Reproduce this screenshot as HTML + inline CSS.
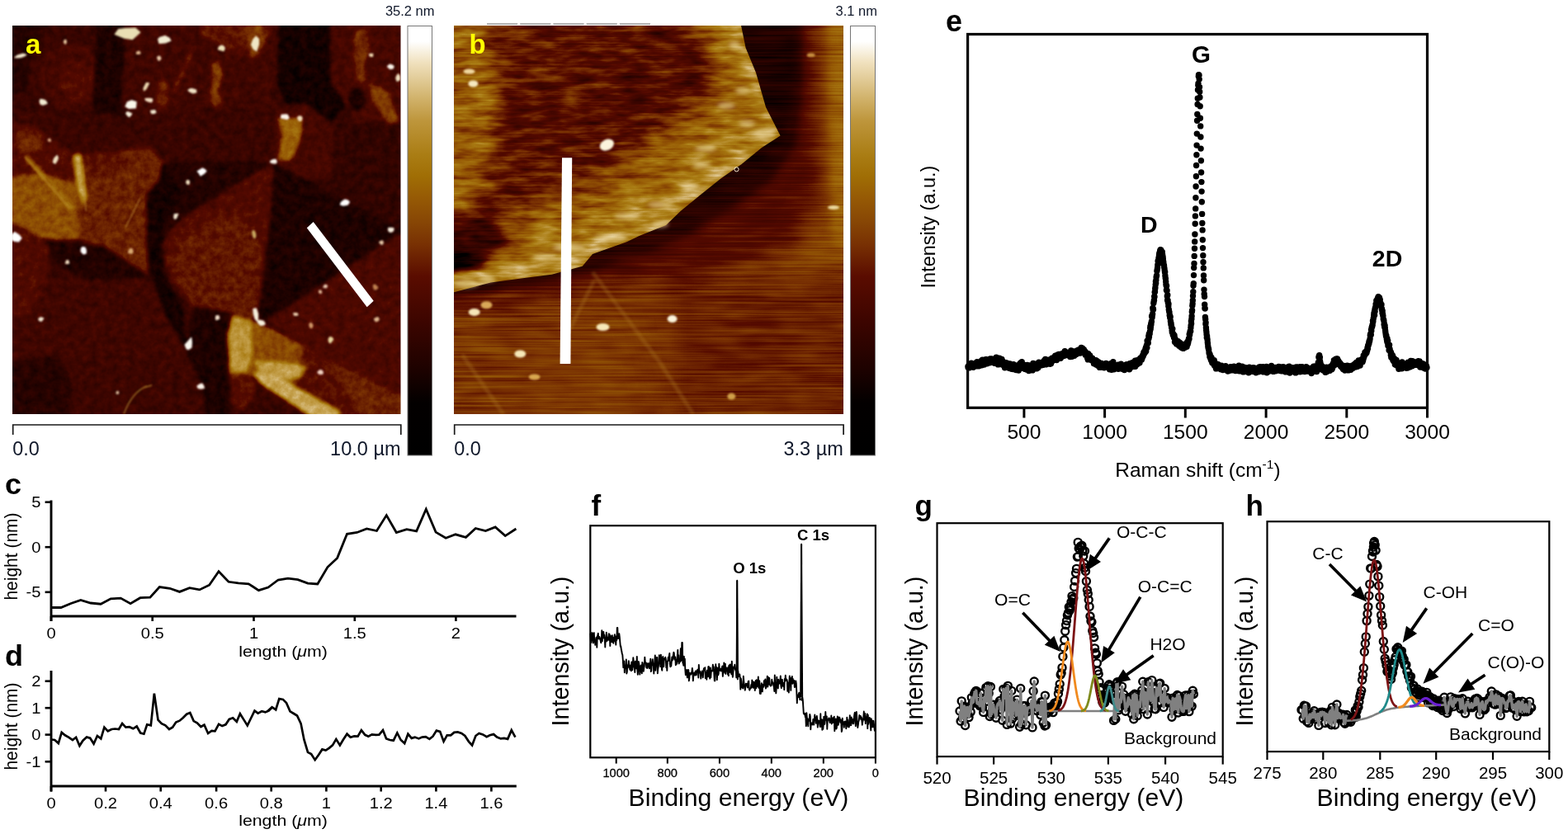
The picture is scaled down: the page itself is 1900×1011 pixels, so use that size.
<!DOCTYPE html>
<html lang="en"><head><meta charset="utf-8"><title>Figure: AFM, Raman and XPS characterisation</title>
<style>
html,body{margin:0;padding:0;background:#fff;}
body{width:1900px;height:1011px;overflow:hidden;font-family:"Liberation Sans",sans-serif;}
svg{display:block;font-family:"Liberation Sans",sans-serif;}
</style></head><body>
<svg width="1900" height="1011" viewBox="0 0 1900 1011">
<defs>
<linearGradient id="cbar" x1="0" y1="0" x2="0" y2="1">
<stop offset="0" stop-color="#fff"/><stop offset="0.036" stop-color="#fff"/><stop offset="0.085" stop-color="#f0e1be"/><stop offset="0.165" stop-color="#d2b46e"/><stop offset="0.22" stop-color="#be963c"/><stop offset="0.3" stop-color="#aa7d14"/><stop offset="0.35" stop-color="#a06e05"/><stop offset="0.4" stop-color="#965a05"/><stop offset="0.457" stop-color="#874605"/><stop offset="0.51" stop-color="#783003"/><stop offset="0.583" stop-color="#5a0c00"/><stop offset="0.69" stop-color="#3c0500"/><stop offset="0.797" stop-color="#1e0200"/><stop offset="0.877" stop-color="#030000"/><stop offset="1" stop-color="#000"/>
</linearGradient>
<clipPath id="clipA"><rect x="15" y="31" width="470.5" height="471"/></clipPath>
<clipPath id="clipB"><rect x="550" y="31" width="472" height="471"/></clipPath>
<filter id="blur1" x="-50%" y="-50%" width="200%" height="200%"><feGaussianBlur stdDeviation="1"/></filter>
<filter id="blur2" x="-50%" y="-50%" width="200%" height="200%"><feGaussianBlur stdDeviation="1.6"/></filter>
<filter id="blur3" x="-50%" y="-50%" width="200%" height="200%"><feGaussianBlur stdDeviation="2.6"/></filter>
<filter id="blur5" x="-50%" y="-50%" width="200%" height="200%"><feGaussianBlur stdDeviation="5"/></filter>
<filter id="blur12" x="-50%" y="-50%" width="200%" height="200%"><feGaussianBlur stdDeviation="12"/></filter>
<filter id="fA" x="0" y="0" width="1900" height="1011" filterUnits="userSpaceOnUse" color-interpolation-filters="sRGB"><feGaussianBlur in="SourceGraphic" stdDeviation="2.0" result="b"/><feTurbulence type="fractalNoise" baseFrequency="0.11" numOctaves="3" seed="5" result="n"/><feColorMatrix in="n" type="matrix" values="1 0 0 0 0  1 0 0 0 0  1 0 0 0 0  0 0 0 0 1" result="g"/><feComposite in="b" in2="g" operator="arithmetic" k1="0" k2="1" k3="0.16" k4="-0.08" result="c"/><feComponentTransfer><feFuncR type="table" tableValues="0 0 0.118 0.227 0.333 0.478 0.588 0.667 0.776 0.925 1"/><feFuncG type="table" tableValues="0 0 0.008 0.02 0.039 0.196 0.353 0.49 0.635 0.855 1"/><feFuncB type="table" tableValues="0 0 0 0 0 0.012 0.02 0.078 0.314 0.706 1"/></feComponentTransfer></filter><filter id="fB" x="0" y="0" width="1900" height="1011" filterUnits="userSpaceOnUse" color-interpolation-filters="sRGB"><feGaussianBlur in="SourceGraphic" stdDeviation="1.2" result="b"/><feTurbulence type="fractalNoise" baseFrequency="0.028 0.11" numOctaves="3" seed="9" result="n"/><feColorMatrix in="n" type="matrix" values="1 0 0 0 0  1 0 0 0 0  1 0 0 0 0  0 0 0 0 1" result="g"/><feComposite in="b" in2="g" operator="arithmetic" k1="0" k2="1" k3="0.4" k4="-0.2" result="c"/><feTurbulence type="fractalNoise" baseFrequency="0.006 0.45" numOctaves="2" seed="4" result="n2"/><feColorMatrix in="n2" type="matrix" values="1 0 0 0 0  1 0 0 0 0  1 0 0 0 0  0 0 0 0 1" result="g2"/><feComposite in="c" in2="g2" operator="arithmetic" k1="0" k2="1" k3="0.12" k4="-0.06" result="c"/><feComponentTransfer><feFuncR type="table" tableValues="0 0 0.118 0.227 0.333 0.478 0.588 0.667 0.776 0.925 1"/><feFuncG type="table" tableValues="0 0 0.008 0.02 0.039 0.196 0.353 0.49 0.635 0.855 1"/><feFuncB type="table" tableValues="0 0 0 0 0 0.012 0.02 0.078 0.314 0.706 1"/></feComponentTransfer></filter><filter id="fBs" x="0" y="0" width="1900" height="1011" filterUnits="userSpaceOnUse" color-interpolation-filters="sRGB"><feGaussianBlur in="SourceGraphic" stdDeviation="1.5" result="b"/><feTurbulence type="fractalNoise" baseFrequency="0.006 0.4" numOctaves="2" seed="4" result="n"/><feColorMatrix in="n" type="matrix" values="1 0 0 0 0  1 0 0 0 0  1 0 0 0 0  0 0 0 0 1" result="g"/><feComposite in="b" in2="g" operator="arithmetic" k1="0" k2="1" k3="0.22" k4="-0.11" result="c"/><feTurbulence type="fractalNoise" baseFrequency="0.02 0.06" numOctaves="2" seed="7" result="n2"/><feColorMatrix in="n2" type="matrix" values="1 0 0 0 0  1 0 0 0 0  1 0 0 0 0  0 0 0 0 1" result="g2"/><feComposite in="c" in2="g2" operator="arithmetic" k1="0" k2="1" k3="0.12" k4="-0.06" result="c"/><feComponentTransfer><feFuncR type="table" tableValues="0 0 0.118 0.227 0.333 0.478 0.588 0.667 0.776 0.925 1"/><feFuncG type="table" tableValues="0 0 0.008 0.02 0.039 0.196 0.353 0.49 0.635 0.855 1"/><feFuncB type="table" tableValues="0 0 0 0 0 0.012 0.02 0.078 0.314 0.706 1"/></feComponentTransfer></filter></defs>
<rect width="1900" height="1011" fill="#fff"/>
<g clip-path="url(#clipA)"><g filter="url(#fA)"><rect x="5" y="21" width="490" height="491" fill="#4a4a4a"/><polygon points="5,21 60,21 40,60 30,110 5,120" fill="#383838"/><ellipse cx="86" cy="92" rx="40" ry="40" fill="#575757"/><ellipse cx="95" cy="100" rx="22" ry="22" fill="#636363"/><polygon points="118,21 152,21 150,80 146,140 150,176 120,178 112,120 116,60" fill="#333333"/><polygon points="152,21 262,21 262,128 232,136 190,140 150,130 150,70" fill="#525252"/><polygon points="240,21 340,21 338,60 330,128 262,134 248,100" fill="#525252"/><polygon points="192,98 200,96 206,104 202,116 205,126 196,130 188,124 191,110" fill="#757575"/><polygon points="228,66 234,64 224,88 214,110 208,112 216,92" fill="#757575"/><polygon points="256,76 266,74 270,92 264,110 270,124 258,130 254,112 258,96" fill="#858585"/><polygon points="240,24 330,24 326,46 290,66 262,52 244,44" fill="#6b6b6b"/><polygon points="298,30 316,30 322,48 314,68 304,70 300,50" fill="#858585"/><polygon points="338,21 400,21 400,100 420,128 400,150 345,126 336,100" fill="#2b2b2b"/><polygon points="400,21 495,21 495,150 430,146 402,100" fill="#575757"/><polygon points="430,36 444,34 448,60 440,80 446,98 432,100 428,70" fill="#7a7a7a"/><polygon points="448,100 470,110 484,150 470,152 450,120" fill="#858585"/><ellipse cx="432" cy="120" rx="10" ry="14" fill="#333333"/><polygon points="5,132 150,140 330,136 330,196 300,212 200,200 180,178 110,184 5,180" fill="#4c4c4c"/><polygon points="330,128 372,126 402,150 404,212 372,218 334,200" fill="#575757"/><polygon points="336,142 368,144 364,170 352,196 336,194 342,165" fill="#9e9e9e"/><polygon points="404,150 495,150 495,282 404,236" fill="#454545"/><polygon points="5,150 40,150 72,176 100,187 92,222 50,212 5,215" fill="#616161"/><polygon points="100,187 148,182 183,179 198,197 193,219 178,236 178,300 184,337 126,298 92,290 88,230" fill="#757575"/><polygon points="5,215 50,210 92,222 96,290 67,291 50,288 5,266" fill="#919191"/><polygon points="100,187 148,183 160,200 120,215 96,212" fill="#6b6b6b"/><polygon points="88,188 98,186 106,240 99,248 92,220" fill="#c7c7c7"/><polygon points="28,190 34,189 90,250 84,254" fill="#a8a8a8"/><polygon points="20,160 48,164 52,182 24,184" fill="#7a7a7a"/><polygon points="198,197 240,215 222,250 200,262 198,330 220,367 228,429 213,456 200,440 196,380 180,330 178,256 178,236 193,219" fill="#2b2b2b"/><polygon points="198,197 330,196 300,214 262,238 225,260 205,280 200,262 222,240" fill="#383838"/><polygon points="58,292 126,300 184,338 196,372 150,352 100,336 64,318" fill="#363636"/><polygon points="5,268 50,288 60,300 56,340 40,380 5,390" fill="#616161"/><polygon points="331,197 300,215 262,240 225,262 205,280 197,296 200,320 212,345 235,370 262,385 290,392 312,386 320,330 328,260" fill="#616161"/><polygon points="262,262 300,262 318,300 312,386 290,392 262,385 235,370 212,345 204,318 215,290" fill="#6e6e6e" filter="url(#blur5)"/><polygon points="332,197 404,236 495,282 495,276 324,388 312,386 320,330 328,260" fill="#333333"/><polygon points="324,388 495,276 495,490 398,436 368,419" fill="#5c5c5c"/><polygon points="56,340 184,337 200,380 230,430 250,470 260,512 5,512 5,390 40,380" fill="#525252"/><polygon points="5,440 70,430 90,470 80,512 5,512" fill="#3b3b3b"/><polygon points="90,440 180,430 250,470 262,512 90,512" fill="#4f4f4f"/><polygon points="236,372 284,380 276,404 278,512 250,512 246,470 226,430" fill="#333333"/><polygon points="284.5,379.6 306.8,389.5 321.6,394.5 368.6,419.2 398.3,436.5 482.3,478.5 495,484 495,512 390,512 314,461 301.8,453.8 277,453.8 274.6,404.4" fill="#8a8a8a"/><polygon points="368,420 400,437 440,512 396,512 356,470" fill="#666666"/><polygon points="281,382 305,390 307,420 300,452 279,452 276,405" fill="#c2c2c2"/><polygon points="305,390 321,395 366,419 350,440 306,432" fill="#8f8f8f"/><polygon points="308,436 350,440 372,444 364,458 340,464 314,456" fill="#c7c7c7"/><polygon points="306,452 328,452 412,498 410,512 386,512 314,464" fill="#cccccc"/><polygon points="278,454 306,454 312,470 296,500 282,490" fill="#666666"/><polygon points="398,436.5 482.3,478.5 495,484 495,512 440,512" fill="#757575"/></g>
<g filter="url(#blur1)"><polygon points="160.5,47.6 150.7,46.1 139.3,41.5 143.6,35.6 152.5,34.5 163.8,34 169.7,39.3" fill="#e9dfb4" stroke="#e9dfb4" stroke-width="1.2" stroke-linejoin="round"/><polygon points="200.9,51.8 192.9,52.4 191.7,47.5 194,45.3 200,43.6 205.2,46.3 206.9,49.2" fill="#f2ecd2" stroke="#f2ecd2" stroke-width="1.2" stroke-linejoin="round"/><polygon points="28.5,68.5 24.7,69.7 21.1,69.8 17.9,69.7 21.4,67.1 27.5,65.2 31.8,66.4" fill="#f2e6cc" stroke="#f2e6cc" stroke-width="1.2" stroke-linejoin="round"/><polygon points="79.2,48.3 80.2,49.2 80.3,51.5 79.3,53.3 78.3,52.5 77.4,51 78.1,49" fill="#e8c8a0" stroke="#e8c8a0" stroke-width="1.2" stroke-linejoin="round"/><polygon points="57.1,125.4 52,127.3 49.1,126.2 48.1,122.8 49.1,120.3 53,121 55.4,122.3" fill="#f2ecd2" stroke="#f2ecd2" stroke-width="1.2" stroke-linejoin="round"/><polygon points="165.1,123.5 164.8,127.2 164.3,130.9 155.9,131.3 152.1,129 154.4,123.8 159.6,121.7" fill="#fbf8ea" stroke="#fbf8ea" stroke-width="1.2" stroke-linejoin="round"/><polygon points="159.6,137.9 158.3,140 156.5,141.6 154.5,140 152.7,137.4 154.3,135.7 156.5,136.3" fill="#f6f0dc" stroke="#f6f0dc" stroke-width="1.2" stroke-linejoin="round"/><polygon points="185.1,137.7 183.4,137.2 182.6,134.3 185.4,133.9 187.7,133.7 189,136.1 187.6,137.2" fill="#f2e6cc" stroke="#f2e6cc" stroke-width="1.2" stroke-linejoin="round"/><polygon points="184.4,119.9 184.7,121.9 183.6,123.8 180,123.1 176.4,121.5 176,119.6 180.6,119.4" fill="#f0dcc0" stroke="#f0dcc0" stroke-width="1.2" stroke-linejoin="round"/><polygon points="177.3,100.5 179,100.6 180.6,101 177.5,106.9 176.5,108.3 174.5,109.8 174,107.1" fill="#eed8b0" stroke="#eed8b0" stroke-width="1.2" stroke-linejoin="round"/><polygon points="191.4,68.6 193.5,68 194.5,69.5 194.9,71.4 193.1,73.2 191.8,73 190.6,69.7" fill="#e8c8a8" stroke="#e8c8a8" stroke-width="1.2" stroke-linejoin="round"/><polygon points="233,107.5 237.6,109.1 237.8,111.9 233.8,113 230.1,111.2 227.9,109.3 230.9,107.6" fill="#f0e2c4" stroke="#f0e2c4" stroke-width="1.2" stroke-linejoin="round"/><polygon points="165.3,63.9 166.3,62.8 168.6,62.1 169.9,63.7 169.9,64.9 168.3,65.3 165.9,65.5" fill="#e0b890" stroke="#e0b890" stroke-width="1.2" stroke-linejoin="round"/><polygon points="243,212.9 241.4,210.1 239.2,207.7 245.3,204.1 248,205.3 250,207.3 247.4,210.2" fill="#fff" stroke="#fff" stroke-width="1.2" stroke-linejoin="round"/><polygon points="64.5,195.6 65.7,192 69.2,188.4 70.3,191.1 69.7,193.9 67,198.3 64.6,197" fill="#f0e0c0" stroke="#f0e0c0" stroke-width="1.2" stroke-linejoin="round"/><polygon points="225.7,221.3 226.4,218.9 227.9,218.5 229.4,219.8 229.4,222 228.6,223.4 226.7,223" fill="#f0e0c0" stroke="#f0e0c0" stroke-width="1.2" stroke-linejoin="round"/><polygon points="215.7,259.4 214.9,261.3 213.8,264.3 211.9,265.4 210.8,263.8 211.3,259.6 212.9,259.5" fill="#f2e6d0" stroke="#f2e6d0" stroke-width="1.2" stroke-linejoin="round"/><polygon points="23.2,285 26,288.7 22.7,293 17.9,292.5 14.4,290.8 14.1,284.9 17.8,281.5" fill="#fff" stroke="#fff" stroke-width="1.2" stroke-linejoin="round"/><polygon points="101,307.9 98.2,304.9 98.4,301.5 99.9,299.7 103.1,300.2 104.3,303.5 104.1,307.1" fill="#fff" stroke="#fff" stroke-width="1.2" stroke-linejoin="round"/><polygon points="80.6,315.9 82.6,315.7 83.5,317.9 83.6,319 81.8,319.7 79.4,319.2 80.1,317.3" fill="#f0dcc0" stroke="#f0dcc0" stroke-width="1.2" stroke-linejoin="round"/><polygon points="159.7,301.2 160.4,302.5 161.2,305.3 159.5,307.4 155.5,306.4 156.3,303.5 157.1,302.1" fill="#d8a870" stroke="#d8a870" stroke-width="1.2" stroke-linejoin="round"/><polygon points="52.7,385.8 51.9,387.2 50.4,389.2 48,388.8 46.8,387.1 47.3,385.9 49.4,384.7" fill="#f2e6d0" stroke="#f2e6d0" stroke-width="1.2" stroke-linejoin="round"/><polygon points="232.3,414.8 231.9,421.3 228.4,423.6 226,422.6 224.2,418 228.3,413.4 231.7,409.4" fill="#fbf8f0" stroke="#fbf8f0" stroke-width="1.2" stroke-linejoin="round"/><polygon points="239,468 242.3,465.8 245,465.2 246.7,467.9 247.3,470.5 243.4,471.2 240,470.3" fill="#fbf4ea" stroke="#fbf4ea" stroke-width="1.2" stroke-linejoin="round"/><polygon points="142.9,477.4 141.6,477.2 141,476.7 141.3,475.1 142.5,474.4 143.4,474.8 143.7,476.5" fill="#e0c0a0" stroke="#e0c0a0" stroke-width="1.2" stroke-linejoin="round"/><polygon points="313.6,53.4 310.9,61.7 307.2,59.4 304.5,54.1 306.7,48.1 310.2,44.1 313.4,47.1" fill="#efe6c4" stroke="#efe6c4" stroke-width="1.2" stroke-linejoin="round"/><polygon points="270.9,56.1 272.3,58.3 271.1,61.6 267.2,60.6 264.4,59.7 265.6,56.5 268.5,55.1" fill="#efe2b8" stroke="#efe2b8" stroke-width="1.2" stroke-linejoin="round"/><polygon points="476.2,83 472.9,83.6 471.5,82.7 469.5,80.5 472.3,78.2 475.4,79.1 477.2,80.4" fill="#fbf4ea" stroke="#fbf4ea" stroke-width="1.2" stroke-linejoin="round"/><polygon points="479.8,94.8 480.9,91.7 482.7,89.7 484.3,92.2 484.5,96.7 482.7,97.8 481.2,98.5" fill="#f0e0c0" stroke="#f0e0c0" stroke-width="1.2" stroke-linejoin="round"/><polygon points="447.6,65.6 449.4,65.4 451.9,65.4 451.6,66.9 451.6,68.4 449.4,68.4 447.9,67.6" fill="#f0d8b0" stroke="#f0d8b0" stroke-width="1.2" stroke-linejoin="round"/><polygon points="341,139.3 345.3,138.9 348.3,139 350.2,142.9 348.2,144.6 343.2,143.6 340.6,142.9" fill="#fbf4ea" stroke="#fbf4ea" stroke-width="1.2" stroke-linejoin="round"/><polygon points="364.8,146.3 362.7,146.5 361.5,145.4 360.5,142.5 362.5,140.8 365.5,141.3 366.1,143.9" fill="#f0dcb8" stroke="#f0dcb8" stroke-width="1.2" stroke-linejoin="round"/><polygon points="334.5,197.8 331,198 327.8,196.8 327.6,195.4 330.9,193.5 334.2,193.4 335.2,195.8" fill="#fbf4ea" stroke="#fbf4ea" stroke-width="1.2" stroke-linejoin="round"/><polygon points="413.6,245 417.9,242.1 421.2,242.8 423.4,245 421.2,248.1 416,249.1 412.4,247.9" fill="#fff" stroke="#fff" stroke-width="1.2" stroke-linejoin="round"/><polygon points="476.4,280 473.6,281.4 471.6,280.7 470.5,279 470.8,276.3 475.3,276.4 477.1,277.1" fill="#f6ecdc" stroke="#f6ecdc" stroke-width="1.2" stroke-linejoin="round"/><polygon points="463.9,295.6 462.2,296.4 460.6,294.9 459.7,293.7 461,292.5 463.3,291.8 464.3,293.6" fill="#e8c8a8" stroke="#e8c8a8" stroke-width="1.2" stroke-linejoin="round"/><polygon points="396.4,347.4 395.3,349 393.8,348.7 392,348.3 392.7,346.4 393.6,345.4 395.9,345.6" fill="#e8c8b0" stroke="#e8c8b0" stroke-width="1.2" stroke-linejoin="round"/><polygon points="388.5,352 389.2,352.7 389.7,354.6 388.7,355.6 387.4,355.1 386.5,354.1 386.9,352" fill="#e0b898" stroke="#e0b898" stroke-width="1.2" stroke-linejoin="round"/><polygon points="309.8,286.8 308.4,288.8 306.9,287.1 305.7,282.1 306.5,279.5 308.4,280.4 309.7,283.8" fill="#c8a860" stroke="#c8a860" stroke-width="1.2" stroke-linejoin="round"/><polygon points="356,381.2 355.8,379.6 359.1,379.6 360.6,380 361,381.9 359.2,382.4 356.8,382.3" fill="#e8c8a8" stroke="#e8c8a8" stroke-width="1.2" stroke-linejoin="round"/><polygon points="263.4,382.6 265,382.9 265.8,385.9 264.5,387 262.1,387.7 261.4,386.4 261.7,383.1" fill="#f0dcc8" stroke="#f0dcc8" stroke-width="1.2" stroke-linejoin="round"/><polygon points="312.5,380.3 312.5,385.6 311.8,389.7 309,386.1 307.2,379.8 306.9,374.6 310.4,373.9" fill="#f6f0dc" stroke="#f6f0dc" stroke-width="1.2" stroke-linejoin="round"/><polygon points="319.3,389.3 321.2,392.5 319.4,394 315.6,394.4 312.6,391.4 312.6,389.2 314,388.2" fill="#f6f0dc" stroke="#f6f0dc" stroke-width="1.2" stroke-linejoin="round"/><polygon points="402.3,413.3 400.2,415.8 398.6,414.3 398.1,411 399.8,408.6 402.4,409.4 403.6,411.4" fill="#e8d8a0" stroke="#e8d8a0" stroke-width="1.2" stroke-linejoin="round"/><polygon points="458.7,388.5 455.7,389.7 454.3,388.6 453.5,386.6 455.9,385.3 457.7,384.5 459.1,386.4" fill="#e0b890" stroke="#e0b890" stroke-width="1.2" stroke-linejoin="round"/><polygon points="389.7,448.9 391.2,450.7 391.2,452.9 388.8,453.7 386,452.9 384.9,451.2 387.2,448.8" fill="#f0d0c0" stroke="#f0d0c0" stroke-width="1.2" stroke-linejoin="round"/><polygon points="374.9,392.8 376.7,391.3 378.5,393.1 379,394.9 377.6,397.6 375.5,396.8 375.1,395.1" fill="#d09868" stroke="#d09868" stroke-width="1.2" stroke-linejoin="round"/><polygon points="453.6,351 452.6,348.2 452.3,345.7 454.2,345.1 456.3,346.7 457.9,348.6 455.8,351" fill="#c08050" stroke="#c08050" stroke-width="1.2" stroke-linejoin="round"/><polygon points="61.4,171 59.9,171.4 59,171 58.1,169.5 58.9,168.9 60.2,168.1 61.2,169.6" fill="#d8a880" stroke="#d8a880" stroke-width="1.2" stroke-linejoin="round"/></g>
<path d="M150 502Q160 475 178 468M174 470l10 -3M30 190L84 252M100 200L104 256M170 240L152 276" fill="none" stroke="#b8862c" stroke-width="1.4" opacity="0.8" filter="url(#blur1)"/>
<polygon points="379.7,268.9 452.7,364.8 444.7,372.2 371.8,276.3" fill="#fff"/>
</g>
<text x="31" y="65" font-size="33" font-weight="bold" fill="#ff0">a</text>
<path d="M15.7 527V515H485.8V527" fill="none" stroke="#1a1a1a" stroke-width="1.7"/>
<text x="15.3" y="551.5" font-size="23.5" fill="#10182a" textLength="32.5" lengthAdjust="spacingAndGlyphs">0.0</text>
<text x="485.5" y="551.5" font-size="23.5" text-anchor="end" fill="#10182a">10.0 µm</text>
<rect x="494" y="31.5" width="29.5" height="520.5" fill="url(#cbar)" stroke="#777" stroke-width="1"/>
<text x="526.5" y="18.7" font-size="16.5" text-anchor="end" fill="#10182a">35.2 nm</text>
<g clip-path="url(#clipB)"><g filter="url(#fBs)"><rect x="540" y="21" width="492" height="491" fill="#7d7d7d"/><polygon points="1000,21 1040,21 1040,330 1008,300 1000,200" fill="#949494" filter="url(#blur12)"/><polygon points="880,310 1032,280 1032,350 900,350" fill="#8f8f8f" filter="url(#blur12)"/><polygon points="540,380 760,370 800,512 540,512" fill="#828282" filter="url(#blur12)"/><polygon points="820,330 1032,330 1032,512 820,512" fill="#757575" filter="url(#blur12)"/><polygon points="1004,10 1040,10 1040,300 1010,300" fill="#9e9e9e" filter="url(#blur5)"/><polygon points="540,300 800,200 900,21 985,21 985,150 990,230 960,300 860,326 760,340 660,354 540,368" fill="#616161" filter="url(#blur12)"/><polygon points="540,300 800,200 900,10 972,10 972,120 965,175 935,218 885,254 835,284 778,308 720,328 660,342 600,351 530,364" fill="#3d3d3d" filter="url(#blur5)"/><polygon points="900,10 965,10 960,120 948,172 922,198 888,222 850,245 800,200" fill="#333333" filter="url(#blur5)"/></g>
<path d="M718 330L800 440L840 502M560 430L610 502M720 340L690 400" fill="none" stroke="#b07a20" stroke-width="5" opacity="0.3" filter="url(#blur2)"/>
<clipPath id="flakeClip"><polygon points="896,21 903.6,58 916,88 928,130 945.6,164.5 923,179 898.6,199 874,216 849,236 824.5,256 807,273 775,285.7 760,293 718,308 705.7,322.8 668.6,332.7 631.5,337.6 594.5,342.5 540,357 540,21"/></clipPath>
<g clip-path="url(#flakeClip)"><g filter="url(#fB)"><rect x="540" y="21" width="492" height="491" fill="#6e6e6e"/><polygon points="530,10 588,10 604,110 596,190 580,250 530,262" fill="#999999" filter="url(#blur12)"/><ellipse cx="770" cy="95" rx="90" ry="50" fill="#636363" filter="url(#blur12)"/><ellipse cx="680" cy="150" rx="70" ry="40" fill="#666666" filter="url(#blur12)"/><polygon points="900,10 906,58 918,90 930,130 948,166 924,180 900,200 876,218 850,238 826,258 808,275 776,287 760,295 720,310 706,324 670,334 632,339 596,344 530,362 458.8,299.3 524.8,281.3 560.8,276.3 598.8,271.3 634.8,261.3 648.8,247.3 688.8,232.3 704.8,224.3 736.8,212.3 754.8,195.3 778.8,175.3 804.8,155.3 828.8,137.3 852.8,117.3 876.8,103.3 858.8,67.3 846.8,27.3 834.8,-4.7 828.8,-52.7" fill="#999999" filter="url(#blur12)"/><polygon points="900,10 906,58 918,90 930,130 948,166 924,180 900,200 876,218 850,238 826,258 808,275 776,287 760,295 720,310 706,324 670,334 632,339 596,344 530,362 491,327.7 557,309.7 593,304.7 631,299.7 667,289.7 681,275.7 721,260.7 737,252.7 769,240.7 787,223.7 811,203.7 837,183.7 861,165.7 885,145.7 909,131.7 891,95.7 879,55.7 867,23.7 861,-24.3" fill="#adadad" filter="url(#blur12)"/><polygon points="900,10 906,58 918,90 930,130 948,166 924,180 900,200 876,218 850,238 826,258 808,275 776,287 760,295 720,310 706,324 670,334 632,339 596,344 530,362 513.5,347.5 579.5,329.5 615.5,324.5 653.5,319.5 689.5,309.5 703.5,295.5 743.5,280.5 759.5,272.5 791.5,260.5 809.5,243.5 833.5,223.5 859.5,203.5 883.5,185.5 907.5,165.5 931.5,151.5 913.5,115.5 901.5,75.5 889.5,43.5 883.5,-4.5" fill="#c2c2c2" filter="url(#blur5)"/><polygon points="530,264 592,268 618,290 592,316 562,328 530,334" fill="#4c4c4c" filter="url(#blur5)"/><ellipse cx="560" cy="316" rx="26" ry="12" fill="#2e2e2e" transform="rotate(-6 560 316)" filter="url(#blur5)"/><polygon points="530,338 575,330 620,322 640,336 590,346 530,360" fill="#bdbdbd" filter="url(#blur3)"/></g></g>
<g filter="url(#blur3)"><ellipse cx="926" cy="162" rx="12" ry="6" fill="#ecd9a0" opacity="0.6"/><ellipse cx="905" cy="150" rx="10" ry="4" fill="#ecd9a0" opacity="0.6"/><ellipse cx="900" cy="110" rx="9" ry="4" fill="#ecd9a0" opacity="0.6"/><ellipse cx="880" cy="128" rx="11" ry="4" fill="#ecd9a0" opacity="0.6"/><ellipse cx="855" cy="180" rx="13" ry="4" fill="#ecd9a0" opacity="0.6"/><ellipse cx="850" cy="200" rx="11" ry="4" fill="#ecd9a0" opacity="0.6"/><ellipse cx="835" cy="226" rx="10" ry="4" fill="#ecd9a0" opacity="0.6"/><ellipse cx="800" cy="248" rx="15" ry="4" fill="#ecd9a0" opacity="0.6"/><ellipse cx="760" cy="262" rx="15" ry="4" fill="#ecd9a0" opacity="0.6"/><ellipse cx="740" cy="288" rx="20" ry="4" fill="#ecd9a0" opacity="0.6"/><ellipse cx="690" cy="300" rx="20" ry="5" fill="#ecd9a0" opacity="0.6"/><ellipse cx="660" cy="312" rx="15" ry="4" fill="#ecd9a0" opacity="0.6"/><ellipse cx="565" cy="344" rx="15" ry="5" fill="#ecd9a0" opacity="0.6"/><ellipse cx="590" cy="338" rx="10" ry="4" fill="#ecd9a0" opacity="0.6"/><ellipse cx="800" cy="272" rx="10" ry="4" fill="#ecd9a0" opacity="0.6"/><ellipse cx="890" cy="55" rx="7" ry="5" fill="#ecd9a0" opacity="0.6"/></g>
<g filter="url(#blur1)"><ellipse cx="735.4" cy="175.6" rx="9" ry="6.5" fill="#fbf4dc" transform="rotate(-25 735.4 175.6)"/><ellipse cx="568.5" cy="86.6" rx="7" ry="3" fill="#f0d8a0"/><ellipse cx="573.4" cy="101.4" rx="6" ry="4" fill="#f6e8c0"/><ellipse cx="574.7" cy="378.4" rx="7" ry="4.5" fill="#f6e8b8"/><ellipse cx="589.5" cy="369.7" rx="7" ry="4.5" fill="#d8a858"/><ellipse cx="630.3" cy="429" rx="7" ry="4.5" fill="#f6e8b8"/><ellipse cx="730.5" cy="396.5" rx="8" ry="4.5" fill="#f6e8b8"/><ellipse cx="647.6" cy="457" rx="7" ry="3.5" fill="#d8a850"/><ellipse cx="814.6" cy="386.6" rx="6" ry="4.5" fill="#fbf4dc"/><ellipse cx="886.3" cy="480.5" rx="5" ry="4" fill="#d0a048"/><ellipse cx="982.7" cy="66.8" rx="5" ry="2.5" fill="#c89040"/><ellipse cx="1010" cy="251.5" rx="7" ry="2.5" fill="#ecd9a0"/></g>
<circle cx="892.5" cy="205.3" r="2.6" fill="none" stroke="#f0e8d0" stroke-width="1"/>
<polygon points="681,191.2 693.2,191.2 691.4,441 678.6,441" fill="#fff"/>
</g>
<path d="M590 29H788" stroke="#9a9a9a" stroke-width="1.6" stroke-dasharray="37.2 3" fill="none"/>
<text x="568.5" y="65" font-size="33" font-weight="bold" fill="#ff0">b</text>
<path d="M550.7 527V515H1022.0999999999999V527" fill="none" stroke="#1a1a1a" stroke-width="1.7"/>
<text x="550.3" y="551.5" font-size="23.5" fill="#10182a" textLength="32.5" lengthAdjust="spacingAndGlyphs">0.0</text>
<text x="1021.8" y="551.5" font-size="23.5" text-anchor="end" fill="#10182a">3.3 µm</text>
<rect x="1030.5" y="31.5" width="30" height="520.5" fill="url(#cbar)" stroke="#777" stroke-width="1"/>
<text x="1063" y="18.7" font-size="16.5" text-anchor="end" fill="#10182a">3.1 nm</text>
<polyline points="61.9,736.5 73.9,736.5 86,731.5 97.8,727.4 109.8,731 122.1,732.2 134.2,725.8 146.2,725.1 158.1,731.7 169.9,724.7 181.9,724.2 193.3,711.5 205.8,713.3 217.6,717.4 229.7,712.6 241.8,714.9 253.6,709.2 265,692.8 277,705.3 288.8,706.9 301.3,707.8 313.4,715.6 325,712.1 337.1,703 348.9,701.2 360.9,702.6 373,707.1 384.8,708 396.9,687.6 408.7,676.4 420.5,647.3 432.6,645.5 444.4,641 456.5,643.5 468.3,624.6 480.3,645.5 492.8,641.6 504.7,643.9 516.3,617.3 528.1,645.1 540.2,652.3 552,647.8 564.5,651.4 576.3,640.5 588.4,643.5 600.2,638.9 612.2,649.6 625.4,641" fill="none" stroke="#000" stroke-width="2.8" stroke-linejoin="miter"/>
<path d="M62 606.5V753M60.8 747.0H625.5" stroke="#000" stroke-width="2.9" fill="none"/>
<line x1="54.6" y1="608.7" x2="62" y2="608.7" stroke="#000" stroke-width="2.6"/>
<text transform="translate(49.5 615.3) scale(1.09 1)" font-size="18.5" text-anchor="end" fill="#000">5</text>
<line x1="54.6" y1="663.2" x2="62" y2="663.2" stroke="#000" stroke-width="2.6"/>
<text transform="translate(49.5 669.8) scale(1.09 1)" font-size="18.5" text-anchor="end" fill="#000">0</text>
<line x1="54.6" y1="717.8" x2="62" y2="717.8" stroke="#000" stroke-width="2.6"/>
<text transform="translate(49.5 724.4) scale(1.09 1)" font-size="18.5" text-anchor="end" fill="#000">-5</text>
<line x1="62" y1="747" x2="62" y2="753" stroke="#000" stroke-width="2.6"/>
<text transform="translate(62 773.6) scale(1.09 1)" font-size="18.5" text-anchor="middle" fill="#000">0</text>
<line x1="184.7" y1="747" x2="184.7" y2="753" stroke="#000" stroke-width="2.6"/>
<text transform="translate(184.7 773.6) scale(1.09 1)" font-size="18.5" text-anchor="middle" fill="#000">0.5</text>
<line x1="307.5" y1="747" x2="307.5" y2="753" stroke="#000" stroke-width="2.6"/>
<text transform="translate(307.5 773.6) scale(1.09 1)" font-size="18.5" text-anchor="middle" fill="#000">1</text>
<line x1="429.8" y1="747" x2="429.8" y2="753" stroke="#000" stroke-width="2.6"/>
<text transform="translate(429.8 773.6) scale(1.09 1)" font-size="18.5" text-anchor="middle" fill="#000">1.5</text>
<line x1="552.4" y1="747" x2="552.4" y2="753" stroke="#000" stroke-width="2.6"/>
<text transform="translate(552.4 773.6) scale(1.09 1)" font-size="18.5" text-anchor="middle" fill="#000">2</text>
<text transform="translate(343 795.8) scale(1.135 1)" font-size="18.8" text-anchor="middle" fill="#000">length (<tspan font-style="italic">μ</tspan>m)</text>
<text transform="translate(20.8 674.5) rotate(-90) scale(1 1.08)" font-size="21" text-anchor="middle" fill="#000">height (nm)</text>
<text transform="translate(6 598.9) scale(1.03 1)" font-size="35" font-weight="bold" fill="#000">c</text>
<polyline points="62.2,896.5 66.3,897 70.8,901.1 74.7,887.9 78.8,891.3 83.4,893.8 88,897 92.1,893.8 96.4,904.1 100.5,897.7 105.1,893.6 109.2,894.7 113.6,901.6 117.9,892 122.3,895.4 126.4,881.7 130.7,886.3 135.3,884 139.4,883.5 144,884 148.1,877.1 152.4,881.7 156.8,881.2 161.3,883.3 165.7,880.5 170.2,888.5 174.4,889.7 178.2,878.3 182.8,879.4 186.9,840.6 191.5,872.6 195.8,877.1 200.4,879.4 205,884 209.1,881.7 213.2,875.5 217.6,873.7 221.7,870.3 226.2,865.7 230.3,864.1 234.7,874.1 238.8,876.4 243.4,881 247.5,878.7 252.1,889 256.4,885.8 260.5,886.3 265.1,877.8 269.2,880.1 273.5,878.3 277.7,871.9 282.2,870.3 286.8,874.8 290.9,865.2 295.2,872.1 299.8,879.4 303.9,871 308.5,861.6 312.6,864.6 317.2,862.3 321.5,863.4 325.6,861.6 330,857.2 324.1,862.3 329.6,857.2 334.2,860.4 338.3,847 342.9,847.9 347,852 351.5,862.3 355.9,865 360,867.5 364.6,877.1 368.4,896.5 373,911.9 377.1,914.1 381.7,921.2 386.3,914.8 390.4,908.4 394.7,909.6 398.8,906.8 403,903.4 407.3,896.1 411.9,903.4 416,896.5 420.5,889.7 424.7,893.8 429.2,892.4 433.6,892.7 437.9,885.1 442.3,890.8 446.4,892.7 450.7,890.4 455.3,890.8 459.4,890.6 464,885.1 468.1,895.4 472.4,897 476.8,897.7 481.3,888.5 485.7,897 490.2,901.1 494.4,889.7 498.7,894.9 502.8,893.6 507.4,895.4 511.5,893.6 515.8,893.1 520.4,895.9 524.5,892.7 528.9,885.6 533.2,886.9 537.6,898.8 541.7,891.3 546.2,891.3 550.3,887.9 554.7,887.4 559.3,889 563.4,892 567.9,898.8 572.1,903.4 576.4,892 580.5,889 585.1,890.4 589.7,893.1 593.5,891.3 598.1,890.1 602.2,893.6 606.8,895.4 610.9,894.9 615.2,895.9 619.8,885.1 624.4,893.6" fill="none" stroke="#000" stroke-width="2.7" stroke-linejoin="miter"/>
<path d="M62 813V959.5M60.8 953H625.8" stroke="#000" stroke-width="2.9" fill="none"/>
<line x1="54.6" y1="825.7" x2="62" y2="825.7" stroke="#000" stroke-width="2.6"/>
<text transform="translate(49.5 832.3) scale(1.09 1)" font-size="18.5" text-anchor="end" fill="#000">2</text>
<line x1="54.6" y1="858.2" x2="62" y2="858.2" stroke="#000" stroke-width="2.6"/>
<text transform="translate(49.5 864.8) scale(1.09 1)" font-size="18.5" text-anchor="end" fill="#000">1</text>
<line x1="54.6" y1="890.6" x2="62" y2="890.6" stroke="#000" stroke-width="2.6"/>
<text transform="translate(49.5 897.2) scale(1.09 1)" font-size="18.5" text-anchor="end" fill="#000">0</text>
<line x1="54.6" y1="923.3" x2="62" y2="923.3" stroke="#000" stroke-width="2.6"/>
<text transform="translate(49.5 929.9) scale(1.09 1)" font-size="18.5" text-anchor="end" fill="#000">-1</text>
<line x1="62" y1="953" x2="62" y2="959.5" stroke="#000" stroke-width="2.6"/>
<text transform="translate(62 979.9) scale(1.09 1)" font-size="18.5" text-anchor="middle" fill="#000">0</text>
<line x1="128" y1="953" x2="128" y2="959.5" stroke="#000" stroke-width="2.6"/>
<text transform="translate(128 979.9) scale(1.09 1)" font-size="18.5" text-anchor="middle" fill="#000">0.2</text>
<line x1="194.7" y1="953" x2="194.7" y2="959.5" stroke="#000" stroke-width="2.6"/>
<text transform="translate(194.7 979.9) scale(1.09 1)" font-size="18.5" text-anchor="middle" fill="#000">0.4</text>
<line x1="262.1" y1="953" x2="262.1" y2="959.5" stroke="#000" stroke-width="2.6"/>
<text transform="translate(262.1 979.9) scale(1.09 1)" font-size="18.5" text-anchor="middle" fill="#000">0.6</text>
<line x1="328.7" y1="953" x2="328.7" y2="959.5" stroke="#000" stroke-width="2.6"/>
<text transform="translate(328.7 979.9) scale(1.09 1)" font-size="18.5" text-anchor="middle" fill="#000">0.8</text>
<line x1="395.4" y1="953" x2="395.4" y2="959.5" stroke="#000" stroke-width="2.6"/>
<text transform="translate(395.4 979.9) scale(1.09 1)" font-size="18.5" text-anchor="middle" fill="#000">1</text>
<line x1="461.7" y1="953" x2="461.7" y2="959.5" stroke="#000" stroke-width="2.6"/>
<text transform="translate(461.7 979.9) scale(1.09 1)" font-size="18.5" text-anchor="middle" fill="#000">1.2</text>
<line x1="528.4" y1="953" x2="528.4" y2="959.5" stroke="#000" stroke-width="2.6"/>
<text transform="translate(528.4 979.9) scale(1.09 1)" font-size="18.5" text-anchor="middle" fill="#000">1.4</text>
<line x1="595.4" y1="953" x2="595.4" y2="959.5" stroke="#000" stroke-width="2.6"/>
<text transform="translate(595.4 979.9) scale(1.09 1)" font-size="18.5" text-anchor="middle" fill="#000">1.6</text>
<text transform="translate(343 1000.7) scale(1.135 1)" font-size="18.8" text-anchor="middle" fill="#000">length (<tspan font-style="italic">μ</tspan>m)</text>
<text transform="translate(20.8 880.5) rotate(-90) scale(1 1.08)" font-size="21" text-anchor="middle" fill="#000">height (nm)</text>
<text transform="translate(6 807) scale(1.03 1)" font-size="35" font-weight="bold" fill="#000">d</text>
<rect x="1172.6" y="41.5" width="556.9" height="452.8" fill="none" stroke="#000" stroke-width="3.2"/>
<line x1="1240.9" y1="494.3" x2="1240.9" y2="506.5" stroke="#000" stroke-width="3"/>
<text x="1240.9" y="531.8" font-size="24.6" text-anchor="middle" fill="#000">500</text>
<line x1="1338.6" y1="494.3" x2="1338.6" y2="506.5" stroke="#000" stroke-width="3"/>
<text x="1338.6" y="531.8" font-size="24.6" text-anchor="middle" fill="#000">1000</text>
<line x1="1436.3" y1="494.3" x2="1436.3" y2="506.5" stroke="#000" stroke-width="3"/>
<text x="1436.3" y="531.8" font-size="24.6" text-anchor="middle" fill="#000">1500</text>
<line x1="1534.1" y1="494.3" x2="1534.1" y2="506.5" stroke="#000" stroke-width="3"/>
<text x="1534.1" y="531.8" font-size="24.6" text-anchor="middle" fill="#000">2000</text>
<line x1="1631.8" y1="494.3" x2="1631.8" y2="506.5" stroke="#000" stroke-width="3"/>
<text x="1631.8" y="531.8" font-size="24.6" text-anchor="middle" fill="#000">2500</text>
<line x1="1729.5" y1="494.3" x2="1729.5" y2="506.5" stroke="#000" stroke-width="3"/>
<text x="1729.5" y="531.8" font-size="24.6" text-anchor="middle" fill="#000">3000</text>
<text x="1451.4" y="578" font-size="24.5" text-anchor="middle" fill="#000">Raman shift (cm<tspan font-size="15.5" dy="-10.5">-1</tspan><tspan dy="10.5">)</tspan></text>
<text transform="translate(1132.5 275) rotate(-90)" font-size="23.5" text-anchor="middle" fill="#000">Intensity (a.u.)</text>
<text x="1146" y="37.7" font-size="36" font-weight="bold" fill="#000">e</text>
<text x="1455.5" y="75.5" font-size="29.5" text-anchor="middle" font-weight="bold" fill="#000">G</text>
<text x="1392.3" y="281.8" font-size="28.5" text-anchor="middle" font-weight="bold" fill="#000">D</text>
<text x="1681" y="323.3" font-size="28.5" text-anchor="middle" font-weight="bold" fill="#000">2D</text>
<path d="M1172.9 444.4h0M1173.1 445.5h0M1173.4 444.2h0M1173.6 444h0M1173.9 442.9h0M1174.1 443.9h0M1174.3 445.9h0M1174.6 444.7h0M1174.8 445.6h0M1175.1 444.2h0M1175.3 444.4h0M1175.5 443.9h0M1175.8 440.9h0M1176 444.8h0M1176.3 444.1h0M1176.5 444h0M1176.7 440.5h0M1177 440.3h0M1177.2 441.6h0M1177.5 442.2h0M1177.7 443.3h0M1177.9 442.7h0M1178.2 443.5h0M1178.4 441.6h0M1178.7 443.1h0M1178.9 443.2h0M1179.1 441.4h0M1179.4 445.2h0M1179.6 443.3h0M1179.9 444.2h0M1180.1 441.3h0M1180.3 441.1h0M1180.6 441.7h0M1180.8 442h0M1181.1 443.1h0M1181.3 442.5h0M1181.5 441.4h0M1181.8 440.5h0M1182 441.2h0M1182.3 443.9h0M1182.5 440.7h0M1182.7 442.3h0M1183 442.6h0M1183.2 439.5h0M1183.5 441.9h0M1183.7 443.9h0M1183.9 438.6h0M1184.2 441.3h0M1184.4 441.6h0M1184.7 440.4h0M1184.9 442.5h0M1185.1 441.5h0M1185.4 439.3h0M1185.6 442.9h0M1185.9 442.6h0M1186.1 443h0M1186.3 443.7h0M1186.6 442h0M1186.8 441.5h0M1187.1 439.2h0M1187.3 442.2h0M1187.5 440.2h0M1187.8 440.4h0M1188 439h0M1188.3 439.4h0M1188.5 440.1h0M1188.7 442.9h0M1189 437.5h0M1189.2 438.4h0M1189.5 441h0M1189.7 442.8h0M1189.9 441.4h0M1190.2 437.3h0M1190.4 436.3h0M1190.7 440.8h0M1190.9 438.9h0M1191.1 438.2h0M1191.4 441.5h0M1191.6 441.6h0M1191.9 440h0M1192.1 440.1h0M1192.3 440.3h0M1192.6 442h0M1192.8 440.4h0M1193.1 440.1h0M1193.3 440.1h0M1193.5 436.6h0M1193.8 441.1h0M1194 440.5h0M1194.3 439.7h0M1194.5 435.6h0M1194.7 437.7h0M1195 439.9h0M1195.2 435.6h0M1195.5 438.1h0M1195.7 440h0M1195.9 436.2h0M1196.2 440.8h0M1196.4 439h0M1196.7 437.8h0M1196.9 438.5h0M1197.1 438.9h0M1197.4 438h0M1197.6 439.6h0M1197.9 436.6h0M1198.1 437h0M1198.3 439.2h0M1198.6 437.5h0M1198.8 436h0M1199.1 438.9h0M1199.3 439.7h0M1199.5 436.6h0M1199.8 435h0M1200 437h0M1200.3 436.9h0M1200.5 436.7h0M1200.7 439.4h0M1201 435.4h0M1201.2 439.1h0M1201.5 435h0M1201.7 435.8h0M1201.9 438h0M1202.2 438.8h0M1202.4 438.4h0M1202.7 437.5h0M1202.9 437.2h0M1203.1 437.2h0M1203.4 437.9h0M1203.6 436.7h0M1203.9 437.4h0M1204.1 437.9h0M1204.3 437h0M1204.6 438.3h0M1204.8 438h0M1205.1 440.3h0M1205.3 437.6h0M1205.5 436.5h0M1205.8 436.6h0M1206 437.2h0M1206.3 438.7h0M1206.5 436.8h0M1206.7 438h0M1207 440.3h0M1207.2 433.3h0M1207.5 435.7h0M1207.7 437.9h0M1207.9 438.2h0M1208.2 438.1h0M1208.4 437h0M1208.7 438.9h0M1208.9 438.3h0M1209.1 437.1h0M1209.4 441.9h0M1209.6 438.7h0M1209.9 437.3h0M1210.1 438.1h0M1210.3 438h0M1210.6 438.3h0M1210.8 434.2h0M1211.1 437.8h0M1211.3 440.3h0M1211.5 436.9h0M1211.8 438.8h0M1212 440.5h0M1212.3 440.4h0M1212.5 441.6h0M1212.7 436.6h0M1213 438.8h0M1213.2 438.9h0M1213.5 440.6h0M1213.7 441.4h0M1213.9 435.5h0M1214.2 441.6h0M1214.4 437.7h0M1214.7 441.2h0M1214.9 437.8h0M1215.1 440.6h0M1215.4 442.4h0M1215.6 440.3h0M1215.9 441h0M1216.1 442.1h0M1216.3 441.1h0M1216.6 440.9h0M1216.8 443.6h0M1217.1 442.9h0M1217.3 440.9h0M1217.5 445.8h0M1217.8 439.7h0M1218 443.1h0M1218.3 441.3h0M1218.5 442.1h0M1218.7 443.1h0M1219 442.5h0M1219.2 443.2h0M1219.5 439.9h0M1219.7 440h0M1219.9 443.5h0M1220.2 441.1h0M1220.4 441.1h0M1220.7 440.5h0M1220.9 445h0M1221.1 444.2h0M1221.4 445.5h0M1221.6 441.7h0M1221.9 443.3h0M1222.1 441.6h0M1222.3 444.7h0M1222.6 446.2h0M1222.8 442.3h0M1223.1 446.3h0M1223.3 445.5h0M1223.5 443.7h0M1223.8 440.9h0M1224 446.4h0M1224.3 444.1h0M1224.5 443.3h0M1224.7 445h0M1225 445.1h0M1225.2 446.9h0M1225.5 443h0M1225.7 446.5h0M1225.9 447.2h0M1226.2 447.2h0M1226.4 444.6h0M1226.7 443.8h0M1226.9 446.7h0M1227.1 445.3h0M1227.4 445.4h0M1227.6 447.5h0M1227.9 444.9h0M1228.1 441.7h0M1228.3 444.8h0M1228.6 442.5h0M1228.8 446.8h0M1229.1 446.1h0M1229.3 444.6h0M1229.5 445.7h0M1229.8 447h0M1230 445.9h0M1230.3 447.9h0M1230.5 445.7h0M1230.7 447.5h0M1231 448.3h0M1231.2 448.5h0M1231.5 444.9h0M1231.7 447.4h0M1231.9 443.1h0M1232.2 444.4h0M1232.4 443h0M1232.7 447.9h0M1232.9 444.2h0M1233.1 446.2h0M1233.4 445.9h0M1233.6 446.2h0M1233.9 445.2h0M1234.1 446.5h0M1234.3 449h0M1234.6 446.1h0M1234.8 446.7h0M1235.1 447.2h0M1235.3 444.9h0M1235.5 442.8h0M1235.8 443.3h0M1236 445.3h0M1236.3 440.2h0M1236.5 441.2h0M1236.7 443.1h0M1237 442.2h0M1237.2 440.6h0M1237.5 441.7h0M1237.7 440.7h0M1237.9 438.9h0M1238.2 438.8h0M1238.4 440.9h0M1238.7 444.1h0M1238.9 442.4h0M1239.1 442.5h0M1239.4 443.3h0M1239.6 442.6h0M1239.9 445.3h0M1240.1 443.8h0M1240.3 446.5h0M1240.6 442.3h0M1240.8 446.7h0M1241.1 445.1h0M1241.3 443.1h0M1241.5 447.3h0M1241.8 445.7h0M1242 442.6h0M1242.3 444.7h0M1242.5 446.6h0M1242.7 445.4h0M1243 447.3h0M1243.2 447.2h0M1243.5 447.1h0M1243.7 446.5h0M1243.9 448.1h0M1244.2 447h0M1244.4 446.6h0M1244.7 442.5h0M1244.9 447.3h0M1245.1 447.9h0M1245.4 445.3h0M1245.6 445h0M1245.9 448.8h0M1246.1 442.8h0M1246.3 446.4h0M1246.6 449.5h0M1246.8 444.1h0M1247.1 446.6h0M1247.3 448.5h0M1247.5 445.2h0M1247.8 446.3h0M1248 446.8h0M1248.3 443.8h0M1248.5 445.1h0M1248.7 445.7h0M1249 446.5h0M1249.2 445h0M1249.5 444.7h0M1249.7 443.4h0M1249.9 444.4h0M1250.2 446.3h0M1250.4 445h0M1250.7 443.4h0M1250.9 443.4h0M1251.1 448.9h0M1251.4 446.5h0M1251.6 445.6h0M1251.9 440.4h0M1252.1 445.5h0M1252.3 445.2h0M1252.6 447h0M1252.8 445h0M1253.1 444.1h0M1253.3 445h0M1253.5 441h0M1253.8 445.7h0M1254 444.5h0M1254.3 442.8h0M1254.5 446h0M1254.7 446.7h0M1255 441.5h0M1255.2 442.6h0M1255.5 444h0M1255.7 443.8h0M1255.9 442.8h0M1256.2 441.8h0M1256.4 446.7h0M1256.7 444.9h0M1256.9 441.2h0M1257.1 440.9h0M1257.4 445.7h0M1257.6 444.5h0M1257.9 445.8h0M1258.1 444.1h0M1258.3 441.3h0M1258.6 443h0M1258.8 439.1h0M1259.1 441.3h0M1259.3 442.3h0M1259.5 443.1h0M1259.8 441h0M1260 441.9h0M1260.3 442.8h0M1260.5 442.6h0M1260.7 442.9h0M1261 442.1h0M1261.2 441.2h0M1261.5 442.9h0M1261.7 441.6h0M1261.9 440.1h0M1262.2 440.4h0M1262.4 441.3h0M1262.7 441h0M1262.9 441.3h0M1263.1 441h0M1263.4 441.2h0M1263.6 440.6h0M1263.9 438.7h0M1264.1 441.3h0M1264.3 442.2h0M1264.6 441.1h0M1264.8 440h0M1265.1 441h0M1265.3 438.6h0M1265.5 437h0M1265.8 440.1h0M1266 438.4h0M1266.3 440.9h0M1266.5 437.9h0M1266.7 435.4h0M1267 437.8h0M1267.2 441.9h0M1267.5 438.7h0M1267.7 437h0M1267.9 437.8h0M1268.2 439.8h0M1268.4 439.7h0M1268.7 439h0M1268.9 441h0M1269.1 439.7h0M1269.4 438.4h0M1269.6 439.3h0M1269.9 440.9h0M1270.1 439.7h0M1270.3 439.7h0M1270.6 436.2h0M1270.8 437.6h0M1271.1 438.9h0M1271.3 437.1h0M1271.5 439.2h0M1271.8 438.3h0M1272 438.7h0M1272.3 436.8h0M1272.5 441.2h0M1272.7 439h0M1273 436.5h0M1273.2 436.9h0M1273.5 440.8h0M1273.7 436h0M1273.9 437.8h0M1274.2 437.9h0M1274.4 436.2h0M1274.7 434.2h0M1274.9 436.3h0M1275.1 436.5h0M1275.4 437.6h0M1275.6 436.9h0M1275.9 435.6h0M1276.1 436.8h0M1276.3 436.2h0M1276.6 435.6h0M1276.8 435.2h0M1277.1 434.7h0M1277.3 436h0M1277.5 433.2h0M1277.8 433.7h0M1278 434.6h0M1278.3 432.2h0M1278.5 433.7h0M1278.7 431.1h0M1279 433.1h0M1279.2 435h0M1279.5 434.9h0M1279.7 433.8h0M1279.9 433.4h0M1280.2 431.4h0M1280.4 436.5h0M1280.7 434.3h0M1280.9 435.2h0M1281.1 431.9h0M1281.4 432.9h0M1281.6 430.2h0M1281.9 434.3h0M1282.1 434.4h0M1282.3 429.8h0M1282.6 432.7h0M1282.8 433.7h0M1283.1 429.7h0M1283.3 429.5h0M1283.5 430.7h0M1283.8 431.3h0M1284 429.9h0M1284.3 432.1h0M1284.5 432.4h0M1284.7 432.9h0M1285 433h0M1285.2 434.2h0M1285.5 433.5h0M1285.7 429.5h0M1285.9 430.7h0M1286.2 429.7h0M1286.4 429.6h0M1286.7 431.1h0M1286.9 431.2h0M1287.1 431.9h0M1287.4 428.5h0M1287.6 429h0M1287.9 430.8h0M1288.1 430.5h0M1288.3 430.2h0M1288.6 430.6h0M1288.8 429.4h0M1289.1 431.6h0M1289.3 431h0M1289.5 430.2h0M1289.8 429.2h0M1290 430h0M1290.3 425.8h0M1290.5 428.6h0M1290.7 430.1h0M1291 427.6h0M1291.2 430.3h0M1291.5 430.1h0M1291.7 427.6h0M1291.9 429.4h0M1292.2 429.2h0M1292.4 430.4h0M1292.7 430.6h0M1292.9 429.5h0M1293.1 428.2h0M1293.4 429.3h0M1293.6 429.3h0M1293.9 430.6h0M1294.1 429.8h0M1294.3 428.2h0M1294.6 427.1h0M1294.8 428.6h0M1295.1 428h0M1295.3 427.4h0M1295.5 428.9h0M1295.8 428.3h0M1296 429.2h0M1296.3 429.8h0M1296.5 428.3h0M1296.7 432.6h0M1297 428.4h0M1297.2 430.6h0M1297.5 429h0M1297.7 430.6h0M1297.9 424.9h0M1298.2 427.5h0M1298.4 429.1h0M1298.7 429.6h0M1298.9 432.3h0M1299.1 429h0M1299.4 430.5h0M1299.6 429.6h0M1299.9 429.9h0M1300.1 429.1h0M1300.3 428h0M1300.6 429h0M1300.8 426.4h0M1301.1 429.9h0M1301.3 426.3h0M1301.5 428.3h0M1301.8 431.2h0M1302 427.4h0M1302.3 427.7h0M1302.5 429.4h0M1302.7 427.5h0M1303 426h0M1303.2 427.6h0M1303.5 428h0M1303.7 428.1h0M1303.9 425.6h0M1304.2 429.5h0M1304.4 429.3h0M1304.7 426.5h0M1304.9 426.8h0M1305.1 425.5h0M1305.4 428.3h0M1305.6 424.8h0M1305.9 426.9h0M1306.1 424.9h0M1306.3 424.4h0M1306.6 426.5h0M1306.8 427.4h0M1307.1 425.1h0M1307.3 423.9h0M1307.5 426.2h0M1307.8 424.7h0M1308 425.2h0M1308.3 427.1h0M1308.5 426.4h0M1308.7 423.6h0M1309 428.1h0M1309.2 424.4h0M1309.5 425.6h0M1309.7 423.3h0M1309.9 424.3h0M1310.2 421.5h0M1310.4 427.2h0M1310.7 426.6h0M1310.9 422.5h0M1311.1 422.1h0M1311.4 422h0M1311.6 426.6h0M1311.9 424.1h0M1312.1 424.9h0M1312.3 424.6h0M1312.6 425.1h0M1312.8 423.7h0M1313.1 425.7h0M1313.3 423.6h0M1313.5 426h0M1313.8 426.8h0M1314 427.3h0M1314.3 426.4h0M1314.5 425.6h0M1314.7 427.5h0M1315 426.8h0M1315.2 430.3h0M1315.5 429.3h0M1315.7 428.2h0M1315.9 427.9h0M1316.2 427.8h0M1316.4 427.7h0M1316.7 428.9h0M1316.9 430.3h0M1317.1 430.9h0M1317.4 431.3h0M1317.6 434h0M1317.9 429.8h0M1318.1 431.2h0M1318.3 435.9h0M1318.6 428.7h0M1318.8 431.1h0M1319.1 432.5h0M1319.3 432.7h0M1319.5 433.4h0M1319.8 432.6h0M1320 433.8h0M1320.3 433.6h0M1320.5 434.9h0M1320.7 430.9h0M1321 432.7h0M1321.2 434.4h0M1321.5 432.9h0M1321.7 433.1h0M1321.9 436h0M1322.2 434.2h0M1322.4 436.4h0M1322.7 436.8h0M1322.9 436.3h0M1323.1 436.8h0M1323.4 436h0M1323.6 434.1h0M1323.9 436.5h0M1324.1 437.5h0M1324.3 436.1h0M1324.6 436.9h0M1324.8 438.5h0M1325.1 436.1h0M1325.3 438.7h0M1325.5 440.8h0M1325.8 437.1h0M1326 438.4h0M1326.3 438.1h0M1326.5 440.9h0M1326.7 439.1h0M1327 440.2h0M1327.2 437.8h0M1327.5 439.1h0M1327.7 439.2h0M1327.9 436.6h0M1328.2 441.9h0M1328.4 441.1h0M1328.7 437.1h0M1328.9 441.2h0M1329.1 439.9h0M1329.4 441h0M1329.6 441h0M1329.9 438.2h0M1330.1 440.3h0M1330.3 443.2h0M1330.6 440h0M1330.8 439.4h0M1331.1 439h0M1331.3 439.4h0M1331.5 442h0M1331.8 444.2h0M1332 442.3h0M1332.3 442.1h0M1332.5 445.4h0M1332.7 441.1h0M1333 441h0M1333.2 443h0M1333.5 443.1h0M1333.7 440.7h0M1333.9 440.5h0M1334.2 443h0M1334.4 443h0M1334.7 440.5h0M1334.9 442.4h0M1335.1 441.9h0M1335.4 443.6h0M1335.6 442.7h0M1335.9 442.8h0M1336.1 442.5h0M1336.3 444.8h0M1336.6 445.4h0M1336.8 442.6h0M1337.1 444.6h0M1337.3 442h0M1337.5 443.4h0M1337.8 444.5h0M1338 445.8h0M1338.3 442.8h0M1338.5 443.3h0M1338.7 443.8h0M1339 441.1h0M1339.2 443.6h0M1339.5 442.5h0M1339.7 444.2h0M1339.9 441.8h0M1340.2 440.5h0M1340.4 443.7h0M1340.7 444.1h0M1340.9 442.8h0M1341.1 445.1h0M1341.4 443.3h0M1341.6 442.8h0M1341.9 444.5h0M1342.1 441.3h0M1342.3 442.7h0M1342.6 443.8h0M1342.8 445.2h0M1343.1 443.6h0M1343.3 444.3h0M1343.5 442.8h0M1343.8 444.3h0M1344 446.5h0M1344.3 442.8h0M1344.5 447.7h0M1344.7 442.9h0M1345 444h0M1345.2 444.2h0M1345.5 445.6h0M1345.7 442h0M1345.9 440.6h0M1346.2 445h0M1346.4 445.3h0M1346.7 445h0M1346.9 448.3h0M1347.1 444.4h0M1347.4 444.5h0M1347.6 445.6h0M1347.9 444.7h0M1348.1 446.8h0M1348.3 442.2h0M1348.6 443.6h0M1348.8 438.7h0M1349.1 445.5h0M1349.3 443.6h0M1349.5 445.7h0M1349.8 447.7h0M1350 444.3h0M1350.3 443.9h0M1350.5 443.5h0M1350.7 443h0M1351 443.3h0M1351.2 445.4h0M1351.5 444.5h0M1351.7 444.5h0M1351.9 444.2h0M1352.2 445.9h0M1352.4 445.3h0M1352.7 444.3h0M1352.9 445.6h0M1353.1 444.3h0M1353.4 442.7h0M1353.6 446.9h0M1353.9 445.3h0M1354.1 443.1h0M1354.3 446.3h0M1354.6 445.2h0M1354.8 442.1h0M1355.1 447.2h0M1355.3 445.2h0M1355.5 446.1h0M1355.8 445h0M1356 444.5h0M1356.3 442.2h0M1356.5 446.3h0M1356.7 444.8h0M1357 444.3h0M1357.2 445.3h0M1357.5 444.9h0M1357.7 445.8h0M1357.9 444.2h0M1358.2 444.7h0M1358.4 441.3h0M1358.7 444.1h0M1358.9 445.8h0M1359.1 446.9h0M1359.4 444.2h0M1359.6 444.6h0M1359.9 447.3h0M1360.1 444.2h0M1360.3 445.9h0M1360.6 447.4h0M1360.8 444.8h0M1361.1 446.7h0M1361.3 443.6h0M1361.5 445h0M1361.8 444.6h0M1362 444.9h0M1362.3 446.5h0M1362.5 448.5h0M1362.7 443.6h0M1363 443.7h0M1363.2 445.4h0M1363.5 442.9h0M1363.7 445.4h0M1363.9 445.5h0M1364.2 444.1h0M1364.4 445.4h0M1364.7 442h0M1364.9 445.7h0M1365.1 441.9h0M1365.4 443.3h0M1365.6 443.5h0M1365.9 443.7h0M1366.1 445.7h0M1366.3 444.4h0M1366.6 443.6h0M1366.8 445h0M1367.1 446.7h0M1367.3 444.1h0M1367.5 444.6h0M1367.8 446h0M1368 444.4h0M1368.3 441.8h0M1368.5 447.8h0M1368.7 447.3h0M1369 440.6h0M1369.2 443.6h0M1369.5 444.3h0M1369.7 445.1h0M1369.9 444.6h0M1370.2 443h0M1370.4 441.7h0M1370.7 443.5h0M1370.9 444.9h0M1371.1 441.4h0M1371.4 441.4h0M1371.6 442.9h0M1371.9 439.8h0M1372.1 442.4h0M1372.3 442h0M1372.6 443.4h0M1372.8 441.4h0M1373.1 441h0M1373.3 441.7h0M1373.5 442.2h0M1373.8 441.1h0M1374 442.1h0M1374.3 443.1h0M1374.5 443.7h0M1374.7 444.4h0M1375 440.3h0M1375.2 440.8h0M1375.5 437.3h0M1375.7 444.2h0M1375.9 439.9h0M1376.2 440.8h0M1376.4 441.6h0M1376.7 438.4h0M1376.9 441.2h0M1377.1 440.2h0M1377.4 437.2h0M1377.6 440.4h0M1377.9 441.7h0M1378.1 436.6h0M1378.3 440.7h0M1378.6 439.5h0M1378.8 439.7h0M1379.1 439.5h0M1379.3 440.7h0M1379.5 438h0M1379.8 439.5h0M1380 437.2h0M1380.3 438.8h0M1380.5 436.1h0M1380.7 437h0M1381 439.7h0M1381.2 437.3h0M1381.5 436.1h0M1381.7 434.2h0M1381.9 434.5h0M1382.2 435.8h0M1382.4 436.6h0M1382.7 435.5h0M1382.9 435.3h0M1383.1 434h0M1383.4 435.9h0M1383.6 432.8h0M1383.9 432.1h0M1384.1 434h0M1384.3 432.3h0M1384.6 431.3h0M1384.8 430.4h0M1385.1 430.5h0M1385.3 431.4h0M1385.5 430.5h0M1385.8 427.5h0M1386 429.6h0M1386.3 428.7h0M1386.5 426.3h0M1386.7 428.5h0M1387 426.3h0M1387.2 425.6h0M1387.5 426.8h0M1387.7 427h0M1387.9 423.1h0M1388.2 424.2h0M1388.4 421.4h0M1388.7 425.8h0M1388.9 420.5h0M1389.1 422.4h0M1389.4 418.7h0M1389.6 420.2h0M1389.9 421.6h0M1390.1 413.1h0M1390.3 415.5h0M1390.6 416.1h0M1390.8 414.1h0M1391.1 412.2h0M1391.3 415.7h0M1391.5 411.3h0M1391.8 407.4h0M1392 410.3h0M1392.3 404.9h0M1392.5 408.3h0M1392.7 404.3h0M1393 404.2h0M1393.2 404.6h0M1393.5 401.4h0M1393.7 397.6h0M1393.9 395.6h0M1394.2 398.7h0M1394.4 396.5h0M1394.7 392.4h0M1394.9 393.4h0M1395.1 391.2h0M1395.4 389.7h0M1395.6 383.3h0M1395.9 384.6h0M1396.1 384.7h0M1396.3 382.5h0M1396.6 380.8h0M1396.8 373.5h0M1397.1 375.6h0M1397.3 374.1h0M1397.5 375.3h0M1397.8 367.5h0M1398 366.4h0M1398.3 364.7h0M1398.5 363.9h0M1398.7 359.5h0M1399 359.7h0M1399.2 354.3h0M1399.5 353.7h0M1399.7 350h0M1399.9 348.8h0M1400.2 345.1h0M1400.4 341.3h0M1400.7 343.2h0M1400.9 339.6h0M1401.1 335.9h0M1401.4 334.8h0M1401.6 333.9h0M1401.9 328.5h0M1402.1 327.7h0M1402.3 326.6h0M1402.6 324.5h0M1402.8 321.2h0M1403.1 316.4h0M1403.3 319.9h0M1403.5 316.7h0M1403.8 314.6h0M1404 312.6h0M1404.3 312h0M1404.5 309.6h0M1404.7 307.4h0M1405 306.8h0M1405.2 306.1h0M1405.5 305.3h0M1405.7 303.8h0M1405.9 306.2h0M1406.2 302.7h0M1406.4 305.6h0M1406.7 302.9h0M1406.9 305.2h0M1407.1 307.1h0M1407.4 305.6h0M1407.6 304.6h0M1407.9 306.6h0M1408.1 307.6h0M1408.3 305.5h0M1408.6 308.4h0M1408.8 310.9h0M1409.1 311.2h0M1409.3 313.5h0M1409.5 316.1h0M1409.8 317.8h0M1410 319.8h0M1410.3 321.1h0M1410.5 321.6h0M1410.7 324h0M1411 325.7h0M1411.2 327.7h0M1411.5 330.1h0M1411.7 329.8h0M1411.9 334.2h0M1412.2 337h0M1412.4 337.7h0M1412.7 341.5h0M1412.9 344.7h0M1413.1 345.9h0M1413.4 351.8h0M1413.6 346.5h0M1413.9 352.6h0M1414.1 352.3h0M1414.3 359h0M1414.6 363.9h0M1414.8 357.8h0M1415.1 364.1h0M1415.3 366.8h0M1415.5 367.6h0M1415.8 371h0M1416 368.5h0M1416.3 375.3h0M1416.5 376.5h0M1416.7 377.7h0M1417 378.6h0M1417.2 382.3h0M1417.5 382.2h0M1417.7 385h0M1417.9 385.4h0M1418.2 384.1h0M1418.4 389.2h0M1418.7 391h0M1418.9 393.3h0M1419.1 392.1h0M1419.4 394.7h0M1419.6 397h0M1419.9 397.5h0M1420.1 400.4h0M1420.3 402.7h0M1420.6 399.2h0M1420.8 398.6h0M1421.1 404h0M1421.3 406.1h0M1421.5 406h0M1421.8 406.7h0M1422 405.3h0M1422.3 405.9h0M1422.5 409.2h0M1422.7 407.1h0M1423 406.4h0M1423.2 408.3h0M1423.5 414.5h0M1423.7 414.2h0M1423.9 410.6h0M1424.2 411.1h0M1424.4 413.1h0M1424.7 412.1h0M1424.9 415.8h0M1425.1 414h0M1425.4 412.8h0M1425.6 417.1h0M1425.9 414.4h0M1426.1 416h0M1426.3 416h0M1426.6 415.8h0M1426.8 417.1h0M1427.1 415.7h0M1427.3 414.2h0M1427.5 413.8h0M1427.8 415.5h0M1428 416.6h0M1428.3 417.9h0M1428.5 418.2h0M1428.7 419.2h0M1429 418.7h0M1429.2 417.3h0M1429.5 417.6h0M1429.7 415.5h0M1429.9 418.7h0M1430.2 419.8h0M1430.4 420h0M1430.7 419h0M1430.9 419h0M1431.1 420.9h0M1431.4 419.5h0M1431.6 420.7h0M1431.9 420.5h0M1432.1 419.9h0M1432.3 421.7h0M1432.6 418.7h0M1432.8 419h0M1433.1 418.3h0M1433.3 418.3h0M1433.5 422.1h0M1433.8 422.4h0M1434 419.6h0M1434.3 420.4h0M1434.5 421.3h0M1434.7 420.7h0M1435 421.3h0M1435.2 417.2h0M1435.5 418.1h0M1435.7 419.7h0M1435.9 421.2h0M1436.2 418.9h0M1436.4 417.2h0M1436.7 417.8h0M1436.9 417.1h0M1437.1 416.6h0M1437.4 420.1h0M1437.6 416.4h0M1437.9 417.1h0M1438.1 420.2h0M1438.3 418.2h0M1438.6 416.5h0M1438.8 414.5h0M1439.1 415.6h0M1439.3 417h0M1439.5 414.8h0M1439.8 415.1h0M1440 412.5h0M1440.3 412.4h0M1440.5 410.4h0M1440.7 410.4h0M1441 410.8h0M1441.2 405.3h0M1441.5 406.2h0M1441.7 405.4h0M1441.9 402.6h0M1442.2 401.5h0M1442.4 401.5h0M1442.7 401.6h0M1442.9 397.3h0M1443.1 394.6h0M1443.4 389.2h0M1443.6 392.2h0M1443.9 386.4h0M1444.1 383.2h0M1444.3 378.1h0M1444.6 376.2h0M1444.8 370.6h0M1445.1 368.3h0M1445.3 364.3h0M1445.5 358.7h0M1445.8 353.8h0M1446 346.2h0M1446.3 343.6h0M1446.5 333.6h0M1446.7 324.6h0M1447 319.5h0M1447.2 310.4h0M1447.5 301.2h0M1447.7 292.9h0M1447.9 284h0M1448.2 271.2h0M1448.4 261.9h0M1448.7 252.9h0M1448.9 239.7h0M1449.1 226h0M1449.4 213.8h0M1449.6 200.5h0M1449.9 187.7h0M1450.1 176.1h0M1450.3 162.1h0M1450.6 146.2h0M1450.8 138.5h0M1451.1 126.4h0M1451.3 119.2h0M1451.5 108.9h0M1451.8 103.2h0M1452 101.2h0M1452.3 92.6h0M1452.5 90.8h0M1452.7 90.6h0M1453 91.2h0M1453.2 96.1h0M1453.5 105.4h0M1453.7 111.2h0M1453.9 118h0M1454.2 128.7h0M1454.4 143.2h0M1454.7 152.9h0M1454.9 166h0M1455.1 180.1h0M1455.4 194.8h0M1455.6 209h0M1455.9 220.6h0M1456.1 232.1h0M1456.3 244.7h0M1456.6 259.4h0M1456.8 270.5h0M1457.1 278.9h0M1457.3 290.8h0M1457.5 300.6h0M1457.8 309.7h0M1458 317.8h0M1458.3 324.9h0M1458.5 334h0M1458.7 339.8h0M1459 351.1h0M1459.2 356.4h0M1459.5 359.6h0M1459.7 369.3h0M1459.9 373.7h0M1460.2 374h0M1460.4 384.5h0M1460.7 387h0M1460.9 392.8h0M1461.1 391.1h0M1461.4 397.3h0M1461.6 400.2h0M1461.9 402.7h0M1462.1 405.4h0M1462.3 409.3h0M1462.6 407.5h0M1462.8 410.1h0M1463.1 411.9h0M1463.3 415.1h0M1463.5 416.8h0M1463.8 420h0M1464 421.3h0M1464.3 422.4h0M1464.5 422.6h0M1464.7 424.2h0M1465 427.6h0M1465.2 428.4h0M1465.5 428.4h0M1465.7 428.7h0M1465.9 432.6h0M1466.2 430h0M1466.4 432.8h0M1466.7 434.3h0M1466.9 432.8h0M1467.1 435.2h0M1467.4 432.7h0M1467.6 436.7h0M1467.9 436h0M1468.1 433.6h0M1468.3 437.8h0M1468.6 435.7h0M1468.8 439.7h0M1469.1 436.9h0M1469.3 438.2h0M1469.5 439.3h0M1469.8 438.6h0M1470 439.9h0M1470.3 439h0M1470.5 441.2h0M1470.7 440.5h0M1471 441.1h0M1471.2 436.6h0M1471.5 443.1h0M1471.7 441.5h0M1471.9 438.9h0M1472.2 442.1h0M1472.4 442.9h0M1472.7 444.1h0M1472.9 440.8h0M1473.1 445.2h0M1473.4 442.6h0M1473.6 446.9h0M1473.9 443h0M1474.1 444.5h0M1474.3 442.9h0M1474.6 441.9h0M1474.8 445.5h0M1475.1 445.4h0M1475.3 446.5h0M1475.5 445.5h0M1475.8 443.4h0M1476 441.7h0M1476.3 443.4h0M1476.5 443.5h0M1476.7 443.4h0M1477 445.7h0M1477.2 445.4h0M1477.5 444.5h0M1477.7 445.3h0M1477.9 444.9h0M1478.2 445.5h0M1478.4 446.5h0M1478.7 446.9h0M1478.9 444.3h0M1479.1 443.1h0M1479.4 447.8h0M1479.6 445.8h0M1479.9 447.4h0M1480.1 443.1h0M1480.3 445.2h0M1480.6 445.9h0M1480.8 443.6h0M1481.1 445.1h0M1481.3 447.1h0M1481.5 447.8h0M1481.8 448.6h0M1482 444.7h0M1482.3 443.9h0M1482.5 447h0M1482.7 447.7h0M1483 446.6h0M1483.2 444.2h0M1483.5 447.6h0M1483.7 447.7h0M1483.9 447.3h0M1484.2 445.7h0M1484.4 447h0M1484.7 447.8h0M1484.9 445.7h0M1485.1 443.6h0M1485.4 447.1h0M1485.6 447.4h0M1485.9 446.7h0M1486.1 448.1h0M1486.3 445.8h0M1486.6 446.6h0M1486.8 446.3h0M1487.1 447.7h0M1487.3 449.4h0M1487.5 446.4h0M1487.8 450.1h0M1488 449.3h0M1488.3 448.2h0M1488.5 447.9h0M1488.7 449.8h0M1489 446.7h0M1489.2 446.8h0M1489.5 445.3h0M1489.7 447.8h0M1489.9 449.2h0M1490.2 447.9h0M1490.4 447.7h0M1490.7 446.8h0M1490.9 447.4h0M1491.1 444.8h0M1491.4 448.8h0M1491.6 446.5h0M1491.9 445.4h0M1492.1 446h0M1492.3 445.9h0M1492.6 448.6h0M1492.8 448.9h0M1493.1 445h0M1493.3 448.7h0M1493.5 448.7h0M1493.8 446.3h0M1494 444.9h0M1494.3 446.1h0M1494.5 446.3h0M1494.7 447.8h0M1495 446.7h0M1495.2 444.1h0M1495.5 447.7h0M1495.7 444.9h0M1495.9 448.8h0M1496.2 445.4h0M1496.4 446.3h0M1496.7 446h0M1496.9 446.5h0M1497.1 449.5h0M1497.4 448.8h0M1497.6 448.4h0M1497.9 447.9h0M1498.1 445h0M1498.3 446.6h0M1498.6 446.6h0M1498.8 445.9h0M1499.1 448.3h0M1499.3 446.3h0M1499.5 446.3h0M1499.8 445.8h0M1500 444.2h0M1500.3 448.4h0M1500.5 449.6h0M1500.7 447.8h0M1501 445.9h0M1501.2 443.2h0M1501.5 447.8h0M1501.7 449.5h0M1501.9 448h0M1502.2 449h0M1502.4 449.9h0M1502.7 449.4h0M1502.9 446.9h0M1503.1 449.2h0M1503.4 448.8h0M1503.6 445.1h0M1503.9 446.9h0M1504.1 445.3h0M1504.3 447.4h0M1504.6 448.5h0M1504.8 445.9h0M1505.1 444.3h0M1505.3 449.7h0M1505.5 448.2h0M1505.8 450h0M1506 445.5h0M1506.3 449.3h0M1506.5 450.9h0M1506.7 450.8h0M1507 447.3h0M1507.2 448.1h0M1507.5 447.4h0M1507.7 449.2h0M1507.9 449.3h0M1508.2 447.8h0M1508.4 445.5h0M1508.7 448.8h0M1508.9 446.9h0M1509.1 448.7h0M1509.4 448.1h0M1509.6 450.3h0M1509.9 449.5h0M1510.1 447h0M1510.3 448.2h0M1510.6 450.5h0M1510.8 446.8h0M1511.1 448.4h0M1511.3 449.6h0M1511.5 449.7h0M1511.8 448.5h0M1512 445.6h0M1512.3 445.7h0M1512.5 448.1h0M1512.7 448.3h0M1513 451.8h0M1513.2 446.3h0M1513.5 449.5h0M1513.7 449h0M1513.9 445.1h0M1514.2 446.4h0M1514.4 448h0M1514.7 446.9h0M1514.9 447.5h0M1515.1 448.5h0M1515.4 446.4h0M1515.6 448.5h0M1515.9 446.7h0M1516.1 446.9h0M1516.3 448.6h0M1516.6 446.8h0M1516.8 448.2h0M1517.1 450.3h0M1517.3 447.8h0M1517.5 447.5h0M1517.8 448.9h0M1518 447.2h0M1518.3 449.5h0M1518.5 445.7h0M1518.7 448.8h0M1519 447h0M1519.2 446.5h0M1519.5 450.6h0M1519.7 446.4h0M1519.9 450.6h0M1520.2 448.8h0M1520.4 450.1h0M1520.7 446.2h0M1520.9 449.7h0M1521.1 450.1h0M1521.4 447.6h0M1521.6 447.6h0M1521.9 451.7h0M1522.1 448.1h0M1522.3 447.1h0M1522.6 446.8h0M1522.8 448.5h0M1523.1 448.3h0M1523.3 448.1h0M1523.5 450.6h0M1523.8 447.3h0M1524 448.6h0M1524.3 450.1h0M1524.5 446.2h0M1524.7 449.5h0M1525 450.7h0M1525.2 445.6h0M1525.5 446.1h0M1525.7 446.2h0M1525.9 444.9h0M1526.2 448.5h0M1526.4 444.9h0M1526.7 448.6h0M1526.9 450.1h0M1527.1 445.2h0M1527.4 447.3h0M1527.6 444.8h0M1527.9 449.1h0M1528.1 446.6h0M1528.3 447.4h0M1528.6 447.9h0M1528.8 448.7h0M1529.1 447.3h0M1529.3 447.9h0M1529.5 447h0M1529.8 448h0M1530 446h0M1530.3 447.9h0M1530.5 444.7h0M1530.7 447.1h0M1531 450.9h0M1531.2 448h0M1531.5 445.8h0M1531.7 448.3h0M1531.9 446.3h0M1532.2 445.2h0M1532.4 446.7h0M1532.7 449h0M1532.9 448.5h0M1533.1 447.7h0M1533.4 446.4h0M1533.6 446.1h0M1533.9 450h0M1534.1 448.2h0M1534.3 446.3h0M1534.6 444.5h0M1534.8 445.7h0M1535.1 451.8h0M1535.3 446h0M1535.5 447.7h0M1535.8 448.2h0M1536 447.6h0M1536.3 447.4h0M1536.5 445.7h0M1536.7 446.2h0M1537 450.6h0M1537.2 446.7h0M1537.5 449.2h0M1537.7 445.2h0M1537.9 447.4h0M1538.2 448.3h0M1538.4 449.5h0M1538.7 446.1h0M1538.9 448.8h0M1539.1 448.5h0M1539.4 446.7h0M1539.6 448.6h0M1539.9 446.4h0M1540.1 446.6h0M1540.3 447.8h0M1540.6 443.5h0M1540.8 447.7h0M1541.1 446.3h0M1541.3 445.5h0M1541.5 447.2h0M1541.8 449.1h0M1542 447.2h0M1542.3 449.9h0M1542.5 446h0M1542.7 445.8h0M1543 450.4h0M1543.2 448.5h0M1543.5 449.4h0M1543.7 446.6h0M1543.9 449.2h0M1544.2 448.3h0M1544.4 448.9h0M1544.7 447.9h0M1544.9 449.8h0M1545.1 446.8h0M1545.4 446.3h0M1545.6 445.5h0M1545.9 449.7h0M1546.1 446.7h0M1546.3 446.2h0M1546.6 446.4h0M1546.8 447.2h0M1547.1 445.8h0M1547.3 447.4h0M1547.5 446.9h0M1547.8 447h0M1548 446.3h0M1548.3 447.9h0M1548.5 447.1h0M1548.7 448.1h0M1549 448.3h0M1549.2 448.4h0M1549.5 444.4h0M1549.7 447h0M1549.9 446.6h0M1550.2 449.1h0M1550.4 445.4h0M1550.7 446.7h0M1550.9 447.4h0M1551.1 447.3h0M1551.4 449.5h0M1551.6 447.2h0M1551.9 449.4h0M1552.1 445.5h0M1552.3 445h0M1552.6 449.8h0M1552.8 448.6h0M1553.1 448.7h0M1553.3 448.1h0M1553.5 448.7h0M1553.8 445.9h0M1554 449.4h0M1554.3 447h0M1554.5 449.5h0M1554.7 448h0M1555 444.7h0M1555.2 445.8h0M1555.5 449.7h0M1555.7 447.7h0M1555.9 447.3h0M1556.2 448.3h0M1556.4 447.2h0M1556.7 447h0M1556.9 448h0M1557.1 448.1h0M1557.4 450.3h0M1557.6 448h0M1557.9 450.9h0M1558.1 450.8h0M1558.3 450.6h0M1558.6 449.6h0M1558.8 448.1h0M1559.1 448.1h0M1559.3 447.7h0M1559.5 446.7h0M1559.8 447.8h0M1560 446.9h0M1560.3 450.5h0M1560.5 448.7h0M1560.7 447.2h0M1561 444.8h0M1561.2 447.8h0M1561.5 447.2h0M1561.7 446.1h0M1561.9 446.1h0M1562.2 444.3h0M1562.4 448.8h0M1562.7 447.8h0M1562.9 452h0M1563.1 447.8h0M1563.4 447.6h0M1563.6 450.2h0M1563.9 448.1h0M1564.1 448.2h0M1564.3 447.3h0M1564.6 446.9h0M1564.8 450.3h0M1565.1 449.5h0M1565.3 450.6h0M1565.5 447.3h0M1565.8 447.9h0M1566 446.5h0M1566.3 449.4h0M1566.5 445.7h0M1566.7 448.8h0M1567 449.6h0M1567.2 450.1h0M1567.5 446.4h0M1567.7 449.6h0M1567.9 446.7h0M1568.2 446.7h0M1568.4 445.8h0M1568.7 449.7h0M1568.9 450.5h0M1569.1 446.9h0M1569.4 446.7h0M1569.6 447.3h0M1569.9 451.9h0M1570.1 449.5h0M1570.3 447h0M1570.6 445h0M1570.8 446.8h0M1571.1 449.8h0M1571.3 450.9h0M1571.5 447.4h0M1571.8 446.8h0M1572 447.1h0M1572.3 444.9h0M1572.5 449.3h0M1572.7 446.1h0M1573 449.6h0M1573.2 445.1h0M1573.5 445.8h0M1573.7 448.3h0M1573.9 446.6h0M1574.2 449.1h0M1574.4 447.9h0M1574.7 446h0M1574.9 448.9h0M1575.1 449.2h0M1575.4 444.8h0M1575.6 450.8h0M1575.9 448.7h0M1576.1 449.1h0M1576.3 444.9h0M1576.6 446.7h0M1576.8 447.3h0M1577.1 449.6h0M1577.3 445.5h0M1577.5 446.4h0M1577.8 444.6h0M1578 447.5h0M1578.3 448.4h0M1578.5 445.2h0M1578.7 446.9h0M1579 448.7h0M1579.2 450.4h0M1579.5 448.9h0M1579.7 447.4h0M1579.9 446h0M1580.2 446.4h0M1580.4 446.8h0M1580.7 448.1h0M1580.9 447.8h0M1581.1 450.5h0M1581.4 448.3h0M1581.6 446.1h0M1581.9 450.3h0M1582.1 449.4h0M1582.3 448h0M1582.6 446.7h0M1582.8 444.8h0M1583.1 446.2h0M1583.3 449.3h0M1583.5 446.6h0M1583.8 445.7h0M1584 448.1h0M1584.3 448.2h0M1584.5 448.8h0M1584.7 448.9h0M1585 450.1h0M1585.2 446.5h0M1585.5 449.4h0M1585.7 446.2h0M1585.9 448.9h0M1586.2 448.1h0M1586.4 448.2h0M1586.7 449.4h0M1586.9 447.8h0M1587.1 449.6h0M1587.4 449.2h0M1587.6 448h0M1587.9 446.9h0M1588.1 446.6h0M1588.3 447h0M1588.6 447.5h0M1588.8 447.8h0M1589.1 452.6h0M1589.3 448.8h0M1589.5 449h0M1589.8 446.4h0M1590 446.7h0M1590.3 447.3h0M1590.5 448.1h0M1590.7 446.1h0M1591 450.4h0M1591.2 446.9h0M1591.5 449.5h0M1591.7 444.1h0M1591.9 447.8h0M1592.2 448.2h0M1592.4 448.1h0M1592.7 448.7h0M1592.9 448.2h0M1593.1 448h0M1593.4 444.7h0M1593.6 446.6h0M1593.9 444h0M1594.1 448.8h0M1594.3 448.3h0M1594.6 447.5h0M1594.8 446.4h0M1595.1 446.8h0M1595.3 450.6h0M1595.5 450.4h0M1595.8 447.3h0M1596 449.2h0M1596.3 444.1h0M1596.5 442.8h0M1596.7 444h0M1597 441.8h0M1597.2 440.3h0M1597.5 439.2h0M1597.7 441.2h0M1597.9 433h0M1598.2 432.2h0M1598.4 431.4h0M1598.7 430.7h0M1598.9 433h0M1599.1 435.9h0M1599.4 433.2h0M1599.6 437.9h0M1599.9 439.6h0M1600.1 442.8h0M1600.3 441.5h0M1600.6 442.5h0M1600.8 442.6h0M1601.1 447.7h0M1601.3 447.6h0M1601.5 447.6h0M1601.8 443.8h0M1602 447h0M1602.3 446.5h0M1602.5 445.4h0M1602.7 446.2h0M1603 448.8h0M1603.2 448.5h0M1603.5 447.6h0M1603.7 448.5h0M1603.9 446.7h0M1604.2 447.8h0M1604.4 447.7h0M1604.7 448.5h0M1604.9 447.5h0M1605.1 447.4h0M1605.4 447.4h0M1605.6 446.6h0M1605.9 451.2h0M1606.1 448.4h0M1606.3 448.3h0M1606.6 451.3h0M1606.8 449.8h0M1607.1 445.1h0M1607.3 448.7h0M1607.5 448.9h0M1607.8 450.6h0M1608 449.6h0M1608.3 448.8h0M1608.5 445.6h0M1608.7 446.1h0M1609 447.9h0M1609.2 448.2h0M1609.5 445.7h0M1609.7 446.7h0M1609.9 446.6h0M1610.2 447.3h0M1610.4 447.7h0M1610.7 446.6h0M1610.9 445h0M1611.1 448.9h0M1611.4 449.3h0M1611.6 446.5h0M1611.9 448.1h0M1612.1 447h0M1612.3 447.2h0M1612.6 446.7h0M1612.8 444.5h0M1613.1 446.4h0M1613.3 446.8h0M1613.5 443.4h0M1613.8 447.7h0M1614 447.6h0M1614.3 446.8h0M1614.5 446.6h0M1614.7 444.2h0M1615 442.1h0M1615.2 441.2h0M1615.5 440.4h0M1615.7 441.5h0M1615.9 440.8h0M1616.2 441.4h0M1616.4 436.7h0M1616.7 443.1h0M1616.9 442.6h0M1617.1 438.5h0M1617.4 439.2h0M1617.6 438.5h0M1617.9 437.9h0M1618.1 436.8h0M1618.3 436.7h0M1618.6 435.3h0M1618.8 436.8h0M1619.1 436.3h0M1619.3 436.8h0M1619.5 434.9h0M1619.8 436.3h0M1620 436.4h0M1620.3 437.4h0M1620.5 434.9h0M1620.7 437.5h0M1621 438.7h0M1621.2 438.3h0M1621.5 437.1h0M1621.7 437.3h0M1621.9 438.1h0M1622.2 440h0M1622.4 441.8h0M1622.7 439.5h0M1622.9 439.2h0M1623.1 441.2h0M1623.4 441.4h0M1623.6 440h0M1623.9 440.7h0M1624.1 442.2h0M1624.3 443.8h0M1624.6 441.2h0M1624.8 441.8h0M1625.1 444.6h0M1625.3 442.1h0M1625.5 444.6h0M1625.8 445.2h0M1626 444.7h0M1626.3 443.5h0M1626.5 445.2h0M1626.7 444.9h0M1627 446.2h0M1627.2 444.4h0M1627.5 447.6h0M1627.7 443.3h0M1627.9 445.8h0M1628.2 446.1h0M1628.4 447.7h0M1628.7 445.2h0M1628.9 447.1h0M1629.1 445.4h0M1629.4 447.5h0M1629.6 449.1h0M1629.9 445.7h0M1630.1 447h0M1630.3 444.8h0M1630.6 447.8h0M1630.8 448.2h0M1631.1 446.3h0M1631.3 444.4h0M1631.5 446.8h0M1631.8 448h0M1632 447.9h0M1632.3 447.4h0M1632.5 443.1h0M1632.7 445h0M1633 448.3h0M1633.2 444h0M1633.5 447.7h0M1633.7 448.9h0M1633.9 447.1h0M1634.2 447.6h0M1634.4 445.2h0M1634.7 443.8h0M1634.9 445.5h0M1635.1 445.3h0M1635.4 445.5h0M1635.6 446.6h0M1635.9 445.2h0M1636.1 445.7h0M1636.3 446h0M1636.6 445.3h0M1636.8 448.2h0M1637.1 445.9h0M1637.3 445.3h0M1637.5 444.7h0M1637.8 444h0M1638 447.1h0M1638.3 445.1h0M1638.5 443.1h0M1638.7 443.8h0M1639 444.4h0M1639.2 443.9h0M1639.5 446.2h0M1639.7 442.6h0M1639.9 445.1h0M1640.2 444.5h0M1640.4 442.3h0M1640.7 444.2h0M1640.9 443.8h0M1641.1 444.7h0M1641.4 443.1h0M1641.6 444.2h0M1641.9 440.9h0M1642.1 441.8h0M1642.3 444.6h0M1642.6 444.9h0M1642.8 443.1h0M1643.1 442.1h0M1643.3 444.6h0M1643.5 439.4h0M1643.8 441.4h0M1644 443.6h0M1644.3 443.4h0M1644.5 440.6h0M1644.7 439.1h0M1645 444.3h0M1645.2 442h0M1645.5 440.2h0M1645.7 441.5h0M1645.9 442.7h0M1646.2 437h0M1646.4 442.7h0M1646.7 441.9h0M1646.9 437.2h0M1647.1 441.6h0M1647.4 437.3h0M1647.6 441.7h0M1647.9 440.3h0M1648.1 443.1h0M1648.3 438.2h0M1648.6 439h0M1648.8 440.4h0M1649.1 437.4h0M1649.3 437h0M1649.5 437.3h0M1649.8 437.5h0M1650 435.6h0M1650.3 437.8h0M1650.5 437.5h0M1650.7 436.5h0M1651 438.7h0M1651.2 435.1h0M1651.5 437.4h0M1651.7 434h0M1651.9 435.7h0M1652.2 431h0M1652.4 434h0M1652.7 433h0M1652.9 432h0M1653.1 431.3h0M1653.4 431.3h0M1653.6 430.2h0M1653.9 427.3h0M1654.1 429.3h0M1654.3 428.9h0M1654.6 428.3h0M1654.8 426.9h0M1655.1 427.7h0M1655.3 428.6h0M1655.5 426.3h0M1655.8 425.2h0M1656 427.5h0M1656.3 426.1h0M1656.5 425.3h0M1656.7 424.9h0M1657 421.7h0M1657.2 421.2h0M1657.5 422.4h0M1657.7 418.8h0M1657.9 418.6h0M1658.2 418.5h0M1658.4 417.5h0M1658.7 415.5h0M1658.9 416.5h0M1659.1 413.6h0M1659.4 414h0M1659.6 413.5h0M1659.9 411.7h0M1660.1 410.6h0M1660.3 406.4h0M1660.6 405h0M1660.8 404.8h0M1661.1 405.3h0M1661.3 405.7h0M1661.5 400h0M1661.8 401.1h0M1662 397.8h0M1662.3 396.7h0M1662.5 396h0M1662.7 396.1h0M1663 393.9h0M1663.2 394h0M1663.5 389h0M1663.7 390.6h0M1663.9 389.2h0M1664.2 386.3h0M1664.4 385.5h0M1664.7 382.3h0M1664.9 380h0M1665.1 379.7h0M1665.4 377.9h0M1665.6 382.1h0M1665.9 375.4h0M1666.1 377.4h0M1666.3 373.8h0M1666.6 372.7h0M1666.8 372.2h0M1667.1 368.7h0M1667.3 370.3h0M1667.5 368.4h0M1667.8 364.4h0M1668 366.9h0M1668.3 366h0M1668.5 365.2h0M1668.7 366.4h0M1669 362.6h0M1669.2 363.6h0M1669.5 363.7h0M1669.7 360.8h0M1669.9 364h0M1670.2 359.7h0M1670.4 360h0M1670.7 363h0M1670.9 360.7h0M1671.1 362.6h0M1671.4 360.6h0M1671.6 363.8h0M1671.9 362.5h0M1672.1 365.6h0M1672.3 363.4h0M1672.6 367.4h0M1672.8 367.2h0M1673.1 368.8h0M1673.3 369.7h0M1673.5 371.1h0M1673.8 370h0M1674 369.2h0M1674.3 374.7h0M1674.5 374.5h0M1674.7 376.6h0M1675 379.4h0M1675.2 377h0M1675.5 380.4h0M1675.7 382.1h0M1675.9 382.9h0M1676.2 386.6h0M1676.4 387.3h0M1676.7 387.7h0M1676.9 389h0M1677.1 393.3h0M1677.4 392.4h0M1677.6 395.9h0M1677.9 397.1h0M1678.1 394.8h0M1678.3 397.5h0M1678.6 400.6h0M1678.8 402.5h0M1679.1 404.6h0M1679.3 405.9h0M1679.5 407.6h0M1679.8 406.6h0M1680 408.1h0M1680.3 410.9h0M1680.5 410.1h0M1680.7 413.7h0M1681 410.5h0M1681.2 415.2h0M1681.5 415h0M1681.7 413.2h0M1681.9 418.9h0M1682.2 418.8h0M1682.4 419.3h0M1682.7 418.5h0M1682.9 420.3h0M1683.1 424.4h0M1683.4 421.5h0M1683.6 418.1h0M1683.9 423.1h0M1684.1 423.3h0M1684.3 425.8h0M1684.6 426.1h0M1684.8 426h0M1685.1 426.8h0M1685.3 430.5h0M1685.5 427.1h0M1685.8 433.2h0M1686 429.8h0M1686.3 429.5h0M1686.5 433.1h0M1686.7 433.3h0M1687 431.3h0M1687.2 434.6h0M1687.5 431h0M1687.7 433h0M1687.9 436.7h0M1688.2 434.9h0M1688.4 433.7h0M1688.7 437h0M1688.9 438.1h0M1689.1 437h0M1689.4 434.5h0M1689.6 437.2h0M1689.9 438.8h0M1690.1 439.7h0M1690.3 441.8h0M1690.6 438.7h0M1690.8 438.7h0M1691.1 439.7h0M1691.3 442h0M1691.5 438.8h0M1691.8 442.7h0M1692 436.4h0M1692.3 442.4h0M1692.5 440.2h0M1692.7 442.3h0M1693 442.9h0M1693.2 440.1h0M1693.5 442h0M1693.7 442.7h0M1693.9 443.5h0M1694.2 441.2h0M1694.4 441.3h0M1694.7 439.9h0M1694.9 447.2h0M1695.1 443h0M1695.4 443h0M1695.6 441.1h0M1695.9 445.1h0M1696.1 442.9h0M1696.3 446.1h0M1696.6 445.3h0M1696.8 444h0M1697.1 445.2h0M1697.3 442.3h0M1697.5 443.7h0M1697.8 443.3h0M1698 442.2h0M1698.3 444.3h0M1698.5 444.1h0M1698.7 446.7h0M1699 439h0M1699.2 443.3h0M1699.5 442.9h0M1699.7 443.7h0M1699.9 445.1h0M1700.2 445h0M1700.4 444.4h0M1700.7 443.6h0M1700.9 445.1h0M1701.1 444.8h0M1701.4 441.3h0M1701.6 443.8h0M1701.9 441.9h0M1702.1 442.2h0M1702.3 444.3h0M1702.6 444.1h0M1702.8 444.1h0M1703.1 442.4h0M1703.3 443.4h0M1703.5 442.2h0M1703.8 444.2h0M1704 444.6h0M1704.3 446.3h0M1704.5 445.4h0M1704.7 442h0M1705 442.4h0M1705.2 441.6h0M1705.5 443.5h0M1705.7 446.1h0M1705.9 443.9h0M1706.2 439.2h0M1706.4 440.6h0M1706.7 440.4h0M1706.9 443.2h0M1707.1 442.3h0M1707.4 442.7h0M1707.6 444.9h0M1707.9 440.7h0M1708.1 440.5h0M1708.3 444.9h0M1708.6 442.2h0M1708.8 440.3h0M1709.1 438.2h0M1709.3 439h0M1709.5 437.4h0M1709.8 441.3h0M1710 441.2h0M1710.3 442.6h0M1710.5 440.7h0M1710.7 439.7h0M1711 439.6h0M1711.2 443.7h0M1711.5 437.8h0M1711.7 440.8h0M1711.9 440.5h0M1712.2 441.4h0M1712.4 439.7h0M1712.7 441.1h0M1712.9 441.6h0M1713.1 440h0M1713.4 439.4h0M1713.6 439.8h0M1713.9 438.6h0M1714.1 439.7h0M1714.3 439.6h0M1714.6 440.4h0M1714.8 442.2h0M1715.1 442.1h0M1715.3 439.3h0M1715.5 441h0M1715.8 440.5h0M1716 441.2h0M1716.3 440.1h0M1716.5 440.5h0M1716.7 439.3h0M1717 438.9h0M1717.2 441.5h0M1717.5 442.3h0M1717.7 441.3h0M1717.9 441h0M1718.2 440.8h0M1718.4 439.7h0M1718.7 437.6h0M1718.9 441.6h0M1719.1 440.9h0M1719.4 439.8h0M1719.6 439.2h0M1719.9 442.9h0M1720.1 438h0M1720.3 443.8h0M1720.6 442.1h0M1720.8 445h0M1721.1 440.1h0M1721.3 441.3h0M1721.5 440.7h0M1721.8 441.8h0M1722 441.4h0M1722.3 440.6h0M1722.5 443.6h0M1722.7 440.8h0M1723 441.3h0M1723.2 443.2h0M1723.5 441.5h0M1723.7 441.8h0M1723.9 443.2h0M1724.2 442.2h0M1724.4 440.9h0M1724.7 442.8h0M1724.9 442.8h0M1725.1 446h0M1725.4 441.6h0M1725.6 445h0M1725.9 442.3h0M1726.1 443.1h0M1726.3 443.3h0M1726.6 444.4h0M1726.8 445.5h0M1727.1 447h0M1727.3 443.3h0M1727.5 446.5h0M1727.8 446.1h0M1728 445.9h0M1728.3 443.5h0M1728.5 446.3h0M1728.7 444.8h0M1729 445.6h0" stroke="#000" stroke-width="7.4" stroke-linecap="round" fill="none"/>
<polyline points="715.3,767.6 715.8,775.9 716.3,779.1 716.8,771.3 717.3,767 717.8,773.6 718.3,776.4 718.8,779.6 719.3,767.6 719.8,767.1 720.3,777.5 720.8,776.3 721.3,781.8 721.8,778.9 722.3,773.3 722.8,772.4 723.3,784.8 723.8,772.2 724.3,769.7 724.8,767.8 725.3,774.2 725.8,774.4 726.3,771.9 726.8,773.3 727.3,775.1 727.8,777.2 728.3,779.3 728.8,774.7 729.3,764.3 729.8,777.2 730.3,766.2 730.8,772.7 731.3,765.9 731.8,773.5 732.3,769.5 732.8,774.6 733.3,784.5 733.8,773.2 734.3,777.8 734.8,766.6 735.3,771.9 735.8,776.9 736.3,772.9 736.8,775.3 737.3,773.9 737.8,768.1 738.3,776.3 738.8,769.1 739.3,783 739.8,770.7 740.3,776.8 740.8,773.3 741.3,778.2 741.8,770.1 742.3,778.4 742.8,772.6 743.3,779.8 743.8,776.4 744.3,773.9 744.8,769.1 745.3,777.1 745.8,775.6 746.3,781.6 746.8,771.1 747.3,776 747.8,761 748.3,761 748.8,774.1 749.3,774 749.8,769.9 750.3,768.2 750.8,772.1 751.3,778 751.8,783.6 752.3,783.3 752.8,787.3 753.3,789.5 753.8,792.7 754.3,793.6 754.8,800.3 755.3,809.1 755.8,801.8 756.3,801.4 756.8,815.3 757.3,806.5 757.8,810.3 758.3,809.9 758.8,799.5 759.3,816.5 759.8,814.8 760.3,806.5 760.8,809.6 761.3,806.4 761.8,801.2 762.3,805.3 762.8,807.9 763.3,811.8 763.8,809.8 764.3,806.5 764.8,813.3 765.3,802.4 765.8,810.5 766.3,812.3 766.8,805 767.3,797.3 767.8,802 768.3,808 768.8,809.6 769.3,815 769.8,801.7 770.3,807 770.8,810.3 771.3,806.1 771.8,795.9 772.3,811 772.8,817.8 773.3,812 773.8,802 774.3,804.6 774.8,807.8 775.3,817.6 775.8,809.8 776.3,807.2 776.8,814.6 777.3,806.1 777.8,816.2 778.3,802.9 778.8,803.9 779.3,810.1 779.8,813.8 780.3,809.7 780.8,807.8 781.3,796.8 781.8,802.5 782.3,803 782.8,803.4 783.3,809.2 783.8,804.3 784.3,810.1 784.8,806.4 785.3,804.2 785.8,806.6 786.3,808.1 786.8,810.3 787.3,803.4 787.8,804.6 788.3,798.7 788.8,814.1 789.3,813.3 789.8,804.8 790.3,803.2 790.8,799.2 791.3,806.5 791.8,806.6 792.3,816.5 792.8,806.8 793.3,801.4 793.8,794.4 794.3,812.7 794.8,806.3 795.3,796.9 795.8,806.2 796.3,796.9 796.8,816.2 797.3,811 797.8,808.1 798.3,804.2 798.8,794.1 799.3,804.4 799.8,796.9 800.3,808 800.8,793.7 801.3,799.8 801.8,810.7 802.3,812.8 802.8,797.9 803.3,795.9 803.8,808.3 804.3,808 804.8,798.3 805.3,799.6 805.8,799.5 806.3,796.7 806.8,799.2 807.3,809.1 807.8,806 808.3,812.9 808.8,801.6 809.3,801.2 809.8,796.6 810.3,800.9 810.8,794.6 811.3,792 811.8,804.7 812.3,808.4 812.8,805.1 813.3,807.5 813.8,801.7 814.3,796.5 814.8,800.5 815.3,798 815.8,794 816.3,790.8 816.8,791.7 817.3,799.3 817.8,799.9 818.3,796.5 818.8,806.3 819.3,799.6 819.8,801.6 820.3,804.7 820.8,794 821.3,787.9 821.8,801.9 822.3,794.2 822.8,804.5 823.3,799.3 823.8,802.6 824.3,801.2 824.8,786.2 825.3,801 825.8,794.3 826.3,779 826.8,779 827.3,803.3 827.8,804.4 828.3,806.9 828.8,795.6 829.3,803.9 829.8,798.6 830.3,811.7 830.8,818.1 831.3,812 831.8,817.3 832.3,817.3 832.8,821.4 833.3,811.9 833.8,811.9 834.3,812.3 834.8,825.4 835.3,822 835.8,815.7 836.3,817.6 836.8,817 837.3,817.5 837.8,815.4 838.3,814.8 838.8,810 839.3,813.3 839.8,825.2 840.3,819.5 840.8,817 841.3,815.6 841.8,817.1 842.3,818.6 842.8,813.5 843.3,817.9 843.8,818.2 844.3,813.1 844.8,812.9 845.3,811.8 845.8,811.4 846.3,821.5 846.8,805.9 847.3,815.5 847.8,813.6 848.3,813.6 848.8,817.3 849.3,822.6 849.8,817.1 850.3,815.9 850.8,813.4 851.3,815.9 851.8,821.3 852.3,814.5 852.8,810.5 853.3,809.9 853.8,810.7 854.3,809.2 854.8,822.1 855.3,818.2 855.8,815 856.3,823.8 856.8,812.8 857.3,820.1 857.8,820.3 858.3,808.1 858.8,808 859.3,811.2 859.8,820.7 860.3,822.7 860.8,809.4 861.3,821.1 861.8,813.6 862.3,813.4 862.8,812.4 863.3,813.5 863.8,805.6 864.3,809.7 864.8,808.4 865.3,817.2 865.8,825.4 866.3,825.4 866.8,812.6 867.3,805.2 867.8,811.9 868.3,809 868.8,824.1 869.3,816.6 869.8,809.8 870.3,818.3 870.8,816.1 871.3,804.7 871.8,810.3 872.3,811.7 872.8,812.9 873.3,813.4 873.8,810.8 874.3,813.4 874.8,809.3 875.3,807.5 875.8,819.9 876.3,813.8 876.8,814.1 877.3,803.4 877.8,810.7 878.3,815.7 878.8,804.6 879.3,816.9 879.8,809 880.3,813.1 880.8,810.3 881.3,812.1 881.8,817.3 882.3,808.9 882.8,819.1 883.3,806.9 883.8,806.2 884.3,814.7 884.8,805.5 885.3,809.1 885.8,815.7 886.3,817.3 886.8,801.8 887.3,813.6 887.8,820.8 888.3,817.2 888.8,809.8 889.3,807.9 889.8,809.5 890.3,805.6 890.8,811.1 891.3,812.4 891.8,813.5 892.3,821.4 892.6,815 893.2,703.8 894,820 893.3,809.5 893.8,823.4 894.3,813.3 894.8,817.5 895.3,820 895.8,819.8 896.3,817.4 896.8,822.3 897.3,835.6 897.8,822.4 898.3,825.9 898.8,833.4 899.3,832.5 899.8,833.6 900.3,834.5 900.8,819.8 901.3,825.5 901.8,830.7 902.3,832.6 902.8,836.7 903.3,832.4 903.8,828.8 904.3,830.2 904.8,828.9 905.3,831.3 905.8,833.5 906.3,828.2 906.8,825.8 907.3,825.6 907.8,835.7 908.3,836.7 908.8,835.2 909.3,834.5 909.8,834.3 910.3,830 910.8,833.5 911.3,824.5 911.8,828.9 912.3,826.2 912.8,833.8 913.3,827 913.8,829.4 914.3,832.1 914.8,837 915.3,825.9 915.8,825.1 916.3,834.2 916.8,824.2 917.3,832.4 917.8,827 918.3,829.5 918.8,820.5 919.3,833.7 919.8,827.4 920.3,825.3 920.8,840.8 921.3,833.7 921.8,841 922.3,832.1 922.8,828.2 923.3,830.6 923.8,838.4 924.3,829.9 924.8,832.3 925.3,832.7 925.8,825.3 926.3,830.7 926.8,827.4 927.3,823.5 927.8,834.5 928.3,833.5 928.8,830.4 929.3,825.3 929.8,819.6 930.3,832.5 930.8,829.4 931.3,821.2 931.8,829.6 932.3,822 932.8,829.7 933.3,830.5 933.8,831.6 934.3,830.9 934.8,830.6 935.3,823.8 935.8,827.7 936.3,827 936.8,828.4 937.3,831 937.8,832.8 938.3,838 938.8,818.5 939.3,831.5 939.8,828.4 940.3,840.4 940.8,834.2 941.3,820.7 941.8,831.4 942.3,826.6 942.8,834.4 943.3,823.7 943.8,828.7 944.3,828.5 944.8,828.6 945.3,826.1 945.8,819.5 946.3,831.4 946.8,834.2 947.3,828.6 947.8,823.7 948.3,830 948.8,831.8 949.3,828 949.8,828.8 950.3,836.1 950.8,823 951.3,825.8 951.8,818.8 952.3,825 952.8,824.8 953.3,823.6 953.8,825 954.3,837.9 954.8,827.5 955.3,827.9 955.8,839.5 956.3,828.1 956.8,819.4 957.3,830.5 957.8,823.5 958.3,836.9 958.8,821.8 959.3,825.3 959.8,819.9 960.3,828.7 960.8,822.9 961.3,827.8 961.8,826.2 962.3,824.9 962.8,833 963.3,832.9 963.8,828.3 964.3,825.5 964.8,828.3 965.3,838.9 965.8,852.2 966.3,842.5 966.8,844.5 967.3,845.2 967.8,841.1 968.3,839.7 968.8,841.7 969.3,848.3 969.8,841.2 970.3,840.5 970.3,840 971.1,659.7 972.2,845 971.3,848.3 971.8,849.1 972.3,845.2 972.8,848.6 973.3,856.7 973.8,864.9 974.3,865.5 974.8,866 975.3,864.8 975.8,869.1 976.3,868.2 976.8,880.1 977.3,864.1 977.8,869 978.3,878.4 978.8,871.3 979.3,880.4 979.8,872.8 980.3,873.8 980.8,871.2 981.3,865.9 981.8,868.1 982.3,884.2 982.8,876.5 983.3,876.4 983.8,878.2 984.3,876.2 984.8,878.6 985.3,871.9 985.8,872.2 986.3,878.5 986.8,871.5 987.3,866.5 987.8,872.2 988.3,870.6 988.8,876.7 989.3,869.7 989.8,868 990.3,871.8 990.8,881.6 991.3,873.3 991.8,874.4 992.3,873.7 992.8,875.2 993.3,878.5 993.8,881 994.3,865.2 994.8,880.8 995.3,873.8 995.8,872.1 996.3,884.8 996.8,873 997.3,884 997.8,878.9 998.3,868.6 998.8,876.5 999.3,877.8 999.8,873.3 1000.3,863 1000.8,872.3 1001.3,873.1 1001.8,868.4 1002.3,883.7 1002.8,873 1003.3,872.3 1003.8,872.8 1004.3,870.4 1004.8,870.4 1005.3,875 1005.8,876.2 1006.3,872 1006.8,874.2 1007.3,867.5 1007.8,877.5 1008.3,870.9 1008.8,876 1009.3,870.2 1009.8,872.3 1010.3,876.1 1010.8,868.8 1011.3,886.1 1011.8,875 1012.3,874.9 1012.8,871.5 1013.3,883.6 1013.8,882.6 1014.3,877 1014.8,868.4 1015.3,872.9 1015.8,878.8 1016.3,873 1016.8,869.5 1017.3,869.6 1017.8,871.8 1018.3,875.9 1018.8,872.5 1019.3,876 1019.8,887 1020.3,885.2 1020.8,870.7 1021.3,877.9 1021.8,876.6 1022.3,875.5 1022.8,881.7 1023.3,874.6 1023.8,874.7 1024.3,874.5 1024.8,876 1025.3,883.2 1025.8,880.6 1026.3,869.7 1026.8,874.4 1027.3,872.6 1027.8,881 1028.3,878 1028.8,881.5 1029.3,876.6 1029.8,867.1 1030.3,879.2 1030.8,877.9 1031.3,879.1 1031.8,869.5 1032.3,876.5 1032.8,872.3 1033.3,872.1 1033.8,877.3 1034.3,877.1 1034.8,870.4 1035.3,866 1035.8,863.7 1036.3,871.5 1036.8,880.1 1037.3,873.8 1037.8,862.9 1038.3,869.2 1038.8,875.7 1039.3,882 1039.8,879.2 1040.3,874.8 1040.8,873.7 1041.3,867 1041.8,870 1042.3,870.4 1042.8,867.9 1043.3,872.1 1043.8,869.5 1044.3,873.1 1044.8,878.7 1045.3,874.9 1045.8,873 1046.3,869.4 1046.8,862.5 1047.3,869.7 1047.8,872.9 1048.3,865 1048.8,877.1 1049.3,869.2 1049.8,873.2 1050.3,869.9 1050.8,865.5 1051.3,883.1 1051.8,866.7 1052.3,877.8 1052.8,870.5 1053.3,875.2 1053.8,870 1054.3,872.3 1054.8,879.6 1055.3,885.4 1055.8,871.3 1056.3,876.1 1056.8,881.4 1057.3,873.6 1057.8,881 1058.3,873.7 1058.8,881.3 1059.3,880.9 1059.8,885.3 1060.3,881.3 1060.8,873.6 1060.5,887" fill="none" stroke="#000" stroke-width="1.9" stroke-linejoin="round"/>
<line x1="893.2" y1="704" x2="893.4" y2="815" stroke="#000" stroke-width="1.8"/>
<line x1="971.1" y1="660" x2="970.6" y2="845" stroke="#000" stroke-width="2.0"/>
<rect x="715.3" y="637.2" width="345.6" height="281.1" fill="none" stroke="#000" stroke-width="2.2"/>
<line x1="746.7" y1="918.3" x2="746.7" y2="925.6" stroke="#000" stroke-width="2"/>
<text x="746.7" y="941.6" font-size="14.6" text-anchor="middle" fill="#000" stroke="#000" stroke-width="0.3">1000</text>
<line x1="808.8" y1="918.3" x2="808.8" y2="925.6" stroke="#000" stroke-width="2"/>
<text x="808.8" y="941.6" font-size="14.6" text-anchor="middle" fill="#000" stroke="#000" stroke-width="0.3">800</text>
<line x1="871.9" y1="918.3" x2="871.9" y2="925.6" stroke="#000" stroke-width="2"/>
<text x="871.9" y="941.6" font-size="14.6" text-anchor="middle" fill="#000" stroke="#000" stroke-width="0.3">600</text>
<line x1="934.8" y1="918.3" x2="934.8" y2="925.6" stroke="#000" stroke-width="2"/>
<text x="934.8" y="941.6" font-size="14.6" text-anchor="middle" fill="#000" stroke="#000" stroke-width="0.3">400</text>
<line x1="997.8" y1="918.3" x2="997.8" y2="925.6" stroke="#000" stroke-width="2"/>
<text x="997.8" y="941.6" font-size="14.6" text-anchor="middle" fill="#000" stroke="#000" stroke-width="0.3">200</text>
<line x1="1060.9" y1="918.3" x2="1060.9" y2="925.6" stroke="#000" stroke-width="2"/>
<text x="1060.9" y="941.6" font-size="14.6" text-anchor="middle" fill="#000" stroke="#000" stroke-width="0.3">0</text>
<text x="895" y="977" font-size="30.2" text-anchor="middle" fill="#000">Binding energy (eV)</text>
<text transform="translate(688.5 789.5) rotate(-90)" font-size="28.7" text-anchor="middle" fill="#000">Intensity (a.u.)</text>
<text x="716.5" y="624.7" font-size="35" font-weight="bold" fill="#000">f</text>
<text x="985.6" y="655.4" font-size="18.5" text-anchor="middle" font-weight="bold" fill="#000">C 1s</text>
<text x="908.3" y="695.3" font-size="18.5" text-anchor="middle" font-weight="bold" fill="#000">O 1s</text>
<path d="M1158.5 862a4.5 4.5 0 1 0 9.0 0a4.5 4.5 0 1 0 -9.0 0M1159.6 874.3a4.5 4.5 0 1 0 9.0 0a4.5 4.5 0 1 0 -9.0 0M1160.7 849.9a4.5 4.5 0 1 0 9.0 0a4.5 4.5 0 1 0 -9.0 0M1161.8 870.7a4.5 4.5 0 1 0 9.0 0a4.5 4.5 0 1 0 -9.0 0M1162.9 856.5a4.5 4.5 0 1 0 9.0 0a4.5 4.5 0 1 0 -9.0 0M1164 856.1a4.5 4.5 0 1 0 9.0 0a4.5 4.5 0 1 0 -9.0 0M1165.1 879.5a4.5 4.5 0 1 0 9.0 0a4.5 4.5 0 1 0 -9.0 0M1166.2 860a4.5 4.5 0 1 0 9.0 0a4.5 4.5 0 1 0 -9.0 0M1167.3 857.4a4.5 4.5 0 1 0 9.0 0a4.5 4.5 0 1 0 -9.0 0M1168.4 865.5a4.5 4.5 0 1 0 9.0 0a4.5 4.5 0 1 0 -9.0 0M1169.5 869.6a4.5 4.5 0 1 0 9.0 0a4.5 4.5 0 1 0 -9.0 0M1170.6 856.5a4.5 4.5 0 1 0 9.0 0a4.5 4.5 0 1 0 -9.0 0M1171.7 863.1a4.5 4.5 0 1 0 9.0 0a4.5 4.5 0 1 0 -9.0 0M1172.8 845.6a4.5 4.5 0 1 0 9.0 0a4.5 4.5 0 1 0 -9.0 0M1173.9 852a4.5 4.5 0 1 0 9.0 0a4.5 4.5 0 1 0 -9.0 0M1175 851a4.5 4.5 0 1 0 9.0 0a4.5 4.5 0 1 0 -9.0 0M1176.1 841a4.5 4.5 0 1 0 9.0 0a4.5 4.5 0 1 0 -9.0 0M1177.2 838.9a4.5 4.5 0 1 0 9.0 0a4.5 4.5 0 1 0 -9.0 0M1178.3 837.4a4.5 4.5 0 1 0 9.0 0a4.5 4.5 0 1 0 -9.0 0M1179.4 852.6a4.5 4.5 0 1 0 9.0 0a4.5 4.5 0 1 0 -9.0 0M1180.5 853.2a4.5 4.5 0 1 0 9.0 0a4.5 4.5 0 1 0 -9.0 0M1181.6 851.5a4.5 4.5 0 1 0 9.0 0a4.5 4.5 0 1 0 -9.0 0M1182.7 855.8a4.5 4.5 0 1 0 9.0 0a4.5 4.5 0 1 0 -9.0 0M1183.8 840.3a4.5 4.5 0 1 0 9.0 0a4.5 4.5 0 1 0 -9.0 0M1184.9 854.1a4.5 4.5 0 1 0 9.0 0a4.5 4.5 0 1 0 -9.0 0M1186 857.7a4.5 4.5 0 1 0 9.0 0a4.5 4.5 0 1 0 -9.0 0M1187.1 863.4a4.5 4.5 0 1 0 9.0 0a4.5 4.5 0 1 0 -9.0 0M1188.2 845.9a4.5 4.5 0 1 0 9.0 0a4.5 4.5 0 1 0 -9.0 0M1189.3 851a4.5 4.5 0 1 0 9.0 0a4.5 4.5 0 1 0 -9.0 0M1190.4 833.4a4.5 4.5 0 1 0 9.0 0a4.5 4.5 0 1 0 -9.0 0M1191.5 850.2a4.5 4.5 0 1 0 9.0 0a4.5 4.5 0 1 0 -9.0 0M1192.6 831.8a4.5 4.5 0 1 0 9.0 0a4.5 4.5 0 1 0 -9.0 0M1193.7 840.5a4.5 4.5 0 1 0 9.0 0a4.5 4.5 0 1 0 -9.0 0M1194.8 868.5a4.5 4.5 0 1 0 9.0 0a4.5 4.5 0 1 0 -9.0 0M1195.9 832.5a4.5 4.5 0 1 0 9.0 0a4.5 4.5 0 1 0 -9.0 0M1197 865.8a4.5 4.5 0 1 0 9.0 0a4.5 4.5 0 1 0 -9.0 0M1198.1 860.9a4.5 4.5 0 1 0 9.0 0a4.5 4.5 0 1 0 -9.0 0M1199.2 854.2a4.5 4.5 0 1 0 9.0 0a4.5 4.5 0 1 0 -9.0 0M1200.3 863a4.5 4.5 0 1 0 9.0 0a4.5 4.5 0 1 0 -9.0 0M1201.4 864.1a4.5 4.5 0 1 0 9.0 0a4.5 4.5 0 1 0 -9.0 0M1202.5 870.2a4.5 4.5 0 1 0 9.0 0a4.5 4.5 0 1 0 -9.0 0M1203.6 856.6a4.5 4.5 0 1 0 9.0 0a4.5 4.5 0 1 0 -9.0 0M1204.7 853a4.5 4.5 0 1 0 9.0 0a4.5 4.5 0 1 0 -9.0 0M1205.8 853.2a4.5 4.5 0 1 0 9.0 0a4.5 4.5 0 1 0 -9.0 0M1206.9 849.5a4.5 4.5 0 1 0 9.0 0a4.5 4.5 0 1 0 -9.0 0M1208 860.2a4.5 4.5 0 1 0 9.0 0a4.5 4.5 0 1 0 -9.0 0M1209.1 852.5a4.5 4.5 0 1 0 9.0 0a4.5 4.5 0 1 0 -9.0 0M1210.2 873.3a4.5 4.5 0 1 0 9.0 0a4.5 4.5 0 1 0 -9.0 0M1211.3 835.4a4.5 4.5 0 1 0 9.0 0a4.5 4.5 0 1 0 -9.0 0M1212.4 844.3a4.5 4.5 0 1 0 9.0 0a4.5 4.5 0 1 0 -9.0 0M1213.5 846.3a4.5 4.5 0 1 0 9.0 0a4.5 4.5 0 1 0 -9.0 0M1214.6 834.1a4.5 4.5 0 1 0 9.0 0a4.5 4.5 0 1 0 -9.0 0M1215.7 878.4a4.5 4.5 0 1 0 9.0 0a4.5 4.5 0 1 0 -9.0 0M1216.8 831.4a4.5 4.5 0 1 0 9.0 0a4.5 4.5 0 1 0 -9.0 0M1217.9 855.1a4.5 4.5 0 1 0 9.0 0a4.5 4.5 0 1 0 -9.0 0M1219 852.8a4.5 4.5 0 1 0 9.0 0a4.5 4.5 0 1 0 -9.0 0M1220.1 877.1a4.5 4.5 0 1 0 9.0 0a4.5 4.5 0 1 0 -9.0 0M1221.2 837.4a4.5 4.5 0 1 0 9.0 0a4.5 4.5 0 1 0 -9.0 0M1222.3 871.3a4.5 4.5 0 1 0 9.0 0a4.5 4.5 0 1 0 -9.0 0M1223.4 851.7a4.5 4.5 0 1 0 9.0 0a4.5 4.5 0 1 0 -9.0 0M1224.5 858.3a4.5 4.5 0 1 0 9.0 0a4.5 4.5 0 1 0 -9.0 0M1225.6 852.8a4.5 4.5 0 1 0 9.0 0a4.5 4.5 0 1 0 -9.0 0M1226.7 867.4a4.5 4.5 0 1 0 9.0 0a4.5 4.5 0 1 0 -9.0 0M1227.8 848.1a4.5 4.5 0 1 0 9.0 0a4.5 4.5 0 1 0 -9.0 0M1228.9 859.8a4.5 4.5 0 1 0 9.0 0a4.5 4.5 0 1 0 -9.0 0M1230 864.7a4.5 4.5 0 1 0 9.0 0a4.5 4.5 0 1 0 -9.0 0M1231.1 881.2a4.5 4.5 0 1 0 9.0 0a4.5 4.5 0 1 0 -9.0 0M1232.2 834.5a4.5 4.5 0 1 0 9.0 0a4.5 4.5 0 1 0 -9.0 0M1233.3 877.8a4.5 4.5 0 1 0 9.0 0a4.5 4.5 0 1 0 -9.0 0M1234.4 871.4a4.5 4.5 0 1 0 9.0 0a4.5 4.5 0 1 0 -9.0 0M1235.5 855.7a4.5 4.5 0 1 0 9.0 0a4.5 4.5 0 1 0 -9.0 0M1236.6 864.3a4.5 4.5 0 1 0 9.0 0a4.5 4.5 0 1 0 -9.0 0M1237.7 855.7a4.5 4.5 0 1 0 9.0 0a4.5 4.5 0 1 0 -9.0 0M1238.8 878.8a4.5 4.5 0 1 0 9.0 0a4.5 4.5 0 1 0 -9.0 0M1239.9 862.9a4.5 4.5 0 1 0 9.0 0a4.5 4.5 0 1 0 -9.0 0M1241 858a4.5 4.5 0 1 0 9.0 0a4.5 4.5 0 1 0 -9.0 0M1242.1 857.7a4.5 4.5 0 1 0 9.0 0a4.5 4.5 0 1 0 -9.0 0M1243.2 857.8a4.5 4.5 0 1 0 9.0 0a4.5 4.5 0 1 0 -9.0 0M1244.3 857.8a4.5 4.5 0 1 0 9.0 0a4.5 4.5 0 1 0 -9.0 0M1245.4 849.8a4.5 4.5 0 1 0 9.0 0a4.5 4.5 0 1 0 -9.0 0M1246.5 881.9a4.5 4.5 0 1 0 9.0 0a4.5 4.5 0 1 0 -9.0 0M1247.6 837.9a4.5 4.5 0 1 0 9.0 0a4.5 4.5 0 1 0 -9.0 0M1248.7 826a4.5 4.5 0 1 0 9.0 0a4.5 4.5 0 1 0 -9.0 0M1249.8 856.9a4.5 4.5 0 1 0 9.0 0a4.5 4.5 0 1 0 -9.0 0M1250.9 856.3a4.5 4.5 0 1 0 9.0 0a4.5 4.5 0 1 0 -9.0 0M1252 861.6a4.5 4.5 0 1 0 9.0 0a4.5 4.5 0 1 0 -9.0 0M1253.1 854.9a4.5 4.5 0 1 0 9.0 0a4.5 4.5 0 1 0 -9.0 0M1254.2 855.2a4.5 4.5 0 1 0 9.0 0a4.5 4.5 0 1 0 -9.0 0M1255.3 860a4.5 4.5 0 1 0 9.0 0a4.5 4.5 0 1 0 -9.0 0M1256.4 866.6a4.5 4.5 0 1 0 9.0 0a4.5 4.5 0 1 0 -9.0 0M1257.5 850.6a4.5 4.5 0 1 0 9.0 0a4.5 4.5 0 1 0 -9.0 0M1258.6 851.1a4.5 4.5 0 1 0 9.0 0a4.5 4.5 0 1 0 -9.0 0M1259.7 876.1a4.5 4.5 0 1 0 9.0 0a4.5 4.5 0 1 0 -9.0 0M1260.8 860.2a4.5 4.5 0 1 0 9.0 0a4.5 4.5 0 1 0 -9.0 0M1261.9 843.1a4.5 4.5 0 1 0 9.0 0a4.5 4.5 0 1 0 -9.0 0M1263 879.1a4.5 4.5 0 1 0 9.0 0a4.5 4.5 0 1 0 -9.0 0M1264.1 864.7a4.5 4.5 0 1 0 9.0 0a4.5 4.5 0 1 0 -9.0 0M1265 859.8a4.5 4.5 0 1 0 9.0 0a4.5 4.5 0 1 0 -9.0 0M1265.9 857.7a4.5 4.5 0 1 0 9.0 0a4.5 4.5 0 1 0 -9.0 0M1266.9 862.8a4.5 4.5 0 1 0 9.0 0a4.5 4.5 0 1 0 -9.0 0M1267.8 858.6a4.5 4.5 0 1 0 9.0 0a4.5 4.5 0 1 0 -9.0 0M1268.7 857.6a4.5 4.5 0 1 0 9.0 0a4.5 4.5 0 1 0 -9.0 0M1269.6 856.4a4.5 4.5 0 1 0 9.0 0a4.5 4.5 0 1 0 -9.0 0M1270.5 858.7a4.5 4.5 0 1 0 9.0 0a4.5 4.5 0 1 0 -9.0 0M1271.5 863.6a4.5 4.5 0 1 0 9.0 0a4.5 4.5 0 1 0 -9.0 0M1272.4 857.1a4.5 4.5 0 1 0 9.0 0a4.5 4.5 0 1 0 -9.0 0M1273.3 852.2a4.5 4.5 0 1 0 9.0 0a4.5 4.5 0 1 0 -9.0 0M1274.2 857.8a4.5 4.5 0 1 0 9.0 0a4.5 4.5 0 1 0 -9.0 0M1275.1 853.3a4.5 4.5 0 1 0 9.0 0a4.5 4.5 0 1 0 -9.0 0M1276.1 852.9a4.5 4.5 0 1 0 9.0 0a4.5 4.5 0 1 0 -9.0 0M1277 850.4a4.5 4.5 0 1 0 9.0 0a4.5 4.5 0 1 0 -9.0 0M1277.9 840.9a4.5 4.5 0 1 0 9.0 0a4.5 4.5 0 1 0 -9.0 0M1278.8 835.4a4.5 4.5 0 1 0 9.0 0a4.5 4.5 0 1 0 -9.0 0M1279.7 829.2a4.5 4.5 0 1 0 9.0 0a4.5 4.5 0 1 0 -9.0 0M1280.7 817.9a4.5 4.5 0 1 0 9.0 0a4.5 4.5 0 1 0 -9.0 0M1281.6 815.9a4.5 4.5 0 1 0 9.0 0a4.5 4.5 0 1 0 -9.0 0M1282.5 809.4a4.5 4.5 0 1 0 9.0 0a4.5 4.5 0 1 0 -9.0 0M1283.4 795.9a4.5 4.5 0 1 0 9.0 0a4.5 4.5 0 1 0 -9.0 0M1284.3 785a4.5 4.5 0 1 0 9.0 0a4.5 4.5 0 1 0 -9.0 0M1285.3 775.7a4.5 4.5 0 1 0 9.0 0a4.5 4.5 0 1 0 -9.0 0M1286.2 765.3a4.5 4.5 0 1 0 9.0 0a4.5 4.5 0 1 0 -9.0 0M1287.1 757.6a4.5 4.5 0 1 0 9.0 0a4.5 4.5 0 1 0 -9.0 0M1288 752.5a4.5 4.5 0 1 0 9.0 0a4.5 4.5 0 1 0 -9.0 0M1288.9 745.7a4.5 4.5 0 1 0 9.0 0a4.5 4.5 0 1 0 -9.0 0M1289.9 743a4.5 4.5 0 1 0 9.0 0a4.5 4.5 0 1 0 -9.0 0M1290.8 735.7a4.5 4.5 0 1 0 9.0 0a4.5 4.5 0 1 0 -9.0 0M1291.7 739.9a4.5 4.5 0 1 0 9.0 0a4.5 4.5 0 1 0 -9.0 0M1292.6 736.5a4.5 4.5 0 1 0 9.0 0a4.5 4.5 0 1 0 -9.0 0M1293.5 729.8a4.5 4.5 0 1 0 9.0 0a4.5 4.5 0 1 0 -9.0 0M1294.5 722.6a4.5 4.5 0 1 0 9.0 0a4.5 4.5 0 1 0 -9.0 0M1295.4 726.5a4.5 4.5 0 1 0 9.0 0a4.5 4.5 0 1 0 -9.0 0M1296.3 724.9a4.5 4.5 0 1 0 9.0 0a4.5 4.5 0 1 0 -9.0 0M1297.2 711.5a4.5 4.5 0 1 0 9.0 0a4.5 4.5 0 1 0 -9.0 0M1298.1 704.1a4.5 4.5 0 1 0 9.0 0a4.5 4.5 0 1 0 -9.0 0M1299.1 694.6a4.5 4.5 0 1 0 9.0 0a4.5 4.5 0 1 0 -9.0 0M1300 689.4a4.5 4.5 0 1 0 9.0 0a4.5 4.5 0 1 0 -9.0 0M1300.9 675.1a4.5 4.5 0 1 0 9.0 0a4.5 4.5 0 1 0 -9.0 0M1301.8 674.5a4.5 4.5 0 1 0 9.0 0a4.5 4.5 0 1 0 -9.0 0M1302.7 664.8a4.5 4.5 0 1 0 9.0 0a4.5 4.5 0 1 0 -9.0 0M1303.7 666.3a4.5 4.5 0 1 0 9.0 0a4.5 4.5 0 1 0 -9.0 0M1304.6 662.6a4.5 4.5 0 1 0 9.0 0a4.5 4.5 0 1 0 -9.0 0M1305.5 662.9a4.5 4.5 0 1 0 9.0 0a4.5 4.5 0 1 0 -9.0 0M1306.4 661.2a4.5 4.5 0 1 0 9.0 0a4.5 4.5 0 1 0 -9.0 0M1307.3 667.8a4.5 4.5 0 1 0 9.0 0a4.5 4.5 0 1 0 -9.0 0M1308.3 674.1a4.5 4.5 0 1 0 9.0 0a4.5 4.5 0 1 0 -9.0 0M1309.2 683.1a4.5 4.5 0 1 0 9.0 0a4.5 4.5 0 1 0 -9.0 0M1310.1 688.3a4.5 4.5 0 1 0 9.0 0a4.5 4.5 0 1 0 -9.0 0M1311 692.5a4.5 4.5 0 1 0 9.0 0a4.5 4.5 0 1 0 -9.0 0M1311.9 704.6a4.5 4.5 0 1 0 9.0 0a4.5 4.5 0 1 0 -9.0 0M1312.9 715.2a4.5 4.5 0 1 0 9.0 0a4.5 4.5 0 1 0 -9.0 0M1313.8 719.8a4.5 4.5 0 1 0 9.0 0a4.5 4.5 0 1 0 -9.0 0M1314.7 727.2a4.5 4.5 0 1 0 9.0 0a4.5 4.5 0 1 0 -9.0 0M1315.6 735.4a4.5 4.5 0 1 0 9.0 0a4.5 4.5 0 1 0 -9.0 0M1316.5 747a4.5 4.5 0 1 0 9.0 0a4.5 4.5 0 1 0 -9.0 0M1317.5 752.9a4.5 4.5 0 1 0 9.0 0a4.5 4.5 0 1 0 -9.0 0M1318.4 754.1a4.5 4.5 0 1 0 9.0 0a4.5 4.5 0 1 0 -9.0 0M1319.3 764.6a4.5 4.5 0 1 0 9.0 0a4.5 4.5 0 1 0 -9.0 0M1320.2 767.5a4.5 4.5 0 1 0 9.0 0a4.5 4.5 0 1 0 -9.0 0M1321.1 772.5a4.5 4.5 0 1 0 9.0 0a4.5 4.5 0 1 0 -9.0 0M1322.1 785.9a4.5 4.5 0 1 0 9.0 0a4.5 4.5 0 1 0 -9.0 0M1323 791.3a4.5 4.5 0 1 0 9.0 0a4.5 4.5 0 1 0 -9.0 0M1323.9 793.3a4.5 4.5 0 1 0 9.0 0a4.5 4.5 0 1 0 -9.0 0M1324.8 803.9a4.5 4.5 0 1 0 9.0 0a4.5 4.5 0 1 0 -9.0 0M1325.7 813.4a4.5 4.5 0 1 0 9.0 0a4.5 4.5 0 1 0 -9.0 0M1326.7 817.3a4.5 4.5 0 1 0 9.0 0a4.5 4.5 0 1 0 -9.0 0M1327.6 826.7a4.5 4.5 0 1 0 9.0 0a4.5 4.5 0 1 0 -9.0 0M1328.5 836.3a4.5 4.5 0 1 0 9.0 0a4.5 4.5 0 1 0 -9.0 0M1329.4 833.8a4.5 4.5 0 1 0 9.0 0a4.5 4.5 0 1 0 -9.0 0M1330.3 846.1a4.5 4.5 0 1 0 9.0 0a4.5 4.5 0 1 0 -9.0 0M1331.3 851.2a4.5 4.5 0 1 0 9.0 0a4.5 4.5 0 1 0 -9.0 0M1332.2 852.7a4.5 4.5 0 1 0 9.0 0a4.5 4.5 0 1 0 -9.0 0M1333.1 847a4.5 4.5 0 1 0 9.0 0a4.5 4.5 0 1 0 -9.0 0M1334 852a4.5 4.5 0 1 0 9.0 0a4.5 4.5 0 1 0 -9.0 0M1334.9 845.5a4.5 4.5 0 1 0 9.0 0a4.5 4.5 0 1 0 -9.0 0M1335.9 846.9a4.5 4.5 0 1 0 9.0 0a4.5 4.5 0 1 0 -9.0 0M1336.8 842.8a4.5 4.5 0 1 0 9.0 0a4.5 4.5 0 1 0 -9.0 0M1337.7 837.3a4.5 4.5 0 1 0 9.0 0a4.5 4.5 0 1 0 -9.0 0M1338.6 830.7a4.5 4.5 0 1 0 9.0 0a4.5 4.5 0 1 0 -9.0 0M1339.5 829.8a4.5 4.5 0 1 0 9.0 0a4.5 4.5 0 1 0 -9.0 0M1340.5 835.4a4.5 4.5 0 1 0 9.0 0a4.5 4.5 0 1 0 -9.0 0M1341.4 831.8a4.5 4.5 0 1 0 9.0 0a4.5 4.5 0 1 0 -9.0 0M1342.3 840.8a4.5 4.5 0 1 0 9.0 0a4.5 4.5 0 1 0 -9.0 0M1343.2 845.7a4.5 4.5 0 1 0 9.0 0a4.5 4.5 0 1 0 -9.0 0M1344.1 847.7a4.5 4.5 0 1 0 9.0 0a4.5 4.5 0 1 0 -9.0 0M1345.1 873.4a4.5 4.5 0 1 0 9.0 0a4.5 4.5 0 1 0 -9.0 0M1346.2 849.5a4.5 4.5 0 1 0 9.0 0a4.5 4.5 0 1 0 -9.0 0M1347.3 871.8a4.5 4.5 0 1 0 9.0 0a4.5 4.5 0 1 0 -9.0 0M1348.4 828.5a4.5 4.5 0 1 0 9.0 0a4.5 4.5 0 1 0 -9.0 0M1349.5 826.6a4.5 4.5 0 1 0 9.0 0a4.5 4.5 0 1 0 -9.0 0M1350.6 860.9a4.5 4.5 0 1 0 9.0 0a4.5 4.5 0 1 0 -9.0 0M1351.7 857.7a4.5 4.5 0 1 0 9.0 0a4.5 4.5 0 1 0 -9.0 0M1352.8 848.1a4.5 4.5 0 1 0 9.0 0a4.5 4.5 0 1 0 -9.0 0M1353.9 851.2a4.5 4.5 0 1 0 9.0 0a4.5 4.5 0 1 0 -9.0 0M1355 832.1a4.5 4.5 0 1 0 9.0 0a4.5 4.5 0 1 0 -9.0 0M1356.1 845.7a4.5 4.5 0 1 0 9.0 0a4.5 4.5 0 1 0 -9.0 0M1357.2 841.7a4.5 4.5 0 1 0 9.0 0a4.5 4.5 0 1 0 -9.0 0M1358.3 850.4a4.5 4.5 0 1 0 9.0 0a4.5 4.5 0 1 0 -9.0 0M1359.4 862.2a4.5 4.5 0 1 0 9.0 0a4.5 4.5 0 1 0 -9.0 0M1360.5 853.5a4.5 4.5 0 1 0 9.0 0a4.5 4.5 0 1 0 -9.0 0M1361.6 856.9a4.5 4.5 0 1 0 9.0 0a4.5 4.5 0 1 0 -9.0 0M1362.7 845.7a4.5 4.5 0 1 0 9.0 0a4.5 4.5 0 1 0 -9.0 0M1363.8 848.4a4.5 4.5 0 1 0 9.0 0a4.5 4.5 0 1 0 -9.0 0M1364.9 854a4.5 4.5 0 1 0 9.0 0a4.5 4.5 0 1 0 -9.0 0M1366 849.7a4.5 4.5 0 1 0 9.0 0a4.5 4.5 0 1 0 -9.0 0M1367.1 865.7a4.5 4.5 0 1 0 9.0 0a4.5 4.5 0 1 0 -9.0 0M1368.2 843a4.5 4.5 0 1 0 9.0 0a4.5 4.5 0 1 0 -9.0 0M1369.3 871.7a4.5 4.5 0 1 0 9.0 0a4.5 4.5 0 1 0 -9.0 0M1370.4 841.3a4.5 4.5 0 1 0 9.0 0a4.5 4.5 0 1 0 -9.0 0M1371.5 862.3a4.5 4.5 0 1 0 9.0 0a4.5 4.5 0 1 0 -9.0 0M1372.6 842.7a4.5 4.5 0 1 0 9.0 0a4.5 4.5 0 1 0 -9.0 0M1373.7 867.7a4.5 4.5 0 1 0 9.0 0a4.5 4.5 0 1 0 -9.0 0M1374.8 851.3a4.5 4.5 0 1 0 9.0 0a4.5 4.5 0 1 0 -9.0 0M1375.9 853.6a4.5 4.5 0 1 0 9.0 0a4.5 4.5 0 1 0 -9.0 0M1377 856.8a4.5 4.5 0 1 0 9.0 0a4.5 4.5 0 1 0 -9.0 0M1378.1 841.8a4.5 4.5 0 1 0 9.0 0a4.5 4.5 0 1 0 -9.0 0M1379.2 837a4.5 4.5 0 1 0 9.0 0a4.5 4.5 0 1 0 -9.0 0M1380.3 826.2a4.5 4.5 0 1 0 9.0 0a4.5 4.5 0 1 0 -9.0 0M1381.4 859.8a4.5 4.5 0 1 0 9.0 0a4.5 4.5 0 1 0 -9.0 0M1382.5 839.2a4.5 4.5 0 1 0 9.0 0a4.5 4.5 0 1 0 -9.0 0M1383.6 839.8a4.5 4.5 0 1 0 9.0 0a4.5 4.5 0 1 0 -9.0 0M1384.7 845.2a4.5 4.5 0 1 0 9.0 0a4.5 4.5 0 1 0 -9.0 0M1385.8 866a4.5 4.5 0 1 0 9.0 0a4.5 4.5 0 1 0 -9.0 0M1386.9 826.6a4.5 4.5 0 1 0 9.0 0a4.5 4.5 0 1 0 -9.0 0M1388 847a4.5 4.5 0 1 0 9.0 0a4.5 4.5 0 1 0 -9.0 0M1389.1 839.9a4.5 4.5 0 1 0 9.0 0a4.5 4.5 0 1 0 -9.0 0M1390.2 849.4a4.5 4.5 0 1 0 9.0 0a4.5 4.5 0 1 0 -9.0 0M1391.3 824.6a4.5 4.5 0 1 0 9.0 0a4.5 4.5 0 1 0 -9.0 0M1392.4 839.1a4.5 4.5 0 1 0 9.0 0a4.5 4.5 0 1 0 -9.0 0M1393.5 852a4.5 4.5 0 1 0 9.0 0a4.5 4.5 0 1 0 -9.0 0M1394.6 859.4a4.5 4.5 0 1 0 9.0 0a4.5 4.5 0 1 0 -9.0 0M1395.7 859.8a4.5 4.5 0 1 0 9.0 0a4.5 4.5 0 1 0 -9.0 0M1396.8 834a4.5 4.5 0 1 0 9.0 0a4.5 4.5 0 1 0 -9.0 0M1397.9 843.6a4.5 4.5 0 1 0 9.0 0a4.5 4.5 0 1 0 -9.0 0M1399 842a4.5 4.5 0 1 0 9.0 0a4.5 4.5 0 1 0 -9.0 0M1400.1 828.8a4.5 4.5 0 1 0 9.0 0a4.5 4.5 0 1 0 -9.0 0M1401.2 828.3a4.5 4.5 0 1 0 9.0 0a4.5 4.5 0 1 0 -9.0 0M1402.3 851.7a4.5 4.5 0 1 0 9.0 0a4.5 4.5 0 1 0 -9.0 0M1403.4 846.6a4.5 4.5 0 1 0 9.0 0a4.5 4.5 0 1 0 -9.0 0M1404.5 842.8a4.5 4.5 0 1 0 9.0 0a4.5 4.5 0 1 0 -9.0 0M1405.6 857.4a4.5 4.5 0 1 0 9.0 0a4.5 4.5 0 1 0 -9.0 0M1406.7 834.5a4.5 4.5 0 1 0 9.0 0a4.5 4.5 0 1 0 -9.0 0M1407.8 851a4.5 4.5 0 1 0 9.0 0a4.5 4.5 0 1 0 -9.0 0M1408.9 846a4.5 4.5 0 1 0 9.0 0a4.5 4.5 0 1 0 -9.0 0M1410 845.7a4.5 4.5 0 1 0 9.0 0a4.5 4.5 0 1 0 -9.0 0M1411.1 852a4.5 4.5 0 1 0 9.0 0a4.5 4.5 0 1 0 -9.0 0M1412.2 849.2a4.5 4.5 0 1 0 9.0 0a4.5 4.5 0 1 0 -9.0 0M1413.3 850.6a4.5 4.5 0 1 0 9.0 0a4.5 4.5 0 1 0 -9.0 0M1414.4 851.1a4.5 4.5 0 1 0 9.0 0a4.5 4.5 0 1 0 -9.0 0M1415.5 869.2a4.5 4.5 0 1 0 9.0 0a4.5 4.5 0 1 0 -9.0 0M1416.6 846.1a4.5 4.5 0 1 0 9.0 0a4.5 4.5 0 1 0 -9.0 0M1417.7 860.4a4.5 4.5 0 1 0 9.0 0a4.5 4.5 0 1 0 -9.0 0M1418.8 856.6a4.5 4.5 0 1 0 9.0 0a4.5 4.5 0 1 0 -9.0 0M1419.9 847a4.5 4.5 0 1 0 9.0 0a4.5 4.5 0 1 0 -9.0 0M1421 859.5a4.5 4.5 0 1 0 9.0 0a4.5 4.5 0 1 0 -9.0 0M1422.1 842.5a4.5 4.5 0 1 0 9.0 0a4.5 4.5 0 1 0 -9.0 0M1423.2 864a4.5 4.5 0 1 0 9.0 0a4.5 4.5 0 1 0 -9.0 0M1424.3 843.6a4.5 4.5 0 1 0 9.0 0a4.5 4.5 0 1 0 -9.0 0M1425.4 847.2a4.5 4.5 0 1 0 9.0 0a4.5 4.5 0 1 0 -9.0 0M1426.5 856a4.5 4.5 0 1 0 9.0 0a4.5 4.5 0 1 0 -9.0 0M1427.6 861.5a4.5 4.5 0 1 0 9.0 0a4.5 4.5 0 1 0 -9.0 0M1428.7 862.4a4.5 4.5 0 1 0 9.0 0a4.5 4.5 0 1 0 -9.0 0M1429.8 862.4a4.5 4.5 0 1 0 9.0 0a4.5 4.5 0 1 0 -9.0 0M1430.9 850.8a4.5 4.5 0 1 0 9.0 0a4.5 4.5 0 1 0 -9.0 0M1432 842.9a4.5 4.5 0 1 0 9.0 0a4.5 4.5 0 1 0 -9.0 0M1433.1 858.7a4.5 4.5 0 1 0 9.0 0a4.5 4.5 0 1 0 -9.0 0M1434.2 856a4.5 4.5 0 1 0 9.0 0a4.5 4.5 0 1 0 -9.0 0M1435.3 842.6a4.5 4.5 0 1 0 9.0 0a4.5 4.5 0 1 0 -9.0 0M1436.4 862.6a4.5 4.5 0 1 0 9.0 0a4.5 4.5 0 1 0 -9.0 0M1437.5 854.2a4.5 4.5 0 1 0 9.0 0a4.5 4.5 0 1 0 -9.0 0M1438.6 841.8a4.5 4.5 0 1 0 9.0 0a4.5 4.5 0 1 0 -9.0 0M1439.7 856.1a4.5 4.5 0 1 0 9.0 0a4.5 4.5 0 1 0 -9.0 0M1440.8 837.2a4.5 4.5 0 1 0 9.0 0a4.5 4.5 0 1 0 -9.0 0M1441.9 841.5a4.5 4.5 0 1 0 9.0 0a4.5 4.5 0 1 0 -9.0 0M1261.5 880a4.5 4.5 0 1 0 9.0 0a4.5 4.5 0 1 0 -9.0 0M1301.7 657.4a4.5 4.5 0 1 0 9.0 0a4.5 4.5 0 1 0 -9.0 0M1305 662a4.5 4.5 0 1 0 9.0 0a4.5 4.5 0 1 0 -9.0 0M1310 668a4.5 4.5 0 1 0 9.0 0a4.5 4.5 0 1 0 -9.0 0" fill="#fff" stroke="#000" stroke-width="2.4"/>
<polyline points="1163,862 1164.1,874.3 1165.2,849.9 1166.3,870.7 1167.4,856.5 1168.5,856.1 1169.6,879.5 1170.7,860 1171.8,857.4 1172.9,865.5 1174,869.6 1175.1,856.5 1176.2,863.1 1177.3,845.6 1178.4,852 1179.5,851 1180.6,841 1181.7,838.9 1182.8,837.4 1183.9,852.6 1185,853.2 1186.1,851.5 1187.2,855.8 1188.3,840.3 1189.4,854.1 1190.5,857.7 1191.6,863.4 1192.7,845.9 1193.8,851 1194.9,833.4 1196,850.2 1197.1,831.8 1198.2,840.5 1199.3,868.5 1200.4,832.5 1201.5,865.8 1202.6,860.9 1203.7,854.2 1204.8,863 1205.9,864.1 1207,870.2 1208.1,856.6 1209.2,853 1210.3,853.2 1211.4,849.5 1212.5,860.2 1213.6,852.5 1214.7,873.3 1215.8,835.4 1216.9,844.3 1218,846.3 1219.1,834.1 1220.2,878.4 1221.3,831.4 1222.4,855.1 1223.5,852.8 1224.6,877.1 1225.7,837.4 1226.8,871.3 1227.9,851.7 1229,858.3 1230.1,852.8 1231.2,867.4 1232.3,848.1 1233.4,859.8 1234.5,864.7 1235.6,881.2 1236.7,834.5 1237.8,877.8 1238.9,871.4 1240,855.7 1241.1,864.3 1242.2,855.7 1243.3,878.8 1244.4,862.9 1245.5,858 1246.6,857.7 1247.7,857.8 1248.8,857.8 1249.9,849.8 1251,881.9 1252.1,837.9 1253.2,826 1254.3,856.9 1255.4,856.3 1256.5,861.6 1257.6,854.9 1258.7,855.2 1259.8,860 1260.9,866.6 1262,850.6 1263.1,851.1 1264.2,876.1 1265.3,860.2 1266.4,843.1 1267.5,879.1" fill="none" stroke="#808080" stroke-width="3.4" stroke-linejoin="round"/>
<polyline points="1349.6,873.4 1350.7,849.5 1351.8,871.8 1352.9,828.5 1354,826.6 1355.1,860.9 1356.2,857.7 1357.3,848.1 1358.4,851.2 1359.5,832.1 1360.6,845.7 1361.7,841.7 1362.8,850.4 1363.9,862.2 1365,853.5 1366.1,856.9 1367.2,845.7 1368.3,848.4 1369.4,854 1370.5,849.7 1371.6,865.7 1372.7,843 1373.8,871.7 1374.9,841.3 1376,862.3 1377.1,842.7 1378.2,867.7 1379.3,851.3 1380.4,853.6 1381.5,856.8 1382.6,841.8 1383.7,837 1384.8,826.2 1385.9,859.8 1387,839.2 1388.1,839.8 1389.2,845.2 1390.3,866 1391.4,826.6 1392.5,847 1393.6,839.9 1394.7,849.4 1395.8,824.6 1396.9,839.1 1398,852 1399.1,859.4 1400.2,859.8 1401.3,834 1402.4,843.6 1403.5,842 1404.6,828.8 1405.7,828.3 1406.8,851.7 1407.9,846.6 1409,842.8 1410.1,857.4 1411.2,834.5 1412.3,851 1413.4,846 1414.5,845.7 1415.6,852 1416.7,849.2 1417.8,850.6 1418.9,851.1 1420,869.2 1421.1,846.1 1422.2,860.4 1423.3,856.6 1424.4,847 1425.5,859.5 1426.6,842.5 1427.7,864 1428.8,843.6 1429.9,847.2 1431,856 1432.1,861.5 1433.2,862.4 1434.3,862.4 1435.4,850.8 1436.5,842.9 1437.6,858.7 1438.7,856 1439.8,842.6 1440.9,862.6 1442,854.2 1443.1,841.8 1444.2,856.1 1445.3,837.2 1446.4,841.5" fill="none" stroke="#808080" stroke-width="3.4" stroke-linejoin="round"/>
<line x1="1266" y1="862" x2="1350" y2="862" stroke="#808080" stroke-width="2.6"/>
<polyline points="1282,861.4 1282.7,861.2 1283.4,861 1284.1,860.7 1284.8,860.4 1285.5,859.9 1286.2,859.3 1286.9,858.6 1287.6,857.8 1288.3,856.7 1289,855.5 1289.7,854 1290.4,852.2 1291.1,850.1 1291.8,847.6 1292.5,844.8 1293.2,841.5 1293.9,837.8 1294.6,833.5 1295.3,828.8 1296,823.5 1296.7,817.7 1297.4,811.3 1298.1,804.4 1298.8,797 1299.5,789.1 1300.2,780.8 1300.9,772.2 1301.6,763.3 1302.3,754.2 1303,745.1 1303.7,736 1304.4,727.2 1305.1,718.6 1305.8,710.5 1306.5,703.1 1307.2,696.3 1307.9,690.4 1308.6,685.5 1309.3,681.6 1310,678.9 1310.7,677.4 1311.4,677 1312.1,677.9 1312.8,680 1313.5,683.3 1314.2,687.6 1314.9,693 1315.6,699.3 1316.3,706.4 1317,714.2 1317.7,722.5 1318.4,731.2 1319.1,740.2 1319.8,749.3 1320.5,758.4 1321.2,767.4 1321.9,776.2 1322.6,784.7 1323.3,792.8 1324,800.5 1324.7,807.6 1325.4,814.3 1326.1,820.4 1326.8,826 1327.5,831 1328.2,835.5 1328.9,839.5 1329.6,843.1 1330.3,846.1 1331,848.8 1331.7,851.1 1332.4,853 1333.1,854.7 1333.8,856.1 1334.5,857.2 1335.2,858.2 1335.9,859 1336.6,859.6 1337.3,860.1 1338,860.5 1338.7,860.9 1339.4,861.1 1340.1,861.3" fill="none" stroke="#7d1416" stroke-width="2.8" stroke-linejoin="round"/>
<polyline points="1271.3,861.7 1272,861.6 1272.7,861.5 1273.4,861.3 1274.1,861 1274.8,860.6 1275.5,860.2 1276.2,859.5 1276.9,858.8 1277.6,857.8 1278.3,856.6 1279,855.1 1279.7,853.3 1280.4,851.1 1281.1,848.6 1281.8,845.6 1282.5,842.3 1283.2,838.5 1283.9,834.4 1284.6,829.8 1285.3,824.9 1286,819.8 1286.7,814.4 1287.4,809 1288.1,803.7 1288.8,798.5 1289.5,793.7 1290.2,789.3 1290.9,785.4 1291.6,782.3 1292.3,780 1293,778.5 1293.7,778 1294.4,778.4 1295.1,779.8 1295.8,782 1296.5,785 1297.2,788.8 1297.9,793.1 1298.6,797.9 1299.3,803.1 1300,808.4 1300.7,813.8 1301.4,819.2 1302.1,824.3 1302.8,829.3 1303.5,833.9 1304.2,838.1 1304.9,841.9 1305.6,845.3 1306.3,848.3 1307,850.8 1307.7,853 1308.4,854.9 1309.1,856.4 1309.8,857.6 1310.5,858.7 1311.2,859.5 1311.9,860.1 1312.6,860.6 1313.3,861 1314,861.2 1314.7,861.5 1315.4,861.6 1316.1,861.7" fill="none" stroke="#f08a1e" stroke-width="2.8" stroke-linejoin="round"/>
<polyline points="1309.9,861.9 1310.6,861.8 1311.3,861.7 1312,861.5 1312.7,861.2 1313.4,860.9 1314.1,860.4 1314.8,859.7 1315.5,858.8 1316.2,857.6 1316.9,856.2 1317.6,854.4 1318.3,852.2 1319,849.7 1319.7,846.8 1320.4,843.5 1321.1,840.1 1321.8,836.4 1322.5,832.8 1323.2,829.3 1323.9,826.1 1324.6,823.3 1325.3,821.1 1326,819.7 1326.7,819 1327.4,819.2 1328.1,820.2 1328.8,822 1329.5,824.4 1330.2,827.4 1330.9,830.8 1331.6,834.4 1332.3,838 1333,841.6 1333.7,844.9 1334.4,848 1335.1,850.8 1335.8,853.2 1336.5,855.2 1337.2,856.8 1337.9,858.2 1338.6,859.2 1339.3,860 1340,860.6 1340.7,861 1341.4,861.4 1342.1,861.6 1342.8,861.7 1343.5,861.8" fill="none" stroke="#7e8a1c" stroke-width="2.8" stroke-linejoin="round"/>
<polyline points="1332.7,861.9 1333.4,861.8 1334.1,861.7 1334.8,861.4 1335.5,860.9 1336.2,860.2 1336.9,859.1 1337.6,857.6 1338.3,855.5 1339,852.9 1339.7,849.8 1340.4,846.3 1341.1,842.5 1341.8,838.9 1342.5,835.8 1343.2,833.4 1343.9,832.2 1344.6,832.1 1345.3,833.4 1346,835.7 1346.7,838.8 1347.4,842.4 1348.1,846.1 1348.8,849.7 1349.5,852.9 1350.2,855.5 1350.9,857.5 1351.6,859.1 1352.3,860.2 1353,860.9 1353.7,861.4 1354.4,861.6 1355.1,861.8 1355.8,861.9" fill="none" stroke="#3f8a8a" stroke-width="2.8" stroke-linejoin="round"/>
<rect x="1135.5" y="634.2" width="346.2" height="282.9" fill="none" stroke="#000" stroke-width="2.2"/>
<line x1="1135.5" y1="917.1" x2="1135.5" y2="926.6" stroke="#000" stroke-width="2.2"/>
<text x="1135.5" y="950.3" font-size="20.5" text-anchor="middle" fill="#000">520</text>
<line x1="1204.1" y1="917.1" x2="1204.1" y2="926.6" stroke="#000" stroke-width="2.2"/>
<text x="1204.1" y="950.3" font-size="20.5" text-anchor="middle" fill="#000">525</text>
<line x1="1273.9" y1="917.1" x2="1273.9" y2="926.6" stroke="#000" stroke-width="2.2"/>
<text x="1273.9" y="950.3" font-size="20.5" text-anchor="middle" fill="#000">530</text>
<line x1="1342.9" y1="917.1" x2="1342.9" y2="926.6" stroke="#000" stroke-width="2.2"/>
<text x="1342.9" y="950.3" font-size="20.5" text-anchor="middle" fill="#000">535</text>
<line x1="1412.1" y1="917.1" x2="1412.1" y2="926.6" stroke="#000" stroke-width="2.2"/>
<text x="1412.1" y="950.3" font-size="20.5" text-anchor="middle" fill="#000">540</text>
<line x1="1481.7" y1="917.1" x2="1481.7" y2="926.6" stroke="#000" stroke-width="2.2"/>
<text x="1481.7" y="950.3" font-size="20.5" text-anchor="middle" fill="#000">545</text>
<text x="1301" y="977" font-size="30.2" text-anchor="middle" fill="#000">Binding energy (eV)</text>
<text transform="translate(1118 789.5) rotate(-90)" font-size="28.7" text-anchor="middle" fill="#000">Intensity (a.u.)</text>
<text x="1108.5" y="624.7" font-size="35" font-weight="bold" fill="#000">g</text>
<text x="1227" y="734" font-size="21" text-anchor="middle" fill="#000">O=C</text>
<text x="1383.3" y="652.4" font-size="21" text-anchor="middle" fill="#000">O-C-C</text>
<text x="1411.7" y="718.3" font-size="21" text-anchor="middle" fill="#000">O-C=C</text>
<text x="1415" y="787.9" font-size="21" text-anchor="middle" fill="#000">H2O</text>
<text x="1418" y="902.2" font-size="21" text-anchor="middle" fill="#000">Background</text>
<line x1="1239.3" y1="742.8" x2="1273" y2="777.7" stroke="#000" stroke-width="3.6"/><polygon points="1284.8,789.9 1265.8,781.8 1277.4,770.7" fill="#000"/>
<line x1="1344.3" y1="652.4" x2="1326.3" y2="678.1" stroke="#000" stroke-width="3.6"/><polygon points="1316.6,692 1320.9,671.8 1334,681" fill="#000"/>
<line x1="1381.8" y1="723.6" x2="1342.9" y2="788.9" stroke="#000" stroke-width="3.6"/><polygon points="1334.2,803.5 1337.1,783.1 1350.8,791.3" fill="#000"/>
<line x1="1397.7" y1="794.8" x2="1364" y2="818.8" stroke="#000" stroke-width="3.6"/><polygon points="1350.2,828.7 1361,811.2 1370.3,824.2" fill="#000"/>
<path d="M1572.5 860.5a4.5 4.5 0 1 0 9.0 0a4.5 4.5 0 1 0 -9.0 0M1573.6 861a4.5 4.5 0 1 0 9.0 0a4.5 4.5 0 1 0 -9.0 0M1574.7 871.3a4.5 4.5 0 1 0 9.0 0a4.5 4.5 0 1 0 -9.0 0M1575.8 855.3a4.5 4.5 0 1 0 9.0 0a4.5 4.5 0 1 0 -9.0 0M1576.9 867.4a4.5 4.5 0 1 0 9.0 0a4.5 4.5 0 1 0 -9.0 0M1578 856a4.5 4.5 0 1 0 9.0 0a4.5 4.5 0 1 0 -9.0 0M1579.1 874.7a4.5 4.5 0 1 0 9.0 0a4.5 4.5 0 1 0 -9.0 0M1580.2 869.9a4.5 4.5 0 1 0 9.0 0a4.5 4.5 0 1 0 -9.0 0M1581.3 876.4a4.5 4.5 0 1 0 9.0 0a4.5 4.5 0 1 0 -9.0 0M1582.4 866.2a4.5 4.5 0 1 0 9.0 0a4.5 4.5 0 1 0 -9.0 0M1583.5 871.2a4.5 4.5 0 1 0 9.0 0a4.5 4.5 0 1 0 -9.0 0M1584.6 867.4a4.5 4.5 0 1 0 9.0 0a4.5 4.5 0 1 0 -9.0 0M1585.7 864.8a4.5 4.5 0 1 0 9.0 0a4.5 4.5 0 1 0 -9.0 0M1586.8 869.6a4.5 4.5 0 1 0 9.0 0a4.5 4.5 0 1 0 -9.0 0M1587.9 861.7a4.5 4.5 0 1 0 9.0 0a4.5 4.5 0 1 0 -9.0 0M1589 866.5a4.5 4.5 0 1 0 9.0 0a4.5 4.5 0 1 0 -9.0 0M1590.1 872a4.5 4.5 0 1 0 9.0 0a4.5 4.5 0 1 0 -9.0 0M1591.2 868.2a4.5 4.5 0 1 0 9.0 0a4.5 4.5 0 1 0 -9.0 0M1592.3 865.4a4.5 4.5 0 1 0 9.0 0a4.5 4.5 0 1 0 -9.0 0M1593.4 879.4a4.5 4.5 0 1 0 9.0 0a4.5 4.5 0 1 0 -9.0 0M1594.5 867.3a4.5 4.5 0 1 0 9.0 0a4.5 4.5 0 1 0 -9.0 0M1595.6 863.5a4.5 4.5 0 1 0 9.0 0a4.5 4.5 0 1 0 -9.0 0M1596.7 867.3a4.5 4.5 0 1 0 9.0 0a4.5 4.5 0 1 0 -9.0 0M1597.8 863.2a4.5 4.5 0 1 0 9.0 0a4.5 4.5 0 1 0 -9.0 0M1598.9 863.7a4.5 4.5 0 1 0 9.0 0a4.5 4.5 0 1 0 -9.0 0M1600 863.7a4.5 4.5 0 1 0 9.0 0a4.5 4.5 0 1 0 -9.0 0M1601.1 876.5a4.5 4.5 0 1 0 9.0 0a4.5 4.5 0 1 0 -9.0 0M1602.2 865.3a4.5 4.5 0 1 0 9.0 0a4.5 4.5 0 1 0 -9.0 0M1603.3 866.1a4.5 4.5 0 1 0 9.0 0a4.5 4.5 0 1 0 -9.0 0M1604.4 868.7a4.5 4.5 0 1 0 9.0 0a4.5 4.5 0 1 0 -9.0 0M1605.5 876.1a4.5 4.5 0 1 0 9.0 0a4.5 4.5 0 1 0 -9.0 0M1606.6 863.8a4.5 4.5 0 1 0 9.0 0a4.5 4.5 0 1 0 -9.0 0M1607.7 861.7a4.5 4.5 0 1 0 9.0 0a4.5 4.5 0 1 0 -9.0 0M1608.8 878.8a4.5 4.5 0 1 0 9.0 0a4.5 4.5 0 1 0 -9.0 0M1609.9 857.4a4.5 4.5 0 1 0 9.0 0a4.5 4.5 0 1 0 -9.0 0M1611 863.6a4.5 4.5 0 1 0 9.0 0a4.5 4.5 0 1 0 -9.0 0M1612.1 869.5a4.5 4.5 0 1 0 9.0 0a4.5 4.5 0 1 0 -9.0 0M1613.2 878.7a4.5 4.5 0 1 0 9.0 0a4.5 4.5 0 1 0 -9.0 0M1614.3 861.2a4.5 4.5 0 1 0 9.0 0a4.5 4.5 0 1 0 -9.0 0M1615.4 854a4.5 4.5 0 1 0 9.0 0a4.5 4.5 0 1 0 -9.0 0M1616.5 870.6a4.5 4.5 0 1 0 9.0 0a4.5 4.5 0 1 0 -9.0 0M1617.6 864.4a4.5 4.5 0 1 0 9.0 0a4.5 4.5 0 1 0 -9.0 0M1618.7 865.5a4.5 4.5 0 1 0 9.0 0a4.5 4.5 0 1 0 -9.0 0M1619.8 870.5a4.5 4.5 0 1 0 9.0 0a4.5 4.5 0 1 0 -9.0 0M1620.9 869.4a4.5 4.5 0 1 0 9.0 0a4.5 4.5 0 1 0 -9.0 0M1622 870a4.5 4.5 0 1 0 9.0 0a4.5 4.5 0 1 0 -9.0 0M1623.1 866.3a4.5 4.5 0 1 0 9.0 0a4.5 4.5 0 1 0 -9.0 0M1624.2 875.9a4.5 4.5 0 1 0 9.0 0a4.5 4.5 0 1 0 -9.0 0M1625.3 877.2a4.5 4.5 0 1 0 9.0 0a4.5 4.5 0 1 0 -9.0 0M1626.4 869.2a4.5 4.5 0 1 0 9.0 0a4.5 4.5 0 1 0 -9.0 0M1627.5 866.5a4.5 4.5 0 1 0 9.0 0a4.5 4.5 0 1 0 -9.0 0M1628.6 875.4a4.5 4.5 0 1 0 9.0 0a4.5 4.5 0 1 0 -9.0 0M1629.5 874.6a4.5 4.5 0 1 0 9.0 0a4.5 4.5 0 1 0 -9.0 0M1630.4 870.1a4.5 4.5 0 1 0 9.0 0a4.5 4.5 0 1 0 -9.0 0M1631.4 871.5a4.5 4.5 0 1 0 9.0 0a4.5 4.5 0 1 0 -9.0 0M1632.3 875.3a4.5 4.5 0 1 0 9.0 0a4.5 4.5 0 1 0 -9.0 0M1633.2 871.6a4.5 4.5 0 1 0 9.0 0a4.5 4.5 0 1 0 -9.0 0M1634.1 870.4a4.5 4.5 0 1 0 9.0 0a4.5 4.5 0 1 0 -9.0 0M1635 871a4.5 4.5 0 1 0 9.0 0a4.5 4.5 0 1 0 -9.0 0M1636 869.3a4.5 4.5 0 1 0 9.0 0a4.5 4.5 0 1 0 -9.0 0M1636.9 868a4.5 4.5 0 1 0 9.0 0a4.5 4.5 0 1 0 -9.0 0M1637.8 860.9a4.5 4.5 0 1 0 9.0 0a4.5 4.5 0 1 0 -9.0 0M1638.7 869.1a4.5 4.5 0 1 0 9.0 0a4.5 4.5 0 1 0 -9.0 0M1639.6 862.1a4.5 4.5 0 1 0 9.0 0a4.5 4.5 0 1 0 -9.0 0M1640.6 855.9a4.5 4.5 0 1 0 9.0 0a4.5 4.5 0 1 0 -9.0 0M1641.5 857.2a4.5 4.5 0 1 0 9.0 0a4.5 4.5 0 1 0 -9.0 0M1642.4 850.7a4.5 4.5 0 1 0 9.0 0a4.5 4.5 0 1 0 -9.0 0M1643.3 844.5a4.5 4.5 0 1 0 9.0 0a4.5 4.5 0 1 0 -9.0 0M1644.2 841a4.5 4.5 0 1 0 9.0 0a4.5 4.5 0 1 0 -9.0 0M1645.2 837.2a4.5 4.5 0 1 0 9.0 0a4.5 4.5 0 1 0 -9.0 0M1646.1 824.3a4.5 4.5 0 1 0 9.0 0a4.5 4.5 0 1 0 -9.0 0M1647 818.1a4.5 4.5 0 1 0 9.0 0a4.5 4.5 0 1 0 -9.0 0M1647.9 809.8a4.5 4.5 0 1 0 9.0 0a4.5 4.5 0 1 0 -9.0 0M1648.8 790.2a4.5 4.5 0 1 0 9.0 0a4.5 4.5 0 1 0 -9.0 0M1649.8 780.2a4.5 4.5 0 1 0 9.0 0a4.5 4.5 0 1 0 -9.0 0M1650.7 771.9a4.5 4.5 0 1 0 9.0 0a4.5 4.5 0 1 0 -9.0 0M1651.6 752.6a4.5 4.5 0 1 0 9.0 0a4.5 4.5 0 1 0 -9.0 0M1652.5 744a4.5 4.5 0 1 0 9.0 0a4.5 4.5 0 1 0 -9.0 0M1653.4 735.6a4.5 4.5 0 1 0 9.0 0a4.5 4.5 0 1 0 -9.0 0M1654.4 722.1a4.5 4.5 0 1 0 9.0 0a4.5 4.5 0 1 0 -9.0 0M1655.3 708.1a4.5 4.5 0 1 0 9.0 0a4.5 4.5 0 1 0 -9.0 0M1656.2 688.9a4.5 4.5 0 1 0 9.0 0a4.5 4.5 0 1 0 -9.0 0M1657.1 689.3a4.5 4.5 0 1 0 9.0 0a4.5 4.5 0 1 0 -9.0 0M1658 674.5a4.5 4.5 0 1 0 9.0 0a4.5 4.5 0 1 0 -9.0 0M1659 667.8a4.5 4.5 0 1 0 9.0 0a4.5 4.5 0 1 0 -9.0 0M1659.9 663.1a4.5 4.5 0 1 0 9.0 0a4.5 4.5 0 1 0 -9.0 0M1660.8 656.5a4.5 4.5 0 1 0 9.0 0a4.5 4.5 0 1 0 -9.0 0M1661.7 660.5a4.5 4.5 0 1 0 9.0 0a4.5 4.5 0 1 0 -9.0 0M1662.6 667.3a4.5 4.5 0 1 0 9.0 0a4.5 4.5 0 1 0 -9.0 0M1663.6 684.5a4.5 4.5 0 1 0 9.0 0a4.5 4.5 0 1 0 -9.0 0M1664.5 686.6a4.5 4.5 0 1 0 9.0 0a4.5 4.5 0 1 0 -9.0 0M1665.4 698.9a4.5 4.5 0 1 0 9.0 0a4.5 4.5 0 1 0 -9.0 0M1666.3 710a4.5 4.5 0 1 0 9.0 0a4.5 4.5 0 1 0 -9.0 0M1667.2 723.6a4.5 4.5 0 1 0 9.0 0a4.5 4.5 0 1 0 -9.0 0M1668.2 734.8a4.5 4.5 0 1 0 9.0 0a4.5 4.5 0 1 0 -9.0 0M1669.1 745.6a4.5 4.5 0 1 0 9.0 0a4.5 4.5 0 1 0 -9.0 0M1670 752.5a4.5 4.5 0 1 0 9.0 0a4.5 4.5 0 1 0 -9.0 0M1670.9 758a4.5 4.5 0 1 0 9.0 0a4.5 4.5 0 1 0 -9.0 0M1671.8 777.5a4.5 4.5 0 1 0 9.0 0a4.5 4.5 0 1 0 -9.0 0M1672.8 787.2a4.5 4.5 0 1 0 9.0 0a4.5 4.5 0 1 0 -9.0 0M1673.7 798.3a4.5 4.5 0 1 0 9.0 0a4.5 4.5 0 1 0 -9.0 0M1674.6 801.8a4.5 4.5 0 1 0 9.0 0a4.5 4.5 0 1 0 -9.0 0M1675.5 806.5a4.5 4.5 0 1 0 9.0 0a4.5 4.5 0 1 0 -9.0 0M1676.4 814.1a4.5 4.5 0 1 0 9.0 0a4.5 4.5 0 1 0 -9.0 0M1677.4 812a4.5 4.5 0 1 0 9.0 0a4.5 4.5 0 1 0 -9.0 0M1678.3 815.5a4.5 4.5 0 1 0 9.0 0a4.5 4.5 0 1 0 -9.0 0M1679.2 816.5a4.5 4.5 0 1 0 9.0 0a4.5 4.5 0 1 0 -9.0 0M1680.1 819.8a4.5 4.5 0 1 0 9.0 0a4.5 4.5 0 1 0 -9.0 0M1681 823.5a4.5 4.5 0 1 0 9.0 0a4.5 4.5 0 1 0 -9.0 0M1682 817.5a4.5 4.5 0 1 0 9.0 0a4.5 4.5 0 1 0 -9.0 0M1682.9 815.5a4.5 4.5 0 1 0 9.0 0a4.5 4.5 0 1 0 -9.0 0M1683.8 809.4a4.5 4.5 0 1 0 9.0 0a4.5 4.5 0 1 0 -9.0 0M1684.7 805.7a4.5 4.5 0 1 0 9.0 0a4.5 4.5 0 1 0 -9.0 0M1685.6 799.7a4.5 4.5 0 1 0 9.0 0a4.5 4.5 0 1 0 -9.0 0M1686.6 796.3a4.5 4.5 0 1 0 9.0 0a4.5 4.5 0 1 0 -9.0 0M1687.5 786.8a4.5 4.5 0 1 0 9.0 0a4.5 4.5 0 1 0 -9.0 0M1688.4 787.2a4.5 4.5 0 1 0 9.0 0a4.5 4.5 0 1 0 -9.0 0M1689.3 784.7a4.5 4.5 0 1 0 9.0 0a4.5 4.5 0 1 0 -9.0 0M1690.2 789.2a4.5 4.5 0 1 0 9.0 0a4.5 4.5 0 1 0 -9.0 0M1691.2 788.2a4.5 4.5 0 1 0 9.0 0a4.5 4.5 0 1 0 -9.0 0M1692.1 789.9a4.5 4.5 0 1 0 9.0 0a4.5 4.5 0 1 0 -9.0 0M1693 792.3a4.5 4.5 0 1 0 9.0 0a4.5 4.5 0 1 0 -9.0 0M1693.9 789.1a4.5 4.5 0 1 0 9.0 0a4.5 4.5 0 1 0 -9.0 0M1694.8 795.6a4.5 4.5 0 1 0 9.0 0a4.5 4.5 0 1 0 -9.0 0M1695.8 801.4a4.5 4.5 0 1 0 9.0 0a4.5 4.5 0 1 0 -9.0 0M1696.7 799.4a4.5 4.5 0 1 0 9.0 0a4.5 4.5 0 1 0 -9.0 0M1697.6 806.2a4.5 4.5 0 1 0 9.0 0a4.5 4.5 0 1 0 -9.0 0M1698.5 806.4a4.5 4.5 0 1 0 9.0 0a4.5 4.5 0 1 0 -9.0 0M1699.4 805.9a4.5 4.5 0 1 0 9.0 0a4.5 4.5 0 1 0 -9.0 0M1700.4 814.1a4.5 4.5 0 1 0 9.0 0a4.5 4.5 0 1 0 -9.0 0M1701.3 814.5a4.5 4.5 0 1 0 9.0 0a4.5 4.5 0 1 0 -9.0 0M1702.2 819.8a4.5 4.5 0 1 0 9.0 0a4.5 4.5 0 1 0 -9.0 0M1703.1 820.6a4.5 4.5 0 1 0 9.0 0a4.5 4.5 0 1 0 -9.0 0M1704 825a4.5 4.5 0 1 0 9.0 0a4.5 4.5 0 1 0 -9.0 0M1705 820.1a4.5 4.5 0 1 0 9.0 0a4.5 4.5 0 1 0 -9.0 0M1705.9 833.8a4.5 4.5 0 1 0 9.0 0a4.5 4.5 0 1 0 -9.0 0M1706.8 833.7a4.5 4.5 0 1 0 9.0 0a4.5 4.5 0 1 0 -9.0 0M1707.7 830.7a4.5 4.5 0 1 0 9.0 0a4.5 4.5 0 1 0 -9.0 0M1708.6 831a4.5 4.5 0 1 0 9.0 0a4.5 4.5 0 1 0 -9.0 0M1709.6 835.3a4.5 4.5 0 1 0 9.0 0a4.5 4.5 0 1 0 -9.0 0M1710.5 838.9a4.5 4.5 0 1 0 9.0 0a4.5 4.5 0 1 0 -9.0 0M1711.4 839.6a4.5 4.5 0 1 0 9.0 0a4.5 4.5 0 1 0 -9.0 0M1712.3 840.8a4.5 4.5 0 1 0 9.0 0a4.5 4.5 0 1 0 -9.0 0M1713.2 835.2a4.5 4.5 0 1 0 9.0 0a4.5 4.5 0 1 0 -9.0 0M1714.2 838.3a4.5 4.5 0 1 0 9.0 0a4.5 4.5 0 1 0 -9.0 0M1715.1 845.7a4.5 4.5 0 1 0 9.0 0a4.5 4.5 0 1 0 -9.0 0M1716 842.9a4.5 4.5 0 1 0 9.0 0a4.5 4.5 0 1 0 -9.0 0M1716.9 838.1a4.5 4.5 0 1 0 9.0 0a4.5 4.5 0 1 0 -9.0 0M1717.8 839.9a4.5 4.5 0 1 0 9.0 0a4.5 4.5 0 1 0 -9.0 0M1718.8 838.2a4.5 4.5 0 1 0 9.0 0a4.5 4.5 0 1 0 -9.0 0M1719.7 839.3a4.5 4.5 0 1 0 9.0 0a4.5 4.5 0 1 0 -9.0 0M1720.6 845.5a4.5 4.5 0 1 0 9.0 0a4.5 4.5 0 1 0 -9.0 0M1721.5 841.7a4.5 4.5 0 1 0 9.0 0a4.5 4.5 0 1 0 -9.0 0M1722.4 845.8a4.5 4.5 0 1 0 9.0 0a4.5 4.5 0 1 0 -9.0 0M1723.4 843.6a4.5 4.5 0 1 0 9.0 0a4.5 4.5 0 1 0 -9.0 0M1724.3 839.4a4.5 4.5 0 1 0 9.0 0a4.5 4.5 0 1 0 -9.0 0M1725.2 842.6a4.5 4.5 0 1 0 9.0 0a4.5 4.5 0 1 0 -9.0 0M1726.1 851.9a4.5 4.5 0 1 0 9.0 0a4.5 4.5 0 1 0 -9.0 0M1727 844.2a4.5 4.5 0 1 0 9.0 0a4.5 4.5 0 1 0 -9.0 0M1728 844.5a4.5 4.5 0 1 0 9.0 0a4.5 4.5 0 1 0 -9.0 0M1728.9 852a4.5 4.5 0 1 0 9.0 0a4.5 4.5 0 1 0 -9.0 0M1729.8 849.8a4.5 4.5 0 1 0 9.0 0a4.5 4.5 0 1 0 -9.0 0M1730.7 850.4a4.5 4.5 0 1 0 9.0 0a4.5 4.5 0 1 0 -9.0 0M1731.6 855.5a4.5 4.5 0 1 0 9.0 0a4.5 4.5 0 1 0 -9.0 0M1732.6 847a4.5 4.5 0 1 0 9.0 0a4.5 4.5 0 1 0 -9.0 0M1733.5 853.9a4.5 4.5 0 1 0 9.0 0a4.5 4.5 0 1 0 -9.0 0M1734.4 850.2a4.5 4.5 0 1 0 9.0 0a4.5 4.5 0 1 0 -9.0 0M1735.3 849.6a4.5 4.5 0 1 0 9.0 0a4.5 4.5 0 1 0 -9.0 0M1736.2 851.6a4.5 4.5 0 1 0 9.0 0a4.5 4.5 0 1 0 -9.0 0M1737.2 857.5a4.5 4.5 0 1 0 9.0 0a4.5 4.5 0 1 0 -9.0 0M1738.1 853.9a4.5 4.5 0 1 0 9.0 0a4.5 4.5 0 1 0 -9.0 0M1739 849.2a4.5 4.5 0 1 0 9.0 0a4.5 4.5 0 1 0 -9.0 0M1739.9 851.4a4.5 4.5 0 1 0 9.0 0a4.5 4.5 0 1 0 -9.0 0M1740.8 858.9a4.5 4.5 0 1 0 9.0 0a4.5 4.5 0 1 0 -9.0 0M1741.8 857.5a4.5 4.5 0 1 0 9.0 0a4.5 4.5 0 1 0 -9.0 0M1742.7 851.4a4.5 4.5 0 1 0 9.0 0a4.5 4.5 0 1 0 -9.0 0M1743.6 861.5a4.5 4.5 0 1 0 9.0 0a4.5 4.5 0 1 0 -9.0 0M1744.5 850.6a4.5 4.5 0 1 0 9.0 0a4.5 4.5 0 1 0 -9.0 0M1745.6 845.3a4.5 4.5 0 1 0 9.0 0a4.5 4.5 0 1 0 -9.0 0M1746.7 852.5a4.5 4.5 0 1 0 9.0 0a4.5 4.5 0 1 0 -9.0 0M1747.8 859.9a4.5 4.5 0 1 0 9.0 0a4.5 4.5 0 1 0 -9.0 0M1748.9 864.5a4.5 4.5 0 1 0 9.0 0a4.5 4.5 0 1 0 -9.0 0M1750 860.9a4.5 4.5 0 1 0 9.0 0a4.5 4.5 0 1 0 -9.0 0M1751.1 851.4a4.5 4.5 0 1 0 9.0 0a4.5 4.5 0 1 0 -9.0 0M1752.2 850.7a4.5 4.5 0 1 0 9.0 0a4.5 4.5 0 1 0 -9.0 0M1753.3 844.9a4.5 4.5 0 1 0 9.0 0a4.5 4.5 0 1 0 -9.0 0M1754.4 854.2a4.5 4.5 0 1 0 9.0 0a4.5 4.5 0 1 0 -9.0 0M1755.5 850.9a4.5 4.5 0 1 0 9.0 0a4.5 4.5 0 1 0 -9.0 0M1756.6 856.6a4.5 4.5 0 1 0 9.0 0a4.5 4.5 0 1 0 -9.0 0M1757.7 846.7a4.5 4.5 0 1 0 9.0 0a4.5 4.5 0 1 0 -9.0 0M1758.8 851.8a4.5 4.5 0 1 0 9.0 0a4.5 4.5 0 1 0 -9.0 0M1759.9 849.5a4.5 4.5 0 1 0 9.0 0a4.5 4.5 0 1 0 -9.0 0M1761 847.4a4.5 4.5 0 1 0 9.0 0a4.5 4.5 0 1 0 -9.0 0M1762.1 847.6a4.5 4.5 0 1 0 9.0 0a4.5 4.5 0 1 0 -9.0 0M1763.2 848.7a4.5 4.5 0 1 0 9.0 0a4.5 4.5 0 1 0 -9.0 0M1764.3 847.6a4.5 4.5 0 1 0 9.0 0a4.5 4.5 0 1 0 -9.0 0M1765.4 859.3a4.5 4.5 0 1 0 9.0 0a4.5 4.5 0 1 0 -9.0 0M1766.5 856.1a4.5 4.5 0 1 0 9.0 0a4.5 4.5 0 1 0 -9.0 0M1767.6 846.7a4.5 4.5 0 1 0 9.0 0a4.5 4.5 0 1 0 -9.0 0M1768.7 858.8a4.5 4.5 0 1 0 9.0 0a4.5 4.5 0 1 0 -9.0 0M1769.8 857.2a4.5 4.5 0 1 0 9.0 0a4.5 4.5 0 1 0 -9.0 0M1770.9 864.9a4.5 4.5 0 1 0 9.0 0a4.5 4.5 0 1 0 -9.0 0M1772 853.8a4.5 4.5 0 1 0 9.0 0a4.5 4.5 0 1 0 -9.0 0M1773.1 853.6a4.5 4.5 0 1 0 9.0 0a4.5 4.5 0 1 0 -9.0 0M1774.2 850.3a4.5 4.5 0 1 0 9.0 0a4.5 4.5 0 1 0 -9.0 0M1775.3 855.6a4.5 4.5 0 1 0 9.0 0a4.5 4.5 0 1 0 -9.0 0M1776.4 857.9a4.5 4.5 0 1 0 9.0 0a4.5 4.5 0 1 0 -9.0 0M1777.5 855.6a4.5 4.5 0 1 0 9.0 0a4.5 4.5 0 1 0 -9.0 0M1778.6 852.5a4.5 4.5 0 1 0 9.0 0a4.5 4.5 0 1 0 -9.0 0M1779.7 857.8a4.5 4.5 0 1 0 9.0 0a4.5 4.5 0 1 0 -9.0 0M1780.8 854.5a4.5 4.5 0 1 0 9.0 0a4.5 4.5 0 1 0 -9.0 0M1781.9 855.3a4.5 4.5 0 1 0 9.0 0a4.5 4.5 0 1 0 -9.0 0M1783 847.2a4.5 4.5 0 1 0 9.0 0a4.5 4.5 0 1 0 -9.0 0M1784.1 854.6a4.5 4.5 0 1 0 9.0 0a4.5 4.5 0 1 0 -9.0 0M1785.2 846.4a4.5 4.5 0 1 0 9.0 0a4.5 4.5 0 1 0 -9.0 0M1786.3 847.2a4.5 4.5 0 1 0 9.0 0a4.5 4.5 0 1 0 -9.0 0M1787.4 853.7a4.5 4.5 0 1 0 9.0 0a4.5 4.5 0 1 0 -9.0 0M1788.5 866.4a4.5 4.5 0 1 0 9.0 0a4.5 4.5 0 1 0 -9.0 0M1789.6 858.8a4.5 4.5 0 1 0 9.0 0a4.5 4.5 0 1 0 -9.0 0M1790.7 852a4.5 4.5 0 1 0 9.0 0a4.5 4.5 0 1 0 -9.0 0M1791.8 850.6a4.5 4.5 0 1 0 9.0 0a4.5 4.5 0 1 0 -9.0 0M1792.9 858.2a4.5 4.5 0 1 0 9.0 0a4.5 4.5 0 1 0 -9.0 0M1794 860.6a4.5 4.5 0 1 0 9.0 0a4.5 4.5 0 1 0 -9.0 0M1795.1 859.4a4.5 4.5 0 1 0 9.0 0a4.5 4.5 0 1 0 -9.0 0M1796.2 849.9a4.5 4.5 0 1 0 9.0 0a4.5 4.5 0 1 0 -9.0 0M1797.3 852.3a4.5 4.5 0 1 0 9.0 0a4.5 4.5 0 1 0 -9.0 0M1798.4 848.7a4.5 4.5 0 1 0 9.0 0a4.5 4.5 0 1 0 -9.0 0M1799.5 848.9a4.5 4.5 0 1 0 9.0 0a4.5 4.5 0 1 0 -9.0 0M1800.6 845a4.5 4.5 0 1 0 9.0 0a4.5 4.5 0 1 0 -9.0 0M1801.7 849a4.5 4.5 0 1 0 9.0 0a4.5 4.5 0 1 0 -9.0 0M1802.8 838a4.5 4.5 0 1 0 9.0 0a4.5 4.5 0 1 0 -9.0 0M1803.9 842.6a4.5 4.5 0 1 0 9.0 0a4.5 4.5 0 1 0 -9.0 0M1805 853.3a4.5 4.5 0 1 0 9.0 0a4.5 4.5 0 1 0 -9.0 0M1806.1 844.3a4.5 4.5 0 1 0 9.0 0a4.5 4.5 0 1 0 -9.0 0M1807.2 854.1a4.5 4.5 0 1 0 9.0 0a4.5 4.5 0 1 0 -9.0 0M1808.3 841.9a4.5 4.5 0 1 0 9.0 0a4.5 4.5 0 1 0 -9.0 0M1809.4 848.1a4.5 4.5 0 1 0 9.0 0a4.5 4.5 0 1 0 -9.0 0M1810.5 853.3a4.5 4.5 0 1 0 9.0 0a4.5 4.5 0 1 0 -9.0 0M1811.6 843.9a4.5 4.5 0 1 0 9.0 0a4.5 4.5 0 1 0 -9.0 0M1812.7 846.1a4.5 4.5 0 1 0 9.0 0a4.5 4.5 0 1 0 -9.0 0M1813.8 867.4a4.5 4.5 0 1 0 9.0 0a4.5 4.5 0 1 0 -9.0 0M1814.9 846.6a4.5 4.5 0 1 0 9.0 0a4.5 4.5 0 1 0 -9.0 0M1816 846.5a4.5 4.5 0 1 0 9.0 0a4.5 4.5 0 1 0 -9.0 0M1817.1 847.6a4.5 4.5 0 1 0 9.0 0a4.5 4.5 0 1 0 -9.0 0M1818.2 851.8a4.5 4.5 0 1 0 9.0 0a4.5 4.5 0 1 0 -9.0 0M1819.3 851.6a4.5 4.5 0 1 0 9.0 0a4.5 4.5 0 1 0 -9.0 0M1820.4 858.5a4.5 4.5 0 1 0 9.0 0a4.5 4.5 0 1 0 -9.0 0M1821.5 857.4a4.5 4.5 0 1 0 9.0 0a4.5 4.5 0 1 0 -9.0 0M1822.6 849.6a4.5 4.5 0 1 0 9.0 0a4.5 4.5 0 1 0 -9.0 0M1823.7 850.2a4.5 4.5 0 1 0 9.0 0a4.5 4.5 0 1 0 -9.0 0M1824.8 843.3a4.5 4.5 0 1 0 9.0 0a4.5 4.5 0 1 0 -9.0 0M1825.9 843a4.5 4.5 0 1 0 9.0 0a4.5 4.5 0 1 0 -9.0 0M1827 848.2a4.5 4.5 0 1 0 9.0 0a4.5 4.5 0 1 0 -9.0 0M1828.1 858.2a4.5 4.5 0 1 0 9.0 0a4.5 4.5 0 1 0 -9.0 0M1829.2 854.4a4.5 4.5 0 1 0 9.0 0a4.5 4.5 0 1 0 -9.0 0M1830.3 859.1a4.5 4.5 0 1 0 9.0 0a4.5 4.5 0 1 0 -9.0 0M1831.4 860.2a4.5 4.5 0 1 0 9.0 0a4.5 4.5 0 1 0 -9.0 0M1832.5 853.1a4.5 4.5 0 1 0 9.0 0a4.5 4.5 0 1 0 -9.0 0M1833.6 868.3a4.5 4.5 0 1 0 9.0 0a4.5 4.5 0 1 0 -9.0 0M1834.7 851a4.5 4.5 0 1 0 9.0 0a4.5 4.5 0 1 0 -9.0 0M1835.8 850.5a4.5 4.5 0 1 0 9.0 0a4.5 4.5 0 1 0 -9.0 0M1836.9 852a4.5 4.5 0 1 0 9.0 0a4.5 4.5 0 1 0 -9.0 0M1838 862.5a4.5 4.5 0 1 0 9.0 0a4.5 4.5 0 1 0 -9.0 0M1839.1 854.2a4.5 4.5 0 1 0 9.0 0a4.5 4.5 0 1 0 -9.0 0M1840.2 850.3a4.5 4.5 0 1 0 9.0 0a4.5 4.5 0 1 0 -9.0 0M1841.3 858.2a4.5 4.5 0 1 0 9.0 0a4.5 4.5 0 1 0 -9.0 0M1842.4 862.9a4.5 4.5 0 1 0 9.0 0a4.5 4.5 0 1 0 -9.0 0M1843.5 854.7a4.5 4.5 0 1 0 9.0 0a4.5 4.5 0 1 0 -9.0 0M1844.6 853.8a4.5 4.5 0 1 0 9.0 0a4.5 4.5 0 1 0 -9.0 0M1845.7 862.7a4.5 4.5 0 1 0 9.0 0a4.5 4.5 0 1 0 -9.0 0M1846.8 862a4.5 4.5 0 1 0 9.0 0a4.5 4.5 0 1 0 -9.0 0M1847.9 861.8a4.5 4.5 0 1 0 9.0 0a4.5 4.5 0 1 0 -9.0 0M1849 850.4a4.5 4.5 0 1 0 9.0 0a4.5 4.5 0 1 0 -9.0 0M1850.1 857.3a4.5 4.5 0 1 0 9.0 0a4.5 4.5 0 1 0 -9.0 0M1851.2 857.8a4.5 4.5 0 1 0 9.0 0a4.5 4.5 0 1 0 -9.0 0M1660.1 658.3a4.5 4.5 0 1 0 9.0 0a4.5 4.5 0 1 0 -9.0 0M1659.3 669a4.5 4.5 0 1 0 9.0 0a4.5 4.5 0 1 0 -9.0 0" fill="#fff" stroke="#000" stroke-width="2.4"/>
<polyline points="1577,860.5 1578.1,861 1579.2,871.3 1580.3,855.3 1581.4,867.4 1582.5,856 1583.6,874.7 1584.7,869.9 1585.8,876.4 1586.9,866.2 1588,871.2 1589.1,867.4 1590.2,864.8 1591.3,869.6 1592.4,861.7 1593.5,866.5 1594.6,872 1595.7,868.2 1596.8,865.4 1597.9,879.4 1599,867.3 1600.1,863.5 1601.2,867.3 1602.3,863.2 1603.4,863.7 1604.5,863.7 1605.6,876.5 1606.7,865.3 1607.8,866.1 1608.9,868.7 1610,876.1 1611.1,863.8 1612.2,861.7 1613.3,878.8 1614.4,857.4 1615.5,863.6 1616.6,869.5 1617.7,878.7 1618.8,861.2 1619.9,854 1621,870.6 1622.1,864.4 1623.2,865.5 1624.3,870.5 1625.4,869.4 1626.5,870 1627.6,866.3 1628.7,875.9 1629.8,877.2 1630.9,869.2 1632,866.5" fill="none" stroke="#808080" stroke-width="3.4" stroke-linejoin="round"/>
<polyline points="1749,850.6 1750.1,845.3 1751.2,852.5 1752.3,859.9 1753.4,864.5 1754.5,860.9 1755.6,851.4 1756.7,850.7 1757.8,844.9 1758.9,854.2 1760,850.9 1761.1,856.6 1762.2,846.7 1763.3,851.8 1764.4,849.5 1765.5,847.4 1766.6,847.6 1767.7,848.7 1768.8,847.6 1769.9,859.3 1771,856.1 1772.1,846.7 1773.2,858.8 1774.3,857.2 1775.4,864.9 1776.5,853.8 1777.6,853.6 1778.7,850.3 1779.8,855.6 1780.9,857.9 1782,855.6 1783.1,852.5 1784.2,857.8 1785.3,854.5 1786.4,855.3 1787.5,847.2 1788.6,854.6 1789.7,846.4 1790.8,847.2 1791.9,853.7 1793,866.4 1794.1,858.8 1795.2,852 1796.3,850.6 1797.4,858.2 1798.5,860.6 1799.6,859.4 1800.7,849.9 1801.8,852.3 1802.9,848.7 1804,848.9 1805.1,845 1806.2,849 1807.3,838 1808.4,842.6 1809.5,853.3 1810.6,844.3 1811.7,854.1 1812.8,841.9 1813.9,848.1 1815,853.3 1816.1,843.9 1817.2,846.1 1818.3,867.4 1819.4,846.6 1820.5,846.5 1821.6,847.6 1822.7,851.8 1823.8,851.6 1824.9,858.5 1826,857.4 1827.1,849.6 1828.2,850.2 1829.3,843.3 1830.4,843 1831.5,848.2 1832.6,858.2 1833.7,854.4 1834.8,859.1 1835.9,860.2 1837,853.1 1838.1,868.3 1839.2,851 1840.3,850.5 1841.4,852 1842.5,862.5 1843.6,854.2 1844.7,850.3 1845.8,858.2 1846.9,862.9 1848,854.7 1849.1,853.8 1850.2,862.7 1851.3,862 1852.4,861.8 1853.5,850.4 1854.6,857.3 1855.7,857.8" fill="none" stroke="#808080" stroke-width="3.4" stroke-linejoin="round"/>
<polyline points="1632,873.7 1634,873.6 1636,873.5 1638,873.4 1640,873.3 1642,873.1 1644,872.9 1646,872.6 1648,872.3 1650,872 1652,871.5 1654,871 1656,870.5 1658,869.8 1660,869 1662,868.2 1664,867.4 1666,866.4 1668,865.5 1670,864.6 1672,863.6 1674,862.8 1676,862 1678,861.2 1680,860.5 1682,860 1684,859.5 1686,859 1688,858.7 1690,858.4 1692,858 1694,857.7 1696,857.5 1698,857.3 1700,857.1 1702,856.9 1704,856.7 1706,856.6 1708,856.4 1710,856.3 1712,856.2 1714,856.1 1716,856 1718,855.9 1720,855.8 1722,855.7 1724,855.6 1726,855.5 1728,855.4 1730,855.4 1732,855.3 1734,855.2 1736,855.1 1738,855 1740,854.9 1742,854.8 1744,854.8 1746,854.7 1748,854.6 1750,854.5" fill="none" stroke="#808080" stroke-width="2.6" stroke-linejoin="round"/>
<polyline points="1636.8,872.4 1637.5,872 1638.2,871.6 1638.9,871 1639.6,870.3 1640.3,869.5 1641,868.6 1641.7,867.4 1642.4,866 1643.1,864.4 1643.8,862.5 1644.5,860.2 1645.2,857.6 1645.9,854.6 1646.6,851.2 1647.3,847.3 1648,843 1648.7,838.1 1649.4,832.7 1650.1,826.8 1650.8,820.3 1651.5,813.3 1652.2,805.8 1652.9,797.8 1653.6,789.4 1654.3,780.7 1655,771.7 1655.7,762.5 1656.4,753.2 1657.1,743.9 1657.8,734.8 1658.5,726 1659.2,717.6 1659.9,709.7 1660.6,702.5 1661.3,696.1 1662,690.6 1662.7,686 1663.4,682.5 1664.1,680.2 1664.8,679 1665.5,679 1666.2,680.2 1666.9,682.5 1667.6,685.9 1668.3,690.4 1669,695.8 1669.7,702.1 1670.4,709.1 1671.1,716.6 1671.8,724.7 1672.5,733.2 1673.2,741.8 1673.9,750.6 1674.6,759.3 1675.3,767.9 1676,776.4 1676.7,784.5 1677.4,792.2 1678.1,799.5 1678.8,806.3 1679.5,812.7 1680.2,818.5 1680.9,823.8 1681.6,828.6 1682.3,832.9 1683,836.7 1683.7,840 1684.4,843 1685.1,845.5 1685.8,847.7 1686.5,849.5 1687.2,851.1 1687.9,852.4 1688.6,853.5 1689.3,854.4 1690,855.1 1690.7,855.6 1691.4,856.1 1692.1,856.4 1692.8,856.6" fill="none" stroke="#7d1416" stroke-width="2.8" stroke-linejoin="round"/>
<polyline points="1671.3,863.5 1672,863.1 1672.7,862.6 1673.4,862.1 1674.1,861.5 1674.8,860.8 1675.5,860.1 1676.2,859.2 1676.9,858.2 1677.6,857.1 1678.3,855.9 1679,854.5 1679.7,852.8 1680.4,851 1681.1,848.9 1681.8,846.6 1682.5,844.1 1683.2,841.2 1683.9,838.2 1684.6,834.9 1685.3,831.3 1686,827.6 1686.7,823.7 1687.4,819.8 1688.1,815.7 1688.8,811.7 1689.5,807.8 1690.2,804 1690.9,800.5 1691.6,797.2 1692.3,794.3 1693,791.9 1693.7,790 1694.4,788.6 1695.1,787.8 1695.8,787.5 1696.5,787.9 1697.2,788.8 1697.9,790.3 1698.6,792.4 1699.3,794.9 1700,797.8 1700.7,801 1701.4,804.5 1702.1,808.2 1702.8,812 1703.5,815.9 1704.2,819.7 1704.9,823.4 1705.6,827.1 1706.3,830.5 1707,833.7 1707.7,836.7 1708.4,839.4 1709.1,841.9 1709.8,844.1 1710.5,846 1711.2,847.7 1711.9,849.2 1712.6,850.4 1713.3,851.5 1714,852.3 1714.7,853.1 1715.4,853.7 1716.1,854.1 1716.8,854.5 1717.5,854.8 1718.2,855 1718.9,855.2 1719.6,855.3" fill="none" stroke="#1f8a8a" stroke-width="2.8" stroke-linejoin="round"/>
<polyline points="1694.5,857.6 1695.2,857.5 1695.9,857.3 1696.6,857.2 1697.3,857 1698,856.8 1698.7,856.5 1699.4,856.2 1700.1,855.8 1700.8,855.3 1701.5,854.7 1702.2,854.1 1702.9,853.3 1703.6,852.5 1704.3,851.6 1705,850.6 1705.7,849.7 1706.4,848.7 1707.1,847.8 1707.8,847 1708.5,846.3 1709.2,845.7 1709.9,845.4 1710.6,845.3 1711.3,845.4 1712,845.7 1712.7,846.2 1713.4,846.8 1714.1,847.6 1714.8,848.5 1715.5,849.4 1716.2,850.2 1716.9,851.1 1717.6,851.9 1718.3,852.6 1719,853.3 1719.7,853.8 1720.4,854.2 1721.1,854.6 1721.8,854.9 1722.5,855.1 1723.2,855.2 1723.9,855.3 1724.6,855.4 1725.3,855.4 1726,855.4" fill="none" stroke="#f08a1e" stroke-width="3.2" stroke-linejoin="round"/>
<polyline points="1708.2,856.4 1708.9,856.3 1709.6,856.2 1710.3,856.2 1711,856.1 1711.7,855.9 1712.4,855.8 1713.1,855.6 1713.8,855.4 1714.5,855.2 1715.2,854.9 1715.9,854.6 1716.6,854.2 1717.3,853.8 1718,853.3 1718.7,852.7 1719.4,852.1 1720.1,851.5 1720.8,850.9 1721.5,850.2 1722.2,849.5 1722.9,848.9 1723.6,848.3 1724.3,847.7 1725,847.3 1725.7,846.9 1726.4,846.6 1727.1,846.5 1727.8,846.5 1728.5,846.6 1729.2,846.8 1729.9,847.1 1730.6,847.5 1731.3,848 1732,848.6 1732.7,849.1 1733.4,849.7 1734.1,850.3 1734.8,850.9 1735.5,851.5 1736.2,852 1736.9,852.5 1737.6,852.9 1738.3,853.3 1739,853.6 1739.7,853.8 1740.4,854 1741.1,854.2 1741.8,854.3 1742.5,854.4 1743.2,854.5 1743.9,854.6 1744.6,854.6 1745.3,854.6 1746,854.6" fill="none" stroke="#6a1fd0" stroke-width="3.2" stroke-linejoin="round"/>
<rect x="1535.5" y="632.2" width="341.8" height="278.9" fill="none" stroke="#000" stroke-width="2.2"/>
<line x1="1535.5" y1="911.1" x2="1535.5" y2="921" stroke="#000" stroke-width="2.2"/>
<text x="1535.5" y="944" font-size="20.5" text-anchor="middle" fill="#000">275</text>
<line x1="1603.3" y1="911.1" x2="1603.3" y2="921" stroke="#000" stroke-width="2.2"/>
<text x="1603.3" y="944" font-size="20.5" text-anchor="middle" fill="#000">280</text>
<line x1="1672.3" y1="911.1" x2="1672.3" y2="921" stroke="#000" stroke-width="2.2"/>
<text x="1672.3" y="944" font-size="20.5" text-anchor="middle" fill="#000">285</text>
<line x1="1740.2" y1="911.1" x2="1740.2" y2="921" stroke="#000" stroke-width="2.2"/>
<text x="1740.2" y="944" font-size="20.5" text-anchor="middle" fill="#000">290</text>
<line x1="1809" y1="911.1" x2="1809" y2="921" stroke="#000" stroke-width="2.2"/>
<text x="1809" y="944" font-size="20.5" text-anchor="middle" fill="#000">295</text>
<line x1="1877.3" y1="911.1" x2="1877.3" y2="921" stroke="#000" stroke-width="2.2"/>
<text x="1877.3" y="944" font-size="20.5" text-anchor="middle" fill="#000">300</text>
<text x="1729" y="976.6" font-size="30.2" text-anchor="middle" fill="#000">Binding energy (eV)</text>
<text transform="translate(1518 789.5) rotate(-90)" font-size="28.7" text-anchor="middle" fill="#000">Intensity (a.u.)</text>
<text x="1509.5" y="624.7" font-size="35" font-weight="bold" fill="#000">h</text>
<text x="1609" y="677.5" font-size="21" text-anchor="middle" fill="#000">C-C</text>
<text x="1751.4" y="724.6" font-size="21" text-anchor="middle" fill="#000">C-OH</text>
<text x="1813" y="764.7" font-size="21" text-anchor="middle" fill="#000">C=O</text>
<text x="1837" y="809.9" font-size="21" text-anchor="middle" fill="#000">C(O)-O</text>
<text x="1812" y="896.9" font-size="21" text-anchor="middle" fill="#000">Background</text>
<line x1="1611" y1="684" x2="1644.1" y2="717.4" stroke="#000" stroke-width="3.6"/><polygon points="1656.1,729.5 1637,721.6 1648.4,710.4" fill="#000"/>
<line x1="1728.7" y1="737.4" x2="1709.4" y2="765.1" stroke="#000" stroke-width="3.6"/><polygon points="1699.7,779 1704,758.8 1717.1,768" fill="#000"/>
<line x1="1784.3" y1="768.1" x2="1736.4" y2="816.6" stroke="#000" stroke-width="3.6"/><polygon points="1724.4,828.7 1732.1,809.6 1743.4,820.8" fill="#000"/>
<line x1="1799.5" y1="818.2" x2="1781.2" y2="830.3" stroke="#000" stroke-width="3.6"/><polygon points="1767,839.6 1778.5,822.5 1787.3,835.8" fill="#000"/>
</svg>
</body></html>
